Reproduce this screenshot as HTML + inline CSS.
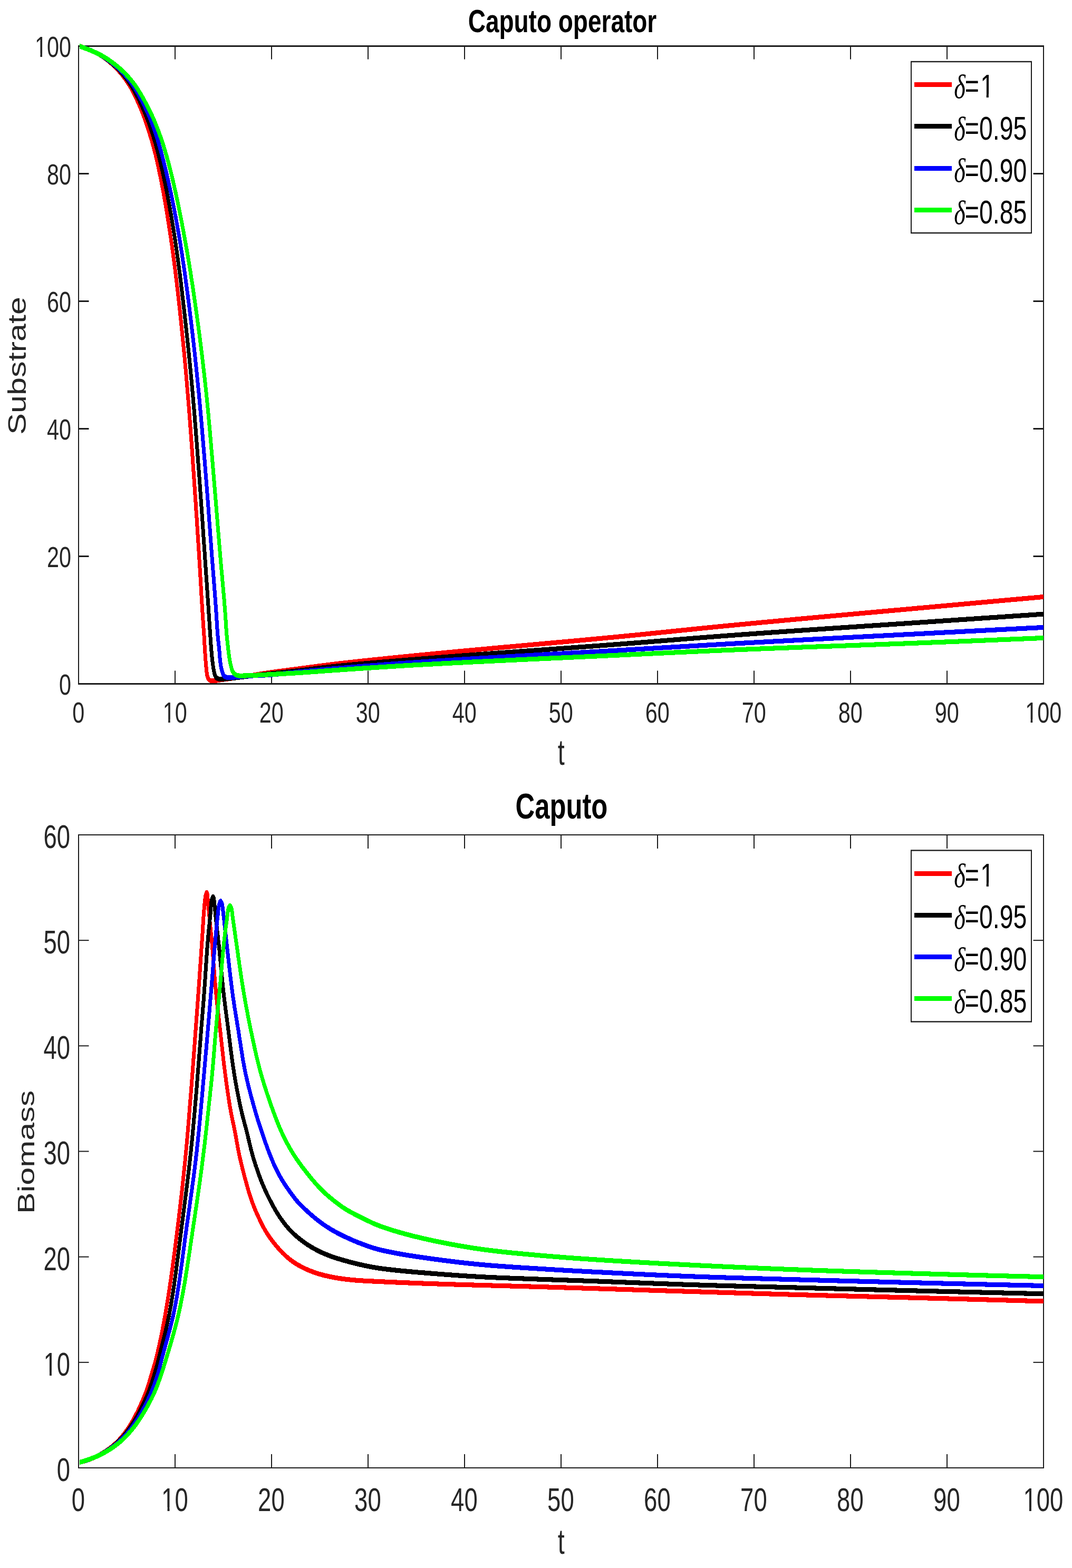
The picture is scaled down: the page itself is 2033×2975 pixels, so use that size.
<!DOCTYPE html>
<html lang="en"><head><meta charset="utf-8"><title>Caputo operator</title>
<style>html,body{margin:0;padding:0;background:#fff}body{width:2033px;height:2975px;overflow:hidden}</style></head>
<body>
<svg width="2033" height="2975" viewBox="0 0 2033 2975" style="display:block;font-kerning:none">
<rect width="2033" height="2975" fill="#ffffff"/>
<g fill="#1c1c1c">
<rect x="148.00" y="86.00" width="1832.00" height="3.00"/>
<rect x="148.00" y="1296.00" width="1832.00" height="3.00"/>
<rect x="148.00" y="87.50" width="2.00" height="1210.00"/>
<rect x="1978.00" y="87.50" width="2.00" height="1210.00"/>
<rect x="331.00" y="1272.50" width="2.00" height="25.00"/>
<rect x="331.00" y="87.50" width="2.00" height="25.00"/>
<rect x="514.00" y="1272.50" width="2.00" height="25.00"/>
<rect x="514.00" y="87.50" width="2.00" height="25.00"/>
<rect x="697.00" y="1272.50" width="2.00" height="25.00"/>
<rect x="697.00" y="87.50" width="2.00" height="25.00"/>
<rect x="880.00" y="1272.50" width="2.00" height="25.00"/>
<rect x="880.00" y="87.50" width="2.00" height="25.00"/>
<rect x="1063.00" y="1272.50" width="2.00" height="25.00"/>
<rect x="1063.00" y="87.50" width="2.00" height="25.00"/>
<rect x="1246.00" y="1272.50" width="2.00" height="25.00"/>
<rect x="1246.00" y="87.50" width="2.00" height="25.00"/>
<rect x="1429.00" y="1272.50" width="2.00" height="25.00"/>
<rect x="1429.00" y="87.50" width="2.00" height="25.00"/>
<rect x="1612.00" y="1272.50" width="2.00" height="25.00"/>
<rect x="1612.00" y="87.50" width="2.00" height="25.00"/>
<rect x="1795.00" y="1272.50" width="2.00" height="25.00"/>
<rect x="1795.00" y="87.50" width="2.00" height="25.00"/>
<rect x="149.00" y="1054.00" width="19.50" height="3.00"/>
<rect x="1959.50" y="1054.00" width="19.50" height="3.00"/>
<rect x="149.00" y="812.00" width="19.50" height="3.00"/>
<rect x="1959.50" y="812.00" width="19.50" height="3.00"/>
<rect x="149.00" y="570.00" width="19.50" height="3.00"/>
<rect x="1959.50" y="570.00" width="19.50" height="3.00"/>
<rect x="149.00" y="328.00" width="19.50" height="3.00"/>
<rect x="1959.50" y="328.00" width="19.50" height="3.00"/>
</g>
<g fill="#1c1c1c">
<rect x="148.00" y="1583.00" width="1832.00" height="2.00"/>
<rect x="148.00" y="2784.00" width="1832.00" height="2.00"/>
<rect x="148.00" y="1584.00" width="2.00" height="1201.00"/>
<rect x="1978.00" y="1584.00" width="2.00" height="1201.00"/>
<rect x="331.00" y="2759.00" width="2.00" height="26.00"/>
<rect x="331.00" y="1584.00" width="2.00" height="26.00"/>
<rect x="514.00" y="2759.00" width="2.00" height="26.00"/>
<rect x="514.00" y="1584.00" width="2.00" height="26.00"/>
<rect x="697.00" y="2759.00" width="2.00" height="26.00"/>
<rect x="697.00" y="1584.00" width="2.00" height="26.00"/>
<rect x="880.00" y="2759.00" width="2.00" height="26.00"/>
<rect x="880.00" y="1584.00" width="2.00" height="26.00"/>
<rect x="1063.00" y="2759.00" width="2.00" height="26.00"/>
<rect x="1063.00" y="1584.00" width="2.00" height="26.00"/>
<rect x="1246.00" y="2759.00" width="2.00" height="26.00"/>
<rect x="1246.00" y="1584.00" width="2.00" height="26.00"/>
<rect x="1429.00" y="2759.00" width="2.00" height="26.00"/>
<rect x="1429.00" y="1584.00" width="2.00" height="26.00"/>
<rect x="1612.00" y="2759.00" width="2.00" height="26.00"/>
<rect x="1612.00" y="1584.00" width="2.00" height="26.00"/>
<rect x="1795.00" y="2759.00" width="2.00" height="26.00"/>
<rect x="1795.00" y="1584.00" width="2.00" height="26.00"/>
<rect x="149.00" y="2583.83" width="19.50" height="2.00"/>
<rect x="1959.50" y="2583.83" width="19.50" height="2.00"/>
<rect x="149.00" y="2383.66" width="19.50" height="2.00"/>
<rect x="1959.50" y="2383.66" width="19.50" height="2.00"/>
<rect x="149.00" y="2183.49" width="19.50" height="2.00"/>
<rect x="1959.50" y="2183.49" width="19.50" height="2.00"/>
<rect x="149.00" y="1983.32" width="19.50" height="2.00"/>
<rect x="1959.50" y="1983.32" width="19.50" height="2.00"/>
<rect x="149.00" y="1783.15" width="19.50" height="2.00"/>
<rect x="1959.50" y="1783.15" width="19.50" height="2.00"/>
</g>
<text transform="translate(148.70 1371.46) scale(0.7458 1)" font-family="&quot;Liberation Sans&quot;, sans-serif" font-size="55.51" font-weight="normal" font-style="normal" text-anchor="middle" fill="#262626">0</text>
<text transform="translate(331.70 1371.46) scale(0.7458 1)" font-family="&quot;Liberation Sans&quot;, sans-serif" font-size="55.51" font-weight="normal" font-style="normal" text-anchor="middle" fill="#262626">10</text>
<rect x="310.83" y="1364.81" width="8.26" height="7.65" fill="#fff"/>
<rect x="322.74" y="1364.81" width="7.93" height="7.65" fill="#fff"/>
<text transform="translate(514.70 1371.46) scale(0.7458 1)" font-family="&quot;Liberation Sans&quot;, sans-serif" font-size="55.51" font-weight="normal" font-style="normal" text-anchor="middle" fill="#262626">20</text>
<text transform="translate(697.70 1371.46) scale(0.7458 1)" font-family="&quot;Liberation Sans&quot;, sans-serif" font-size="55.51" font-weight="normal" font-style="normal" text-anchor="middle" fill="#262626">30</text>
<text transform="translate(880.70 1371.46) scale(0.7458 1)" font-family="&quot;Liberation Sans&quot;, sans-serif" font-size="55.51" font-weight="normal" font-style="normal" text-anchor="middle" fill="#262626">40</text>
<text transform="translate(1063.70 1371.46) scale(0.7458 1)" font-family="&quot;Liberation Sans&quot;, sans-serif" font-size="55.51" font-weight="normal" font-style="normal" text-anchor="middle" fill="#262626">50</text>
<text transform="translate(1246.70 1371.46) scale(0.7458 1)" font-family="&quot;Liberation Sans&quot;, sans-serif" font-size="55.51" font-weight="normal" font-style="normal" text-anchor="middle" fill="#262626">60</text>
<text transform="translate(1429.70 1371.46) scale(0.7458 1)" font-family="&quot;Liberation Sans&quot;, sans-serif" font-size="55.51" font-weight="normal" font-style="normal" text-anchor="middle" fill="#262626">70</text>
<text transform="translate(1612.70 1371.46) scale(0.7458 1)" font-family="&quot;Liberation Sans&quot;, sans-serif" font-size="55.51" font-weight="normal" font-style="normal" text-anchor="middle" fill="#262626">80</text>
<text transform="translate(1795.70 1371.46) scale(0.7458 1)" font-family="&quot;Liberation Sans&quot;, sans-serif" font-size="55.51" font-weight="normal" font-style="normal" text-anchor="middle" fill="#262626">90</text>
<text transform="translate(1978.70 1371.46) scale(0.7458 1)" font-family="&quot;Liberation Sans&quot;, sans-serif" font-size="55.51" font-weight="normal" font-style="normal" text-anchor="middle" fill="#262626">100</text>
<rect x="1946.32" y="1364.81" width="8.26" height="7.65" fill="#fff"/>
<rect x="1958.23" y="1364.81" width="7.93" height="7.65" fill="#fff"/>
<text transform="translate(135.00 1318.30) scale(0.7458 1)" font-family="&quot;Liberation Sans&quot;, sans-serif" font-size="55.51" font-weight="normal" font-style="normal" text-anchor="end" fill="#262626">0</text>
<text transform="translate(135.00 1076.30) scale(0.7458 1)" font-family="&quot;Liberation Sans&quot;, sans-serif" font-size="55.51" font-weight="normal" font-style="normal" text-anchor="end" fill="#262626">20</text>
<text transform="translate(135.00 834.30) scale(0.7458 1)" font-family="&quot;Liberation Sans&quot;, sans-serif" font-size="55.51" font-weight="normal" font-style="normal" text-anchor="end" fill="#262626">40</text>
<text transform="translate(135.00 592.30) scale(0.7458 1)" font-family="&quot;Liberation Sans&quot;, sans-serif" font-size="55.51" font-weight="normal" font-style="normal" text-anchor="end" fill="#262626">60</text>
<text transform="translate(135.00 350.30) scale(0.7458 1)" font-family="&quot;Liberation Sans&quot;, sans-serif" font-size="55.51" font-weight="normal" font-style="normal" text-anchor="end" fill="#262626">80</text>
<text transform="translate(135.00 108.30) scale(0.7458 1)" font-family="&quot;Liberation Sans&quot;, sans-serif" font-size="55.51" font-weight="normal" font-style="normal" text-anchor="end" fill="#262626">100</text>
<rect x="68.08" y="101.65" width="8.26" height="7.65" fill="#fff"/>
<rect x="80.00" y="101.65" width="7.93" height="7.65" fill="#fff"/>
<text transform="translate(148.40 2867.18) scale(0.7191 1)" font-family="&quot;Liberation Sans&quot;, sans-serif" font-size="63.28" font-weight="normal" font-style="normal" text-anchor="middle" fill="#262626">0</text>
<text transform="translate(331.40 2867.18) scale(0.7191 1)" font-family="&quot;Liberation Sans&quot;, sans-serif" font-size="63.28" font-weight="normal" font-style="normal" text-anchor="middle" fill="#262626">10</text>
<rect x="308.56" y="2859.95" width="8.98" height="8.23" fill="#fff"/>
<rect x="321.56" y="2859.95" width="8.62" height="8.23" fill="#fff"/>
<text transform="translate(514.40 2867.18) scale(0.7191 1)" font-family="&quot;Liberation Sans&quot;, sans-serif" font-size="63.28" font-weight="normal" font-style="normal" text-anchor="middle" fill="#262626">20</text>
<text transform="translate(697.40 2867.18) scale(0.7191 1)" font-family="&quot;Liberation Sans&quot;, sans-serif" font-size="63.28" font-weight="normal" font-style="normal" text-anchor="middle" fill="#262626">30</text>
<text transform="translate(880.40 2867.18) scale(0.7191 1)" font-family="&quot;Liberation Sans&quot;, sans-serif" font-size="63.28" font-weight="normal" font-style="normal" text-anchor="middle" fill="#262626">40</text>
<text transform="translate(1063.40 2867.18) scale(0.7191 1)" font-family="&quot;Liberation Sans&quot;, sans-serif" font-size="63.28" font-weight="normal" font-style="normal" text-anchor="middle" fill="#262626">50</text>
<text transform="translate(1246.40 2867.18) scale(0.7191 1)" font-family="&quot;Liberation Sans&quot;, sans-serif" font-size="63.28" font-weight="normal" font-style="normal" text-anchor="middle" fill="#262626">60</text>
<text transform="translate(1429.40 2867.18) scale(0.7191 1)" font-family="&quot;Liberation Sans&quot;, sans-serif" font-size="63.28" font-weight="normal" font-style="normal" text-anchor="middle" fill="#262626">70</text>
<text transform="translate(1612.40 2867.18) scale(0.7191 1)" font-family="&quot;Liberation Sans&quot;, sans-serif" font-size="63.28" font-weight="normal" font-style="normal" text-anchor="middle" fill="#262626">80</text>
<text transform="translate(1795.40 2867.18) scale(0.7191 1)" font-family="&quot;Liberation Sans&quot;, sans-serif" font-size="63.28" font-weight="normal" font-style="normal" text-anchor="middle" fill="#262626">90</text>
<text transform="translate(1978.40 2867.18) scale(0.7191 1)" font-family="&quot;Liberation Sans&quot;, sans-serif" font-size="63.28" font-weight="normal" font-style="normal" text-anchor="middle" fill="#262626">100</text>
<rect x="1942.91" y="2859.95" width="8.98" height="8.23" fill="#fff"/>
<rect x="1955.91" y="2859.95" width="8.62" height="8.23" fill="#fff"/>
<text transform="translate(133.10 2810.00) scale(0.7191 1)" font-family="&quot;Liberation Sans&quot;, sans-serif" font-size="63.28" font-weight="normal" font-style="normal" text-anchor="end" fill="#262626">0</text>
<text transform="translate(133.10 2609.83) scale(0.7191 1)" font-family="&quot;Liberation Sans&quot;, sans-serif" font-size="63.28" font-weight="normal" font-style="normal" text-anchor="end" fill="#262626">10</text>
<rect x="84.96" y="2602.60" width="8.98" height="8.23" fill="#fff"/>
<rect x="97.95" y="2602.60" width="8.62" height="8.23" fill="#fff"/>
<text transform="translate(133.10 2409.66) scale(0.7191 1)" font-family="&quot;Liberation Sans&quot;, sans-serif" font-size="63.28" font-weight="normal" font-style="normal" text-anchor="end" fill="#262626">20</text>
<text transform="translate(133.10 2209.49) scale(0.7191 1)" font-family="&quot;Liberation Sans&quot;, sans-serif" font-size="63.28" font-weight="normal" font-style="normal" text-anchor="end" fill="#262626">30</text>
<text transform="translate(133.10 2009.32) scale(0.7191 1)" font-family="&quot;Liberation Sans&quot;, sans-serif" font-size="63.28" font-weight="normal" font-style="normal" text-anchor="end" fill="#262626">40</text>
<text transform="translate(133.10 1809.15) scale(0.7191 1)" font-family="&quot;Liberation Sans&quot;, sans-serif" font-size="63.28" font-weight="normal" font-style="normal" text-anchor="end" fill="#262626">50</text>
<text transform="translate(133.10 1608.98) scale(0.7191 1)" font-family="&quot;Liberation Sans&quot;, sans-serif" font-size="63.28" font-weight="normal" font-style="normal" text-anchor="end" fill="#262626">60</text>
<text transform="translate(887.71 61.04) scale(0.7476 1)" font-family="&quot;Liberation Sans&quot;, sans-serif" font-size="61.50" font-weight="bold" font-style="normal" text-anchor="start" fill="#000">Caputo operator</text>
<text transform="translate(977.52 1553.43) scale(0.7382 1)" font-family="&quot;Liberation Sans&quot;, sans-serif" font-size="68.78" font-weight="bold" font-style="normal" text-anchor="start" fill="#000">Caputo</text>
<text transform="translate(1057.69 1450.76) scale(0.6791 1)" font-family="&quot;Liberation Sans&quot;, sans-serif" font-size="68.62" font-weight="normal" font-style="normal" text-anchor="start" fill="#262626">t</text>
<text transform="translate(1057.69 2948.18) scale(0.6945 1)" font-family="&quot;Liberation Sans&quot;, sans-serif" font-size="67.09" font-weight="normal" font-style="normal" text-anchor="start" fill="#262626">t</text>
<text transform="translate(48.63 824.78) scale(0.7878 1) rotate(-90)" font-family="&quot;Liberation Sans&quot;, sans-serif" font-size="61.19" fill="#262626">Substrate</text>
<text transform="translate(64.66 2303.02) scale(0.7391 1) rotate(-90)" font-family="&quot;Liberation Sans&quot;, sans-serif" font-size="61.16" fill="#262626">Biomass</text>
<clipPath id="c1"><rect x="151" y="79.5" width="1828.0" height="1216.5"/></clipPath>
<g clip-path="url(#c1)"><g transform="scale(1 1.3)" fill="none" stroke-width="7.0" stroke-linejoin="round" stroke-linecap="butt" shape-rendering="crispEdges">
<path stroke="#ff0000" d="M149.0,66.92 L150.9,67.41 L152.8,67.91 L154.7,68.40 L156.6,68.91 L158.5,69.43 L160.3,69.95 L162.2,70.49 L164.1,71.04 L165.9,71.60 L167.8,72.17 L169.7,72.75 L171.5,73.35 L173.3,73.95 L175.2,74.57 L177.0,75.20 L178.8,75.85 L180.6,76.51 L182.4,77.19 L184.2,77.89 L186.0,78.61 L187.7,79.35 L189.4,80.11 L191.2,80.90 L192.9,81.72 L194.5,82.56 L196.2,83.42 L197.8,84.31 L199.4,85.22 L201.0,86.14 L202.6,87.09 L204.2,88.05 L205.7,89.02 L207.3,90.01 L208.8,91.01 L210.3,92.02 L211.8,93.05 L213.3,94.09 L214.7,95.13 L216.2,96.20 L217.6,97.27 L219.0,98.36 L220.4,99.46 L221.8,100.57 L223.2,101.69 L224.5,102.83 L225.8,103.97 L227.2,105.13 L228.5,106.30 L229.7,107.48 L231.0,108.67 L232.3,109.87 L233.5,111.09 L234.7,112.31 L235.9,113.54 L237.1,114.78 L238.3,116.03 L239.4,117.30 L240.5,118.57 L241.6,119.85 L242.7,121.14 L243.8,122.44 L244.8,123.75 L245.9,125.07 L246.9,126.40 L247.9,127.73 L248.9,129.07 L249.8,130.42 L250.8,131.78 L251.7,133.13 L252.6,134.50 L253.5,135.87 L254.4,137.25 L255.3,138.62 L256.2,140.01 L257.1,141.40 L257.9,142.79 L258.8,144.18 L259.6,145.58 L260.4,146.98 L261.3,148.38 L262.1,149.78 L262.9,151.19 L263.7,152.60 L264.5,154.02 L265.2,155.43 L266.0,156.85 L266.8,158.27 L267.6,159.69 L268.3,161.12 L269.0,162.55 L269.8,163.98 L270.5,165.41 L271.2,166.85 L271.9,168.29 L272.7,169.73 L273.3,171.17 L274.0,172.61 L274.7,174.06 L275.4,175.51 L276.1,176.96 L276.7,178.41 L277.4,179.87 L278.0,181.32 L278.6,182.78 L279.3,184.24 L279.9,185.70 L280.5,187.17 L281.1,188.63 L281.8,190.09 L282.4,191.56 L283.0,193.03 L283.6,194.49 L284.2,195.96 L284.7,197.43 L285.3,198.91 L285.9,200.38 L286.5,201.85 L287.1,203.33 L287.6,204.80 L288.2,206.28 L288.7,207.76 L289.3,209.24 L289.8,210.72 L290.3,212.21 L290.9,213.69 L291.4,215.18 L291.9,216.66 L292.4,218.15 L292.9,219.64 L293.4,221.13 L293.9,222.62 L294.4,224.11 L294.9,225.61 L295.3,227.10 L295.8,228.60 L296.3,230.10 L296.7,231.60 L297.2,233.10 L297.6,234.60 L298.1,236.10 L298.5,237.60 L298.9,239.10 L299.4,240.60 L299.8,242.11 L300.2,243.61 L300.6,245.11 L301.0,246.62 L301.5,248.12 L301.9,249.63 L302.3,251.14 L302.7,252.64 L303.1,254.15 L303.5,255.66 L303.9,257.16 L304.3,258.67 L304.7,260.18 L305.1,261.69 L305.5,263.20 L305.9,264.71 L306.2,266.22 L306.6,267.73 L307.0,269.24 L307.4,270.75 L307.8,272.26 L308.1,273.77 L308.5,275.28 L308.9,276.80 L309.2,278.31 L309.6,279.82 L310.0,281.34 L310.3,282.85 L310.7,284.36 L311.0,285.88 L311.4,287.39 L311.7,288.91 L312.1,290.42 L312.4,291.94 L312.8,293.45 L313.1,294.97 L313.5,296.49 L313.8,298.00 L314.1,299.52 L314.5,301.04 L314.8,302.55 L315.1,304.07 L315.5,305.59 L315.8,307.11 L316.1,308.62 L316.4,310.14 L316.8,311.66 L317.1,313.18 L317.4,314.70 L317.7,316.22 L318.0,317.74 L318.4,319.26 L318.7,320.78 L319.0,322.30 L319.3,323.82 L319.6,325.34 L319.9,326.86 L320.2,328.38 L320.5,329.90 L320.8,331.42 L321.1,332.94 L321.4,334.46 L321.7,335.98 L322.0,337.50 L322.3,339.02 L322.6,340.55 L322.9,342.07 L323.2,343.59 L323.5,345.11 L323.8,346.64 L324.1,348.16 L324.4,349.68 L324.6,351.20 L324.9,352.73 L325.2,354.25 L325.5,355.77 L325.8,357.30 L326.1,358.82 L326.3,360.34 L326.6,361.87 L326.9,363.39 L327.2,364.92 L327.4,366.44 L327.7,367.96 L328.0,369.49 L328.2,371.01 L328.5,372.54 L328.8,374.06 L329.0,375.59 L329.3,377.11 L329.6,378.64 L329.8,380.17 L330.1,381.69 L330.3,383.22 L330.6,384.74 L330.8,386.27 L331.1,387.80 L331.3,389.32 L331.6,390.85 L331.9,392.37 L332.1,393.90 L332.3,395.43 L332.6,396.96 L332.8,398.48 L333.1,400.01 L333.3,401.54 L333.6,403.06 L333.8,404.59 L334.1,406.12 L334.3,407.65 L334.5,409.17 L334.8,410.70 L335.0,412.23 L335.2,413.76 L335.5,415.29 L335.7,416.81 L335.9,418.34 L336.2,419.87 L336.4,421.40 L336.6,422.93 L336.9,424.46 L337.1,425.98 L337.3,427.51 L337.5,429.04 L337.8,430.57 L338.0,432.10 L338.2,433.63 L338.4,435.16 L338.7,436.69 L338.9,438.22 L339.1,439.74 L339.3,441.27 L339.6,442.80 L339.8,444.33 L340.0,445.86 L340.2,447.39 L340.4,448.92 L340.6,450.45 L340.9,451.98 L341.1,453.51 L341.3,455.04 L341.5,456.57 L341.7,458.10 L341.9,459.63 L342.1,461.16 L342.4,462.69 L342.6,464.22 L342.8,465.75 L343.0,467.28 L343.2,468.81 L343.4,470.34 L343.6,471.87 L343.8,473.40 L344.0,474.93 L344.2,476.46 L344.4,477.99 L344.6,479.52 L344.8,481.05 L345.0,482.58 L345.2,484.12 L345.4,485.65 L345.6,487.18 L345.8,488.71 L346.0,490.24 L346.2,491.77 L346.4,493.30 L346.6,494.83 L346.8,496.36 L347.0,497.89 L347.2,499.43 L347.4,500.96 L347.6,502.49 L347.8,504.02 L348.0,505.55 L348.2,507.08 L348.4,508.62 L348.6,510.15 L348.8,511.68 L349.0,513.21 L349.1,514.74 L349.3,516.27 L349.5,517.81 L349.7,519.34 L349.9,520.87 L350.1,522.40 L350.3,523.93 L350.4,525.47 L350.6,527.00 L350.8,528.53 L351.0,530.06 L351.2,531.59 L351.4,533.13 L351.5,534.66 L351.7,536.19 L351.9,537.72 L352.1,539.26 L352.3,540.79 L352.4,542.32 L352.6,543.85 L352.8,545.39 L353.0,546.92 L353.1,548.45 L353.3,549.99 L353.5,551.52 L353.7,553.05 L353.8,554.58 L354.0,556.12 L354.2,557.65 L354.4,559.18 L354.5,560.72 L354.7,562.25 L354.9,563.78 L355.0,565.32 L355.2,566.85 L355.4,568.38 L355.5,569.91 L355.7,571.45 L355.9,572.98 L356.0,574.51 L356.2,576.05 L356.4,577.58 L356.5,579.12 L356.7,580.65 L356.9,582.18 L357.0,583.72 L357.2,585.25 L357.3,586.78 L357.5,588.32 L357.7,589.85 L357.8,591.38 L358.0,592.92 L358.1,594.45 L358.3,595.99 L358.5,597.52 L358.6,599.05 L358.8,600.59 L358.9,602.12 L359.1,603.66 L359.2,605.19 L359.4,606.72 L359.5,608.26 L359.7,609.79 L359.8,611.33 L360.0,612.86 L360.1,614.39 L360.3,615.93 L360.4,617.46 L360.6,619.00 L360.7,620.53 L360.9,622.07 L361.0,623.60 L361.2,625.14 L361.3,626.67 L361.5,628.20 L361.6,629.74 L361.8,631.27 L361.9,632.81 L362.1,634.34 L362.2,635.88 L362.4,637.41 L362.5,638.95 L362.6,640.48 L362.8,642.02 L362.9,643.55 L363.1,645.09 L363.2,646.62 L363.4,648.15 L363.5,649.69 L363.6,651.22 L363.8,652.76 L363.9,654.29 L364.1,655.83 L364.2,657.36 L364.4,658.90 L364.5,660.43 L364.6,661.97 L364.8,663.50 L364.9,665.04 L365.1,666.57 L365.2,668.11 L365.3,669.64 L365.5,671.18 L365.6,672.71 L365.8,674.25 L365.9,675.78 L366.0,677.32 L366.2,678.85 L366.3,680.39 L366.5,681.92 L366.6,683.46 L366.7,684.99 L366.9,686.53 L367.0,688.06 L367.2,689.60 L367.3,691.13 L367.4,692.67 L367.6,694.20 L367.7,695.74 L367.8,697.27 L368.0,698.81 L368.1,700.34 L368.3,701.88 L368.4,703.41 L368.5,704.95 L368.7,706.48 L368.8,708.02 L368.9,709.55 L369.1,711.09 L369.2,712.62 L369.4,714.16 L369.5,715.69 L369.6,717.23 L369.8,718.76 L369.9,720.30 L370.0,721.83 L370.2,723.37 L370.3,724.90 L370.4,726.44 L370.6,727.97 L370.7,729.51 L370.8,731.04 L371.0,732.58 L371.1,734.11 L371.2,735.65 L371.4,737.18 L371.5,738.72 L371.6,740.25 L371.8,741.79 L371.9,743.32 L372.0,744.86 L372.2,746.40 L372.3,747.93 L372.4,749.47 L372.6,751.00 L372.7,752.54 L372.8,754.07 L373.0,755.61 L373.1,757.14 L373.2,758.68 L373.4,760.21 L373.5,761.75 L373.6,763.28 L373.7,764.82 L373.9,766.36 L374.0,767.89 L374.1,769.43 L374.3,770.96 L374.4,772.50 L374.5,774.03 L374.6,775.57 L374.8,777.10 L374.9,778.64 L375.0,780.17 L375.2,781.71 L375.3,783.25 L375.4,784.78 L375.5,786.32 L375.7,787.85 L375.8,789.39 L375.9,790.92 L376.0,792.46 L376.2,793.99 L376.3,795.53 L376.4,797.07 L376.6,798.60 L376.7,800.14 L376.8,801.67 L376.9,803.21 L377.1,804.74 L377.2,806.28 L377.3,807.81 L377.4,809.35 L377.6,810.89 L377.7,812.42 L377.8,813.96 L377.9,815.49 L378.0,817.03 L378.2,818.56 L378.3,820.10 L378.4,821.64 L378.5,823.17 L378.6,824.71 L378.8,826.24 L378.9,827.78 L379.0,829.32 L379.1,830.85 L379.2,832.39 L379.4,833.92 L379.5,835.46 L379.6,837.00 L379.7,838.53 L379.8,840.07 L379.9,841.60 L380.1,843.14 L380.2,844.68 L380.3,846.21 L380.4,847.75 L380.5,849.29 L380.6,850.82 L380.7,852.36 L380.9,853.89 L381.0,855.43 L381.1,856.97 L381.2,858.50 L381.3,860.04 L381.4,861.57 L381.6,863.11 L381.7,864.65 L381.8,866.18 L381.9,867.72 L382.0,869.25 L382.1,870.79 L382.3,872.33 L382.4,873.86 L382.5,875.40 L382.6,876.93 L382.7,878.47 L382.9,880.00 L383.0,881.54 L383.1,883.08 L383.2,884.61 L383.4,886.15 L383.5,887.68 L383.6,889.22 L383.7,890.75 L383.9,892.29 L384.0,893.83 L384.1,895.36 L384.2,896.90 L384.4,898.43 L384.5,899.97 L384.6,901.50 L384.8,903.04 L384.9,904.57 L385.1,906.11 L385.2,907.64 L385.3,909.18 L385.5,910.71 L385.6,912.25 L385.8,913.78 L385.9,915.32 L386.0,916.85 L386.2,918.39 L386.3,919.92 L386.4,921.46 L386.6,922.99 L386.7,924.53 L386.8,926.06 L387.0,927.60 L387.1,929.14 L387.2,930.67 L387.3,932.21 L387.4,933.74 L387.6,935.28 L387.7,936.81 L387.8,938.35 L387.9,939.89 L388.0,941.42 L388.1,942.96 L388.3,944.49 L388.4,946.03 L388.5,947.57 L388.6,949.10 L388.8,950.64 L388.9,952.17 L389.0,953.71 L389.2,955.24 L389.3,956.78 L389.4,958.31 L389.6,959.85 L389.7,961.38 L389.9,962.92 L390.0,964.45 L390.2,965.99 L390.3,967.52 L390.5,969.05 L390.6,970.59 L390.8,972.12 L391.0,973.65 L391.2,975.19 L391.3,976.72 L391.5,978.25 L391.8,979.78 L392.0,981.31 L392.3,982.83 L392.6,984.35 L392.9,985.87 L393.4,987.36 L394.0,988.83 L394.8,990.23 L395.9,991.53 L397.3,992.60 L399.1,993.24 L401.1,993.54 L403.1,993.60 L405.1,993.61 L407.1,993.55 L409.1,993.38 L411.0,993.14 L413.0,992.86 L415.0,992.58 L416.9,992.33 L418.9,992.12 L420.9,991.92 L422.9,991.73 L424.9,991.55 L426.9,991.36 L428.8,991.17 L430.8,990.98 L432.8,990.78 L434.8,990.57 L436.8,990.34 L438.8,990.12 L440.7,989.90 L442.7,989.68 L444.7,989.46 L446.7,989.24 L448.7,989.03 L450.6,988.82 L452.6,988.60 L454.6,988.39 L456.6,988.17 L458.6,987.96 L460.5,987.74 L462.5,987.52 L464.5,987.30 L466.5,987.08 L468.5,986.86 L470.4,986.63 L472.4,986.40 L474.4,986.17 L476.4,985.93 L478.3,985.69 L480.3,985.44 L482.3,985.18 L484.3,984.93 L486.2,984.67 L488.2,984.41 L490.2,984.16 L492.1,983.91 L494.1,983.66 L496.1,983.41 L498.1,983.17 L500.1,982.94 L502.0,982.71 L504.0,982.48 L506.0,982.26 L508.0,982.03 L509.9,981.82 L511.9,981.60 L513.9,981.38 L515.9,981.17 L517.9,980.96 L519.8,980.75 L521.8,980.54 L523.8,980.33 L525.8,980.13 L527.8,979.92 L529.8,979.72 L531.7,979.52 L533.7,979.32 L535.7,979.12 L537.7,978.92 L539.7,978.72 L541.7,978.52 L543.6,978.33 L545.6,978.13 L547.6,977.93 L549.6,977.73 L551.6,977.54 L553.6,977.34 L555.5,977.14 L557.5,976.94 L559.5,976.75 L561.5,976.55 L563.5,976.35 L565.5,976.15 L567.4,975.95 L569.4,975.75 L571.4,975.54 L573.4,975.34 L575.4,975.14 L577.4,974.93 L579.3,974.73 L581.3,974.52 L583.3,974.32 L585.3,974.11 L587.3,973.91 L589.3,973.70 L591.2,973.50 L593.2,973.29 L595.2,973.09 L597.2,972.88 L599.2,972.68 L601.2,972.48 L603.1,972.28 L605.1,972.07 L607.1,971.87 L609.1,971.67 L611.1,971.47 L613.1,971.28 L615.0,971.08 L617.0,970.89 L619.0,970.69 L621.0,970.50 L623.0,970.31 L625.0,970.12 L626.9,969.93 L628.9,969.75 L630.9,969.56 L632.9,969.38 L634.9,969.20 L636.9,969.02 L638.9,968.84 L640.8,968.66 L642.8,968.48 L644.8,968.31 L646.8,968.13 L648.8,967.95 L650.8,967.78 L652.8,967.61 L654.8,967.43 L656.7,967.26 L658.7,967.09 L660.7,966.91 L662.7,966.74 L664.7,966.57 L666.7,966.40 L668.7,966.24 L670.7,966.07 L672.6,965.90 L674.6,965.73 L676.6,965.56 L678.6,965.40 L680.6,965.23 L682.6,965.07 L684.6,964.90 L686.6,964.74 L688.6,964.57 L690.5,964.41 L692.5,964.25 L694.5,964.09 L696.5,963.92 L698.5,963.76 L700.5,963.60 L702.5,963.44 L704.5,963.28 L706.5,963.12 L708.5,962.96 L710.4,962.80 L712.4,962.64 L714.4,962.49 L716.4,962.33 L718.4,962.17 L720.4,962.01 L722.4,961.86 L724.4,961.70 L726.4,961.54 L728.3,961.39 L730.3,961.23 L732.3,961.07 L734.3,960.92 L736.3,960.76 L738.3,960.61 L740.3,960.45 L742.3,960.30 L744.3,960.14 L746.3,959.99 L748.2,959.83 L750.2,959.68 L752.2,959.53 L754.2,959.37 L756.2,959.22 L758.2,959.06 L760.2,958.91 L762.2,958.76 L764.2,958.60 L766.2,958.45 L768.2,958.30 L770.1,958.14 L772.1,957.99 L774.1,957.84 L776.1,957.68 L778.1,957.53 L780.1,957.38 L782.1,957.23 L784.1,957.07 L786.1,956.92 L788.1,956.77 L790.0,956.62 L792.0,956.46 L794.0,956.31 L796.0,956.16 L798.0,956.01 L800.0,955.86 L802.0,955.71 L804.0,955.56 L806.0,955.41 L808.0,955.26 L810.0,955.11 L811.9,954.96 L813.9,954.81 L815.9,954.66 L817.9,954.51 L819.9,954.37 L821.9,954.22 L823.9,954.07 L825.9,953.92 L827.9,953.77 L829.9,953.63 L831.9,953.48 L833.8,953.33 L835.8,953.19 L837.8,953.04 L839.8,952.89 L841.8,952.75 L843.8,952.60 L845.8,952.46 L847.8,952.31 L849.8,952.17 L851.8,952.02 L853.8,951.88 L855.7,951.73 L857.7,951.59 L859.7,951.44 L861.7,951.30 L863.7,951.16 L865.7,951.01 L867.7,950.87 L869.7,950.72 L871.7,950.58 L873.7,950.44 L875.7,950.30 L877.7,950.15 L879.6,950.01 L881.6,949.87 L883.6,949.73 L885.6,949.58 L887.6,949.44 L889.6,949.30 L891.6,949.16 L893.6,949.02 L895.6,948.87 L897.6,948.73 L899.6,948.59 L901.6,948.45 L903.5,948.31 L905.5,948.17 L907.5,948.03 L909.5,947.89 L911.5,947.75 L913.5,947.61 L915.5,947.47 L917.5,947.33 L919.5,947.19 L921.5,947.05 L923.5,946.91 L925.5,946.77 L927.5,946.63 L929.4,946.49 L931.4,946.35 L933.4,946.21 L935.4,946.07 L937.4,945.93 L939.4,945.79 L941.4,945.65 L943.4,945.51 L945.4,945.37 L947.4,945.24 L949.4,945.10 L951.4,944.96 L953.3,944.82 L955.3,944.68 L957.3,944.54 L959.3,944.40 L961.3,944.26 L963.3,944.13 L965.3,943.99 L967.3,943.85 L969.3,943.71 L971.3,943.57 L973.3,943.43 L975.3,943.30 L977.3,943.16 L979.2,943.02 L981.2,942.88 L983.2,942.74 L985.2,942.61 L987.2,942.47 L989.2,942.33 L991.2,942.19 L993.2,942.05 L995.2,941.92 L997.2,941.78 L999.2,941.64 L1001.2,941.50 L1003.2,941.36 L1005.1,941.22 L1007.1,941.09 L1009.1,940.95 L1011.1,940.81 L1013.1,940.67 L1015.1,940.53 L1017.1,940.40 L1019.1,940.26 L1021.1,940.12 L1023.1,939.98 L1025.1,939.84 L1027.1,939.70 L1029.0,939.57 L1031.0,939.43 L1033.0,939.29 L1035.0,939.15 L1037.0,939.01 L1039.0,938.87 L1041.0,938.73 L1043.0,938.60 L1045.0,938.46 L1047.0,938.32 L1049.0,938.18 L1051.0,938.04 L1053.0,937.90 L1054.9,937.76 L1056.9,937.62 L1058.9,937.48 L1060.9,937.34 L1062.9,937.20 L1064.9,937.07 L1066.9,936.93 L1068.9,936.79 L1070.9,936.65 L1072.9,936.51 L1074.9,936.37 L1076.9,936.23 L1078.9,936.09 L1080.8,935.95 L1082.8,935.80 L1084.8,935.66 L1086.8,935.52 L1088.8,935.38 L1090.8,935.24 L1092.8,935.10 L1094.8,934.96 L1096.8,934.82 L1098.8,934.68 L1100.8,934.54 L1102.8,934.39 L1104.7,934.25 L1106.7,934.11 L1108.7,933.97 L1110.7,933.83 L1112.7,933.68 L1114.7,933.54 L1116.7,933.40 L1118.7,933.26 L1120.7,933.11 L1122.7,932.97 L1124.7,932.83 L1126.7,932.68 L1128.6,932.54 L1130.6,932.40 L1132.6,932.25 L1134.6,932.11 L1136.6,931.96 L1138.6,931.82 L1140.6,931.67 L1142.6,931.53 L1144.6,931.38 L1146.6,931.24 L1148.6,931.09 L1150.5,930.95 L1152.5,930.80 L1154.5,930.66 L1156.5,930.51 L1158.5,930.36 L1160.5,930.22 L1162.5,930.07 L1164.5,929.92 L1166.5,929.77 L1168.5,929.63 L1170.5,929.48 L1172.5,929.33 L1174.4,929.18 L1176.4,929.03 L1178.4,928.89 L1180.4,928.74 L1182.4,928.59 L1184.4,928.44 L1186.4,928.29 L1188.4,928.14 L1190.4,927.99 L1192.4,927.84 L1194.4,927.68 L1196.3,927.53 L1198.3,927.38 L1200.3,927.23 L1202.3,927.08 L1204.3,926.92 L1206.3,926.77 L1208.3,926.62 L1210.3,926.47 L1212.3,926.31 L1214.3,926.16 L1216.2,926.00 L1218.2,925.85 L1220.2,925.70 L1222.2,925.54 L1224.2,925.39 L1226.2,925.23 L1228.2,925.08 L1230.2,924.92 L1232.2,924.76 L1234.2,924.61 L1236.1,924.45 L1238.1,924.30 L1240.1,924.14 L1242.1,923.98 L1244.1,923.83 L1246.1,923.67 L1248.1,923.51 L1250.1,923.36 L1252.1,923.20 L1254.1,923.04 L1256.0,922.89 L1258.0,922.73 L1260.0,922.57 L1262.0,922.41 L1264.0,922.26 L1266.0,922.10 L1268.0,921.94 L1270.0,921.78 L1272.0,921.63 L1274.0,921.47 L1275.9,921.31 L1277.9,921.15 L1279.9,921.00 L1281.9,920.84 L1283.9,920.68 L1285.9,920.52 L1287.9,920.37 L1289.9,920.21 L1291.9,920.05 L1293.8,919.89 L1295.8,919.74 L1297.8,919.58 L1299.8,919.42 L1301.8,919.27 L1303.8,919.11 L1305.8,918.95 L1307.8,918.79 L1309.8,918.64 L1311.8,918.48 L1313.7,918.32 L1315.7,918.17 L1317.7,918.01 L1319.7,917.86 L1321.7,917.70 L1323.7,917.54 L1325.7,917.39 L1327.7,917.23 L1329.7,917.08 L1331.7,916.92 L1333.6,916.77 L1335.6,916.61 L1337.6,916.46 L1339.6,916.30 L1341.6,916.15 L1343.6,916.00 L1345.6,915.84 L1347.6,915.69 L1349.6,915.54 L1351.6,915.38 L1353.5,915.23 L1355.5,915.08 L1357.5,914.93 L1359.5,914.78 L1361.5,914.62 L1363.5,914.47 L1365.5,914.32 L1367.5,914.17 L1369.5,914.02 L1371.5,913.87 L1373.5,913.72 L1375.4,913.57 L1377.4,913.42 L1379.4,913.27 L1381.4,913.13 L1383.4,912.98 L1385.4,912.83 L1387.4,912.68 L1389.4,912.53 L1391.4,912.39 L1393.4,912.24 L1395.4,912.09 L1397.3,911.94 L1399.3,911.80 L1401.3,911.65 L1403.3,911.50 L1405.3,911.36 L1407.3,911.21 L1409.3,911.06 L1411.3,910.92 L1413.3,910.77 L1415.3,910.63 L1417.3,910.48 L1419.3,910.33 L1421.2,910.19 L1423.2,910.04 L1425.2,909.90 L1427.2,909.75 L1429.2,909.61 L1431.2,909.46 L1433.2,909.32 L1435.2,909.17 L1437.2,909.03 L1439.2,908.88 L1441.2,908.74 L1443.1,908.59 L1445.1,908.45 L1447.1,908.30 L1449.1,908.16 L1451.1,908.01 L1453.1,907.87 L1455.1,907.73 L1457.1,907.58 L1459.1,907.44 L1461.1,907.30 L1463.1,907.15 L1465.1,907.01 L1467.0,906.87 L1469.0,906.72 L1471.0,906.58 L1473.0,906.44 L1475.0,906.29 L1477.0,906.15 L1479.0,906.01 L1481.0,905.86 L1483.0,905.72 L1485.0,905.58 L1487.0,905.44 L1489.0,905.29 L1490.9,905.15 L1492.9,905.01 L1494.9,904.87 L1496.9,904.73 L1498.9,904.58 L1500.9,904.44 L1502.9,904.30 L1504.9,904.16 L1506.9,904.02 L1508.9,903.87 L1510.9,903.73 L1512.9,903.59 L1514.8,903.45 L1516.8,903.31 L1518.8,903.17 L1520.8,903.03 L1522.8,902.89 L1524.8,902.74 L1526.8,902.60 L1528.8,902.46 L1530.8,902.32 L1532.8,902.18 L1534.8,902.04 L1536.8,901.90 L1538.7,901.76 L1540.7,901.62 L1542.7,901.48 L1544.7,901.34 L1546.7,901.20 L1548.7,901.06 L1550.7,900.92 L1552.7,900.78 L1554.7,900.64 L1556.7,900.50 L1558.7,900.36 L1560.7,900.22 L1562.6,900.08 L1564.6,899.94 L1566.6,899.80 L1568.6,899.66 L1570.6,899.52 L1572.6,899.38 L1574.6,899.24 L1576.6,899.10 L1578.6,898.96 L1580.6,898.82 L1582.6,898.68 L1584.6,898.54 L1586.6,898.40 L1588.5,898.26 L1590.5,898.12 L1592.5,897.98 L1594.5,897.84 L1596.5,897.70 L1598.5,897.57 L1600.5,897.43 L1602.5,897.29 L1604.5,897.15 L1606.5,897.01 L1608.5,896.87 L1610.5,896.73 L1612.5,896.59 L1614.4,896.45 L1616.4,896.31 L1618.4,896.18 L1620.4,896.04 L1622.4,895.90 L1624.4,895.76 L1626.4,895.62 L1628.4,895.48 L1630.4,895.34 L1632.4,895.20 L1634.4,895.07 L1636.4,894.93 L1638.3,894.79 L1640.3,894.65 L1642.3,894.51 L1644.3,894.37 L1646.3,894.23 L1648.3,894.10 L1650.3,893.96 L1652.3,893.82 L1654.3,893.68 L1656.3,893.54 L1658.3,893.40 L1660.3,893.27 L1662.3,893.13 L1664.2,892.99 L1666.2,892.85 L1668.2,892.71 L1670.2,892.57 L1672.2,892.43 L1674.2,892.30 L1676.2,892.16 L1678.2,892.02 L1680.2,891.88 L1682.2,891.74 L1684.2,891.60 L1686.2,891.47 L1688.2,891.33 L1690.1,891.19 L1692.1,891.05 L1694.1,890.91 L1696.1,890.77 L1698.1,890.63 L1700.1,890.50 L1702.1,890.36 L1704.1,890.22 L1706.1,890.08 L1708.1,889.94 L1710.1,889.80 L1712.1,889.66 L1714.0,889.53 L1716.0,889.39 L1718.0,889.25 L1720.0,889.11 L1722.0,888.97 L1724.0,888.83 L1726.0,888.69 L1728.0,888.56 L1730.0,888.42 L1732.0,888.28 L1734.0,888.14 L1736.0,888.00 L1738.0,887.86 L1739.9,887.72 L1741.9,887.58 L1743.9,887.44 L1745.9,887.31 L1747.9,887.17 L1749.9,887.03 L1751.9,886.89 L1753.9,886.75 L1755.9,886.61 L1757.9,886.47 L1759.9,886.33 L1761.9,886.19 L1763.9,886.05 L1765.8,885.91 L1767.8,885.77 L1769.8,885.64 L1771.8,885.50 L1773.8,885.36 L1775.8,885.22 L1777.8,885.08 L1779.8,884.94 L1781.8,884.80 L1783.8,884.66 L1785.8,884.52 L1787.8,884.38 L1789.7,884.24 L1791.7,884.10 L1793.7,883.96 L1795.7,883.82 L1797.7,883.68 L1799.7,883.54 L1801.7,883.40 L1803.7,883.26 L1805.7,883.12 L1807.7,882.99 L1809.7,882.85 L1811.7,882.71 L1813.7,882.57 L1815.6,882.43 L1817.6,882.29 L1819.6,882.15 L1821.6,882.01 L1823.6,881.87 L1825.6,881.73 L1827.6,881.59 L1829.6,881.45 L1831.6,881.32 L1833.6,881.18 L1835.6,881.04 L1837.6,880.90 L1839.5,880.76 L1841.5,880.62 L1843.5,880.48 L1845.5,880.34 L1847.5,880.20 L1849.5,880.07 L1851.5,879.93 L1853.5,879.79 L1855.5,879.65 L1857.5,879.51 L1859.5,879.37 L1861.5,879.23 L1863.5,879.09 L1865.4,878.96 L1867.4,878.82 L1869.4,878.68 L1871.4,878.54 L1873.4,878.40 L1875.4,878.26 L1877.4,878.12 L1879.4,877.98 L1881.4,877.85 L1883.4,877.71 L1885.4,877.57 L1887.4,877.43 L1889.4,877.29 L1891.3,877.15 L1893.3,877.02 L1895.3,876.88 L1897.3,876.74 L1899.3,876.60 L1901.3,876.46 L1903.3,876.32 L1905.3,876.19 L1907.3,876.05 L1909.3,875.91 L1911.3,875.77 L1913.3,875.63 L1915.2,875.49 L1917.2,875.36 L1919.2,875.22 L1921.2,875.08 L1923.2,874.94 L1925.2,874.80 L1927.2,874.66 L1929.2,874.53 L1931.2,874.39 L1933.2,874.25 L1935.2,874.11 L1937.2,873.97 L1939.2,873.84 L1941.1,873.70 L1943.1,873.56 L1945.1,873.42 L1947.1,873.28 L1949.1,873.15 L1951.1,873.01 L1953.1,872.87 L1955.1,872.73 L1957.1,872.59 L1959.1,872.46 L1961.1,872.32 L1963.1,872.18 L1965.1,872.04 L1967.0,871.90 L1969.0,871.77 L1971.0,871.63 L1973.0,871.49 L1975.0,871.35 L1977.0,871.21 L1979.0,871.08"/>
<path stroke="#000000" d="M149.0,66.92 L150.9,67.42 L152.8,67.92 L154.7,68.42 L156.6,68.93 L158.5,69.45 L160.3,69.98 L162.2,70.52 L164.1,71.07 L165.9,71.63 L167.8,72.20 L169.6,72.78 L171.5,73.38 L173.3,73.98 L175.2,74.59 L177.0,75.22 L178.8,75.86 L180.6,76.51 L182.4,77.18 L184.2,77.87 L186.0,78.57 L187.8,79.30 L189.5,80.04 L191.3,80.81 L193.0,81.60 L194.7,82.41 L196.4,83.24 L198.0,84.10 L199.7,84.97 L201.3,85.86 L202.9,86.77 L204.5,87.70 L206.1,88.64 L207.7,89.59 L209.2,90.55 L210.8,91.53 L212.3,92.52 L213.8,93.52 L215.3,94.54 L216.8,95.56 L218.3,96.60 L219.8,97.65 L221.2,98.71 L222.7,99.79 L224.1,100.88 L225.5,101.98 L226.9,103.09 L228.2,104.21 L229.6,105.35 L230.9,106.49 L232.2,107.65 L233.5,108.81 L234.8,109.99 L236.1,111.18 L237.4,112.38 L238.6,113.58 L239.8,114.80 L241.0,116.03 L242.2,117.27 L243.4,118.52 L244.5,119.78 L245.7,121.05 L246.8,122.33 L247.9,123.62 L249.0,124.92 L250.0,126.22 L251.0,127.54 L252.1,128.86 L253.1,130.19 L254.1,131.53 L255.0,132.88 L256.0,134.22 L257.0,135.58 L257.9,136.94 L258.8,138.30 L259.7,139.67 L260.6,141.04 L261.5,142.42 L262.4,143.80 L263.3,145.18 L264.2,146.56 L265.1,147.95 L265.9,149.34 L266.8,150.74 L267.6,152.13 L268.5,153.53 L269.3,154.93 L270.1,156.33 L270.9,157.74 L271.7,159.15 L272.5,160.56 L273.3,161.97 L274.1,163.39 L274.9,164.81 L275.7,166.23 L276.4,167.65 L277.2,169.08 L277.9,170.51 L278.6,171.94 L279.4,173.38 L280.1,174.82 L280.8,176.26 L281.5,177.70 L282.1,179.15 L282.8,180.60 L283.5,182.05 L284.2,183.50 L284.8,184.96 L285.5,186.41 L286.1,187.87 L286.7,189.33 L287.4,190.79 L288.0,192.25 L288.6,193.72 L289.2,195.18 L289.8,196.65 L290.4,198.12 L291.0,199.59 L291.6,201.06 L292.2,202.53 L292.8,204.00 L293.4,205.48 L293.9,206.95 L294.5,208.43 L295.1,209.91 L295.6,211.39 L296.2,212.87 L296.7,214.35 L297.2,215.83 L297.8,217.32 L298.3,218.81 L298.8,220.29 L299.3,221.78 L299.8,223.27 L300.3,224.76 L300.8,226.25 L301.3,227.75 L301.8,229.24 L302.3,230.74 L302.7,232.23 L303.2,233.73 L303.7,235.23 L304.1,236.72 L304.6,238.22 L305.0,239.72 L305.5,241.22 L305.9,242.72 L306.4,244.22 L306.8,245.72 L307.3,247.22 L307.7,248.73 L308.2,250.23 L308.6,251.73 L309.0,253.23 L309.5,254.74 L309.9,256.24 L310.3,257.75 L310.7,259.25 L311.1,260.76 L311.6,262.26 L312.0,263.77 L312.4,265.28 L312.8,266.78 L313.2,268.29 L313.6,269.80 L314.0,271.30 L314.4,272.81 L314.8,274.32 L315.2,275.83 L315.6,277.34 L316.0,278.85 L316.4,280.36 L316.8,281.87 L317.1,283.38 L317.5,284.89 L317.9,286.40 L318.3,287.92 L318.7,289.43 L319.0,290.94 L319.4,292.45 L319.8,293.97 L320.1,295.48 L320.5,296.99 L320.9,298.51 L321.2,300.02 L321.6,301.54 L321.9,303.05 L322.3,304.57 L322.6,306.08 L323.0,307.60 L323.3,309.11 L323.7,310.63 L324.0,312.15 L324.4,313.66 L324.7,315.18 L325.1,316.70 L325.4,318.21 L325.7,319.73 L326.1,321.25 L326.4,322.77 L326.7,324.29 L327.1,325.81 L327.4,327.32 L327.7,328.84 L328.0,330.36 L328.4,331.88 L328.7,333.40 L329.0,334.92 L329.3,336.44 L329.6,337.96 L329.9,339.48 L330.2,341.00 L330.6,342.52 L330.9,344.05 L331.2,345.57 L331.5,347.09 L331.8,348.61 L332.1,350.13 L332.4,351.65 L332.7,353.18 L333.0,354.70 L333.3,356.22 L333.6,357.74 L333.8,359.27 L334.1,360.79 L334.4,362.32 L334.7,363.84 L335.0,365.36 L335.3,366.89 L335.6,368.41 L335.8,369.94 L336.1,371.46 L336.4,372.99 L336.7,374.51 L336.9,376.04 L337.2,377.56 L337.5,379.09 L337.7,380.61 L338.0,382.14 L338.3,383.66 L338.5,385.19 L338.8,386.72 L339.1,388.24 L339.3,389.77 L339.6,391.29 L339.8,392.82 L340.1,394.35 L340.3,395.87 L340.6,397.40 L340.9,398.93 L341.1,400.46 L341.4,401.98 L341.6,403.51 L341.9,405.04 L342.1,406.57 L342.3,408.09 L342.6,409.62 L342.8,411.15 L343.1,412.68 L343.3,414.21 L343.6,415.73 L343.8,417.26 L344.0,418.79 L344.3,420.32 L344.5,421.85 L344.8,423.38 L345.0,424.90 L345.2,426.43 L345.5,427.96 L345.7,429.49 L345.9,431.02 L346.2,432.55 L346.4,434.08 L346.6,435.61 L346.9,437.14 L347.1,438.67 L347.3,440.19 L347.6,441.72 L347.8,443.25 L348.0,444.78 L348.2,446.31 L348.5,447.84 L348.7,449.37 L348.9,450.90 L349.2,452.43 L349.4,453.96 L349.6,455.49 L349.8,457.02 L350.1,458.55 L350.3,460.08 L350.5,461.61 L350.7,463.14 L351.0,464.67 L351.2,466.20 L351.4,467.73 L351.6,469.26 L351.8,470.79 L352.1,472.32 L352.3,473.85 L352.5,475.38 L352.7,476.91 L352.9,478.44 L353.2,479.97 L353.4,481.50 L353.6,483.03 L353.8,484.56 L354.0,486.09 L354.2,487.62 L354.5,489.15 L354.7,490.68 L354.9,492.21 L355.1,493.74 L355.3,495.27 L355.5,496.80 L355.7,498.34 L355.9,499.87 L356.2,501.40 L356.4,502.93 L356.6,504.46 L356.8,505.99 L357.0,507.52 L357.2,509.05 L357.4,510.58 L357.6,512.12 L357.8,513.65 L358.0,515.18 L358.2,516.71 L358.4,518.24 L358.6,519.77 L358.8,521.30 L359.0,522.84 L359.2,524.37 L359.4,525.90 L359.6,527.43 L359.8,528.96 L360.0,530.50 L360.2,532.03 L360.4,533.56 L360.6,535.09 L360.8,536.62 L361.0,538.16 L361.2,539.69 L361.4,541.22 L361.6,542.75 L361.8,544.29 L362.0,545.82 L362.1,547.35 L362.3,548.88 L362.5,550.42 L362.7,551.95 L362.9,553.48 L363.1,555.01 L363.3,556.55 L363.5,558.08 L363.6,559.61 L363.8,561.14 L364.0,562.68 L364.2,564.21 L364.4,565.74 L364.6,567.28 L364.7,568.81 L364.9,570.34 L365.1,571.88 L365.3,573.41 L365.5,574.94 L365.6,576.48 L365.8,578.01 L366.0,579.54 L366.2,581.08 L366.3,582.61 L366.5,584.14 L366.7,585.68 L366.9,587.21 L367.0,588.74 L367.2,590.28 L367.4,591.81 L367.6,593.35 L367.7,594.88 L367.9,596.41 L368.1,597.95 L368.2,599.48 L368.4,601.02 L368.6,602.55 L368.7,604.08 L368.9,605.62 L369.1,607.15 L369.2,608.69 L369.4,610.22 L369.5,611.76 L369.7,613.29 L369.9,614.83 L370.0,616.36 L370.2,617.89 L370.4,619.43 L370.5,620.96 L370.7,622.50 L370.8,624.03 L371.0,625.57 L371.1,627.10 L371.3,628.64 L371.5,630.17 L371.6,631.71 L371.8,633.24 L371.9,634.78 L372.1,636.31 L372.2,637.84 L372.4,639.38 L372.6,640.91 L372.7,642.45 L372.9,643.98 L373.0,645.52 L373.2,647.05 L373.3,648.59 L373.5,650.12 L373.6,651.66 L373.8,653.19 L373.9,654.73 L374.1,656.26 L374.2,657.80 L374.4,659.33 L374.5,660.87 L374.7,662.40 L374.8,663.94 L375.0,665.47 L375.1,667.01 L375.3,668.54 L375.4,670.08 L375.6,671.62 L375.7,673.15 L375.9,674.69 L376.0,676.22 L376.2,677.76 L376.3,679.29 L376.5,680.83 L376.6,682.36 L376.8,683.90 L376.9,685.43 L377.1,686.97 L377.2,688.50 L377.4,690.04 L377.5,691.57 L377.7,693.11 L377.8,694.64 L378.0,696.18 L378.1,697.71 L378.3,699.25 L378.4,700.78 L378.6,702.32 L378.7,703.85 L378.9,705.39 L379.0,706.93 L379.1,708.46 L379.3,710.00 L379.4,711.53 L379.6,713.07 L379.7,714.60 L379.9,716.14 L380.0,717.67 L380.2,719.21 L380.3,720.74 L380.4,722.28 L380.6,723.81 L380.7,725.35 L380.9,726.89 L381.0,728.42 L381.2,729.96 L381.3,731.49 L381.4,733.03 L381.6,734.56 L381.7,736.10 L381.9,737.64 L382.0,739.17 L382.2,740.71 L382.3,742.24 L382.4,743.78 L382.6,745.31 L382.7,746.85 L382.9,748.38 L383.0,749.92 L383.1,751.46 L383.3,752.99 L383.4,754.53 L383.5,756.06 L383.7,757.60 L383.8,759.13 L384.0,760.67 L384.1,762.21 L384.2,763.74 L384.4,765.28 L384.5,766.81 L384.7,768.35 L384.8,769.89 L384.9,771.42 L385.1,772.96 L385.2,774.49 L385.4,776.03 L385.5,777.56 L385.6,779.10 L385.8,780.64 L385.9,782.17 L386.0,783.71 L386.2,785.24 L386.3,786.78 L386.5,788.31 L386.6,789.85 L386.7,791.39 L386.9,792.92 L387.0,794.46 L387.1,795.99 L387.3,797.53 L387.4,799.07 L387.6,800.60 L387.7,802.14 L387.8,803.67 L388.0,805.21 L388.1,806.74 L388.3,808.28 L388.4,809.82 L388.5,811.35 L388.7,812.89 L388.8,814.42 L388.9,815.96 L389.1,817.49 L389.2,819.03 L389.4,820.57 L389.5,822.10 L389.6,823.64 L389.8,825.17 L389.9,826.71 L390.0,828.25 L390.2,829.78 L390.3,831.32 L390.5,832.85 L390.6,834.39 L390.7,835.92 L390.9,837.46 L391.0,839.00 L391.1,840.53 L391.3,842.07 L391.4,843.60 L391.6,845.14 L391.7,846.68 L391.8,848.21 L392.0,849.75 L392.1,851.28 L392.2,852.82 L392.4,854.35 L392.5,855.89 L392.6,857.43 L392.8,858.96 L392.9,860.50 L393.1,862.03 L393.2,863.57 L393.3,865.11 L393.5,866.64 L393.6,868.18 L393.7,869.71 L393.9,871.25 L394.0,872.79 L394.1,874.32 L394.3,875.86 L394.4,877.39 L394.5,878.93 L394.7,880.47 L394.8,882.00 L395.0,883.54 L395.1,885.07 L395.2,886.61 L395.4,888.15 L395.5,889.68 L395.6,891.22 L395.8,892.75 L395.9,894.29 L396.0,895.82 L396.2,897.36 L396.3,898.90 L396.4,900.43 L396.6,901.97 L396.7,903.50 L396.8,905.04 L397.0,906.58 L397.1,908.11 L397.2,909.65 L397.4,911.19 L397.5,912.72 L397.6,914.26 L397.8,915.79 L397.9,917.33 L398.0,918.87 L398.2,920.40 L398.3,921.94 L398.4,923.47 L398.6,925.01 L398.7,926.55 L398.8,928.08 L399.0,929.62 L399.1,931.15 L399.2,932.69 L399.4,934.23 L399.5,935.76 L399.6,937.30 L399.8,938.83 L399.9,940.37 L400.1,941.90 L400.2,943.44 L400.4,944.97 L400.5,946.51 L400.7,948.04 L400.9,949.58 L401.1,951.11 L401.2,952.64 L401.4,954.18 L401.6,955.71 L401.8,957.24 L402.0,958.77 L402.2,960.30 L402.4,961.83 L402.6,963.36 L402.9,964.89 L403.1,966.42 L403.4,967.95 L403.6,969.48 L403.9,971.00 L404.2,972.52 L404.5,974.04 L404.8,975.56 L405.2,977.08 L405.6,978.59 L406.0,980.10 L406.4,981.61 L406.8,983.11 L407.3,984.60 L407.9,986.06 L408.8,987.46 L409.9,988.74 L411.3,989.77 L413.1,990.49 L415.0,990.90 L417.0,991.00 L419.0,991.00 L421.0,991.00 L423.0,990.96 L425.0,990.90 L427.0,990.81 L429.0,990.69 L431.0,990.56 L433.0,990.41 L435.0,990.24 L437.0,990.07 L439.0,989.89 L441.0,989.70 L443.0,989.52 L444.9,989.34 L446.9,989.17 L448.9,989.00 L450.9,988.82 L452.9,988.63 L454.9,988.44 L456.9,988.23 L458.8,988.03 L460.8,987.83 L462.8,987.64 L464.8,987.46 L466.8,987.27 L468.8,987.09 L470.8,986.91 L472.8,986.72 L474.7,986.54 L476.7,986.36 L478.7,986.19 L480.7,986.01 L482.7,985.83 L484.7,985.65 L486.7,985.48 L488.7,985.30 L490.6,985.13 L492.6,984.95 L494.6,984.78 L496.6,984.60 L498.6,984.43 L500.6,984.26 L502.6,984.09 L504.6,983.92 L506.6,983.75 L508.5,983.58 L510.5,983.41 L512.5,983.25 L514.5,983.08 L516.5,982.91 L518.5,982.75 L520.5,982.58 L522.5,982.42 L524.5,982.26 L526.5,982.09 L528.4,981.93 L530.4,981.77 L532.4,981.60 L534.4,981.44 L536.4,981.28 L538.4,981.11 L540.4,980.95 L542.4,980.79 L544.4,980.62 L546.4,980.46 L548.3,980.29 L550.3,980.13 L552.3,979.96 L554.3,979.80 L556.3,979.63 L558.3,979.46 L560.3,979.29 L562.3,979.12 L564.3,978.95 L566.2,978.78 L568.2,978.61 L570.2,978.43 L572.2,978.25 L574.2,978.08 L576.2,977.90 L578.2,977.71 L580.2,977.53 L582.1,977.35 L584.1,977.16 L586.1,976.97 L588.1,976.78 L590.1,976.60 L592.1,976.41 L594.1,976.22 L596.0,976.03 L598.0,975.84 L600.0,975.65 L602.0,975.46 L604.0,975.27 L606.0,975.08 L608.0,974.89 L610.0,974.71 L611.9,974.52 L613.9,974.34 L615.9,974.16 L617.9,973.98 L619.9,973.81 L621.9,973.63 L623.9,973.46 L625.9,973.29 L627.8,973.13 L629.8,972.96 L631.8,972.80 L633.8,972.64 L635.8,972.48 L637.8,972.33 L639.8,972.17 L641.8,972.02 L643.8,971.86 L645.8,971.71 L647.8,971.56 L649.7,971.41 L651.7,971.26 L653.7,971.11 L655.7,970.96 L657.7,970.82 L659.7,970.67 L661.7,970.52 L663.7,970.38 L665.7,970.24 L667.7,970.09 L669.7,969.95 L671.7,969.81 L673.7,969.67 L675.6,969.53 L677.6,969.39 L679.6,969.25 L681.6,969.11 L683.6,968.97 L685.6,968.84 L687.6,968.70 L689.6,968.57 L691.6,968.43 L693.6,968.30 L695.6,968.16 L697.6,968.03 L699.6,967.89 L701.6,967.76 L703.6,967.63 L705.6,967.50 L707.5,967.37 L709.5,967.24 L711.5,967.11 L713.5,966.98 L715.5,966.85 L717.5,966.72 L719.5,966.59 L721.5,966.46 L723.5,966.33 L725.5,966.20 L727.5,966.08 L729.5,965.95 L731.5,965.82 L733.5,965.69 L735.5,965.57 L737.5,965.44 L739.5,965.31 L741.5,965.19 L743.4,965.06 L745.4,964.94 L747.4,964.81 L749.4,964.69 L751.4,964.56 L753.4,964.44 L755.4,964.31 L757.4,964.19 L759.4,964.06 L761.4,963.94 L763.4,963.81 L765.4,963.69 L767.4,963.56 L769.4,963.44 L771.4,963.31 L773.4,963.19 L775.4,963.06 L777.4,962.94 L779.3,962.81 L781.3,962.69 L783.3,962.56 L785.3,962.44 L787.3,962.31 L789.3,962.19 L791.3,962.06 L793.3,961.94 L795.3,961.82 L797.3,961.69 L799.3,961.57 L801.3,961.45 L803.3,961.32 L805.3,961.20 L807.3,961.08 L809.3,960.96 L811.3,960.84 L813.3,960.71 L815.3,960.59 L817.3,960.47 L819.2,960.35 L821.2,960.23 L823.2,960.11 L825.2,959.99 L827.2,959.87 L829.2,959.75 L831.2,959.63 L833.2,959.51 L835.2,959.39 L837.2,959.27 L839.2,959.15 L841.2,959.03 L843.2,958.92 L845.2,958.80 L847.2,958.68 L849.2,958.56 L851.2,958.44 L853.2,958.33 L855.2,958.21 L857.2,958.09 L859.2,957.98 L861.2,957.86 L863.1,957.74 L865.1,957.63 L867.1,957.51 L869.1,957.39 L871.1,957.28 L873.1,957.16 L875.1,957.04 L877.1,956.93 L879.1,956.81 L881.1,956.70 L883.1,956.58 L885.1,956.47 L887.1,956.35 L889.1,956.24 L891.1,956.12 L893.1,956.01 L895.1,955.90 L897.1,955.78 L899.1,955.67 L901.1,955.55 L903.1,955.44 L905.1,955.33 L907.1,955.21 L909.0,955.10 L911.0,954.99 L913.0,954.87 L915.0,954.76 L917.0,954.65 L919.0,954.53 L921.0,954.42 L923.0,954.31 L925.0,954.20 L927.0,954.08 L929.0,953.97 L931.0,953.86 L933.0,953.75 L935.0,953.63 L937.0,953.52 L939.0,953.41 L941.0,953.30 L943.0,953.19 L945.0,953.07 L947.0,952.96 L949.0,952.85 L951.0,952.74 L953.0,952.63 L955.0,952.52 L957.0,952.41 L958.9,952.29 L960.9,952.18 L962.9,952.07 L964.9,951.96 L966.9,951.85 L968.9,951.74 L970.9,951.63 L972.9,951.52 L974.9,951.41 L976.9,951.30 L978.9,951.18 L980.9,951.07 L982.9,950.96 L984.9,950.85 L986.9,950.74 L988.9,950.63 L990.9,950.52 L992.9,950.41 L994.9,950.30 L996.9,950.19 L998.9,950.08 L1000.9,949.97 L1002.9,949.86 L1004.9,949.75 L1006.9,949.64 L1008.8,949.53 L1010.8,949.42 L1012.8,949.31 L1014.8,949.20 L1016.8,949.09 L1018.8,948.97 L1020.8,948.86 L1022.8,948.75 L1024.8,948.64 L1026.8,948.53 L1028.8,948.42 L1030.8,948.31 L1032.8,948.20 L1034.8,948.09 L1036.8,947.98 L1038.8,947.87 L1040.8,947.76 L1042.8,947.65 L1044.8,947.54 L1046.8,947.43 L1048.8,947.32 L1050.8,947.21 L1052.8,947.10 L1054.8,946.98 L1056.8,946.87 L1058.8,946.76 L1060.7,946.65 L1062.7,946.54 L1064.7,946.43 L1066.7,946.32 L1068.7,946.21 L1070.7,946.10 L1072.7,945.98 L1074.7,945.87 L1076.7,945.76 L1078.7,945.65 L1080.7,945.54 L1082.7,945.43 L1084.7,945.31 L1086.7,945.20 L1088.7,945.09 L1090.7,944.98 L1092.7,944.87 L1094.7,944.75 L1096.7,944.64 L1098.7,944.53 L1100.7,944.42 L1102.7,944.30 L1104.7,944.19 L1106.7,944.08 L1108.7,943.97 L1110.6,943.85 L1112.6,943.74 L1114.6,943.63 L1116.6,943.51 L1118.6,943.40 L1120.6,943.29 L1122.6,943.17 L1124.6,943.06 L1126.6,942.95 L1128.6,942.83 L1130.6,942.72 L1132.6,942.60 L1134.6,942.49 L1136.6,942.37 L1138.6,942.26 L1140.6,942.14 L1142.6,942.03 L1144.6,941.91 L1146.6,941.80 L1148.6,941.68 L1150.6,941.57 L1152.6,941.45 L1154.6,941.34 L1156.6,941.22 L1158.5,941.10 L1160.5,940.99 L1162.5,940.87 L1164.5,940.76 L1166.5,940.64 L1168.5,940.52 L1170.5,940.40 L1172.5,940.29 L1174.5,940.17 L1176.5,940.05 L1178.5,939.93 L1180.5,939.82 L1182.5,939.70 L1184.5,939.58 L1186.5,939.46 L1188.5,939.34 L1190.5,939.22 L1192.5,939.10 L1194.5,938.98 L1196.5,938.86 L1198.5,938.74 L1200.5,938.62 L1202.4,938.50 L1204.4,938.38 L1206.4,938.26 L1208.4,938.14 L1210.4,938.02 L1212.4,937.89 L1214.4,937.77 L1216.4,937.65 L1218.4,937.53 L1220.4,937.41 L1222.4,937.28 L1224.4,937.16 L1226.4,937.04 L1228.4,936.92 L1230.4,936.79 L1232.4,936.67 L1234.4,936.55 L1236.4,936.42 L1238.4,936.30 L1240.3,936.18 L1242.3,936.05 L1244.3,935.93 L1246.3,935.80 L1248.3,935.68 L1250.3,935.56 L1252.3,935.43 L1254.3,935.31 L1256.3,935.19 L1258.3,935.06 L1260.3,934.94 L1262.3,934.81 L1264.3,934.69 L1266.3,934.57 L1268.3,934.44 L1270.3,934.32 L1272.3,934.19 L1274.3,934.07 L1276.3,933.94 L1278.3,933.82 L1280.2,933.70 L1282.2,933.57 L1284.2,933.45 L1286.2,933.33 L1288.2,933.20 L1290.2,933.08 L1292.2,932.95 L1294.2,932.83 L1296.2,932.71 L1298.2,932.58 L1300.2,932.46 L1302.2,932.34 L1304.2,932.22 L1306.2,932.09 L1308.2,931.97 L1310.2,931.85 L1312.2,931.72 L1314.2,931.60 L1316.2,931.48 L1318.1,931.36 L1320.1,931.24 L1322.1,931.12 L1324.1,930.99 L1326.1,930.87 L1328.1,930.75 L1330.1,930.63 L1332.1,930.51 L1334.1,930.39 L1336.1,930.27 L1338.1,930.15 L1340.1,930.03 L1342.1,929.91 L1344.1,929.79 L1346.1,929.67 L1348.1,929.55 L1350.1,929.43 L1352.1,929.32 L1354.1,929.20 L1356.1,929.08 L1358.1,928.96 L1360.0,928.85 L1362.0,928.73 L1364.0,928.61 L1366.0,928.50 L1368.0,928.38 L1370.0,928.27 L1372.0,928.15 L1374.0,928.04 L1376.0,927.92 L1378.0,927.81 L1380.0,927.69 L1382.0,927.58 L1384.0,927.47 L1386.0,927.35 L1388.0,927.24 L1390.0,927.13 L1392.0,927.01 L1394.0,926.90 L1396.0,926.79 L1398.0,926.68 L1400.0,926.57 L1402.0,926.45 L1404.0,926.34 L1406.0,926.23 L1407.9,926.12 L1409.9,926.01 L1411.9,925.90 L1413.9,925.78 L1415.9,925.67 L1417.9,925.56 L1419.9,925.45 L1421.9,925.34 L1423.9,925.23 L1425.9,925.12 L1427.9,925.01 L1429.9,924.90 L1431.9,924.79 L1433.9,924.68 L1435.9,924.57 L1437.9,924.46 L1439.9,924.35 L1441.9,924.24 L1443.9,924.14 L1445.9,924.03 L1447.9,923.92 L1449.9,923.81 L1451.9,923.70 L1453.9,923.59 L1455.9,923.48 L1457.9,923.38 L1459.9,923.27 L1461.8,923.16 L1463.8,923.05 L1465.8,922.94 L1467.8,922.84 L1469.8,922.73 L1471.8,922.62 L1473.8,922.51 L1475.8,922.41 L1477.8,922.30 L1479.8,922.19 L1481.8,922.09 L1483.8,921.98 L1485.8,921.87 L1487.8,921.76 L1489.8,921.66 L1491.8,921.55 L1493.8,921.45 L1495.8,921.34 L1497.8,921.23 L1499.8,921.13 L1501.8,921.02 L1503.8,920.92 L1505.8,920.81 L1507.8,920.70 L1509.8,920.60 L1511.8,920.49 L1513.8,920.39 L1515.8,920.28 L1517.7,920.18 L1519.7,920.07 L1521.7,919.97 L1523.7,919.86 L1525.7,919.76 L1527.7,919.65 L1529.7,919.55 L1531.7,919.44 L1533.7,919.34 L1535.7,919.23 L1537.7,919.13 L1539.7,919.02 L1541.7,918.92 L1543.7,918.82 L1545.7,918.71 L1547.7,918.61 L1549.7,918.50 L1551.7,918.40 L1553.7,918.29 L1555.7,918.19 L1557.7,918.09 L1559.7,917.98 L1561.7,917.88 L1563.7,917.78 L1565.7,917.67 L1567.7,917.57 L1569.7,917.47 L1571.7,917.36 L1573.7,917.26 L1575.7,917.15 L1577.7,917.05 L1579.6,916.95 L1581.6,916.84 L1583.6,916.74 L1585.6,916.64 L1587.6,916.54 L1589.6,916.43 L1591.6,916.33 L1593.6,916.23 L1595.6,916.12 L1597.6,916.02 L1599.6,915.92 L1601.6,915.81 L1603.6,915.71 L1605.6,915.61 L1607.6,915.51 L1609.6,915.40 L1611.6,915.30 L1613.6,915.20 L1615.6,915.10 L1617.6,914.99 L1619.6,914.89 L1621.6,914.79 L1623.6,914.68 L1625.6,914.58 L1627.6,914.48 L1629.6,914.38 L1631.6,914.27 L1633.6,914.17 L1635.6,914.07 L1637.6,913.97 L1639.6,913.86 L1641.5,913.76 L1643.5,913.66 L1645.5,913.56 L1647.5,913.46 L1649.5,913.35 L1651.5,913.25 L1653.5,913.15 L1655.5,913.05 L1657.5,912.94 L1659.5,912.84 L1661.5,912.74 L1663.5,912.64 L1665.5,912.53 L1667.5,912.43 L1669.5,912.33 L1671.5,912.23 L1673.5,912.12 L1675.5,912.02 L1677.5,911.92 L1679.5,911.82 L1681.5,911.71 L1683.5,911.61 L1685.5,911.51 L1687.5,911.41 L1689.5,911.30 L1691.5,911.20 L1693.5,911.10 L1695.5,911.00 L1697.5,910.89 L1699.5,910.79 L1701.5,910.69 L1703.5,910.58 L1705.4,910.48 L1707.4,910.38 L1709.4,910.28 L1711.4,910.17 L1713.4,910.07 L1715.4,909.97 L1717.4,909.86 L1719.4,909.76 L1721.4,909.66 L1723.4,909.56 L1725.4,909.45 L1727.4,909.35 L1729.4,909.25 L1731.4,909.14 L1733.4,909.04 L1735.4,908.94 L1737.4,908.83 L1739.4,908.73 L1741.4,908.63 L1743.4,908.52 L1745.4,908.42 L1747.4,908.32 L1749.4,908.21 L1751.4,908.11 L1753.4,908.00 L1755.4,907.90 L1757.4,907.80 L1759.4,907.69 L1761.4,907.59 L1763.4,907.48 L1765.4,907.38 L1767.3,907.28 L1769.3,907.17 L1771.3,907.07 L1773.3,906.96 L1775.3,906.86 L1777.3,906.75 L1779.3,906.65 L1781.3,906.55 L1783.3,906.44 L1785.3,906.34 L1787.3,906.23 L1789.3,906.13 L1791.3,906.02 L1793.3,905.92 L1795.3,905.81 L1797.3,905.71 L1799.3,905.60 L1801.3,905.50 L1803.3,905.40 L1805.3,905.29 L1807.3,905.19 L1809.3,905.08 L1811.3,904.98 L1813.3,904.87 L1815.3,904.77 L1817.3,904.66 L1819.3,904.56 L1821.3,904.46 L1823.3,904.35 L1825.3,904.25 L1827.2,904.14 L1829.2,904.04 L1831.2,903.93 L1833.2,903.83 L1835.2,903.72 L1837.2,903.62 L1839.2,903.52 L1841.2,903.41 L1843.2,903.31 L1845.2,903.20 L1847.2,903.10 L1849.2,902.99 L1851.2,902.89 L1853.2,902.79 L1855.2,902.68 L1857.2,902.58 L1859.2,902.47 L1861.2,902.37 L1863.2,902.26 L1865.2,902.16 L1867.2,902.06 L1869.2,901.95 L1871.2,901.85 L1873.2,901.74 L1875.2,901.64 L1877.2,901.54 L1879.2,901.43 L1881.2,901.33 L1883.2,901.22 L1885.2,901.12 L1887.2,901.01 L1889.1,900.91 L1891.1,900.81 L1893.1,900.70 L1895.1,900.60 L1897.1,900.49 L1899.1,900.39 L1901.1,900.29 L1903.1,900.18 L1905.1,900.08 L1907.1,899.97 L1909.1,899.87 L1911.1,899.77 L1913.1,899.66 L1915.1,899.56 L1917.1,899.45 L1919.1,899.35 L1921.1,899.24 L1923.1,899.14 L1925.1,899.04 L1927.1,898.93 L1929.1,898.83 L1931.1,898.72 L1933.1,898.62 L1935.1,898.52 L1937.1,898.41 L1939.1,898.31 L1941.1,898.21 L1943.1,898.10 L1945.1,898.00 L1947.1,897.89 L1949.0,897.79 L1951.0,897.69 L1953.0,897.58 L1955.0,897.48 L1957.0,897.37 L1959.0,897.27 L1961.0,897.17 L1963.0,897.06 L1965.0,896.96 L1967.0,896.85 L1969.0,896.75 L1971.0,896.65 L1973.0,896.54 L1975.0,896.44 L1977.0,896.33 L1979.0,896.23"/>
<path stroke="#0000ff" d="M149.0,66.92 L150.9,67.43 L152.8,67.93 L154.7,68.44 L156.6,68.96 L158.4,69.48 L160.3,70.01 L162.2,70.55 L164.1,71.10 L165.9,71.66 L167.8,72.23 L169.6,72.81 L171.5,73.40 L173.3,74.00 L175.2,74.61 L177.0,75.23 L178.8,75.86 L180.6,76.50 L182.4,77.16 L184.2,77.83 L186.0,78.52 L187.8,79.23 L189.6,79.95 L191.3,80.70 L193.1,81.46 L194.8,82.24 L196.5,83.04 L198.2,83.86 L199.9,84.70 L201.5,85.55 L203.2,86.42 L204.8,87.30 L206.4,88.20 L208.1,89.11 L209.7,90.04 L211.2,90.98 L212.8,91.93 L214.4,92.89 L215.9,93.86 L217.5,94.85 L219.0,95.85 L220.5,96.86 L222.0,97.88 L223.5,98.91 L224.9,99.96 L226.4,101.02 L227.8,102.09 L229.3,103.17 L230.7,104.26 L232.1,105.37 L233.4,106.48 L234.8,107.61 L236.1,108.75 L237.5,109.89 L238.8,111.05 L240.1,112.22 L241.4,113.40 L242.7,114.58 L243.9,115.78 L245.2,116.99 L246.4,118.21 L247.6,119.45 L248.7,120.69 L249.9,121.94 L251.1,123.20 L252.2,124.48 L253.3,125.76 L254.4,127.05 L255.4,128.35 L256.5,129.66 L257.5,130.98 L258.6,132.30 L259.6,133.63 L260.6,134.96 L261.6,136.30 L262.5,137.64 L263.5,138.99 L264.4,140.34 L265.4,141.70 L266.3,143.06 L267.3,144.42 L268.2,145.79 L269.1,147.16 L270.0,148.53 L270.9,149.90 L271.8,151.28 L272.7,152.66 L273.6,154.04 L274.5,155.42 L275.3,156.81 L276.2,158.20 L277.0,159.59 L277.9,160.98 L278.7,162.38 L279.6,163.78 L280.4,165.18 L281.2,166.59 L282.0,168.00 L282.8,169.41 L283.6,170.83 L284.3,172.25 L285.1,173.67 L285.8,175.10 L286.6,176.53 L287.3,177.97 L288.0,179.40 L288.7,180.84 L289.4,182.29 L290.1,183.73 L290.8,185.18 L291.5,186.63 L292.1,188.08 L292.8,189.53 L293.4,190.99 L294.1,192.45 L294.7,193.91 L295.3,195.37 L296.0,196.83 L296.6,198.29 L297.2,199.76 L297.8,201.23 L298.4,202.70 L299.0,204.17 L299.6,205.64 L300.1,207.11 L300.7,208.58 L301.3,210.06 L301.8,211.54 L302.4,213.01 L303.0,214.49 L303.5,215.97 L304.0,217.46 L304.6,218.94 L305.1,220.42 L305.6,221.91 L306.2,223.39 L306.7,224.88 L307.2,226.37 L307.7,227.86 L308.2,229.35 L308.7,230.84 L309.2,232.33 L309.7,233.82 L310.2,235.31 L310.7,236.80 L311.1,238.30 L311.6,239.79 L312.1,241.29 L312.6,242.78 L313.0,244.28 L313.5,245.77 L314.0,247.27 L314.5,248.77 L314.9,250.26 L315.4,251.76 L315.8,253.26 L316.3,254.76 L316.7,256.26 L317.2,257.76 L317.6,259.26 L318.1,260.76 L318.5,262.26 L319.0,263.76 L319.4,265.26 L319.8,266.76 L320.3,268.26 L320.7,269.77 L321.1,271.27 L321.6,272.77 L322.0,274.28 L322.4,275.78 L322.8,277.28 L323.3,278.79 L323.7,280.29 L324.1,281.80 L324.5,283.31 L324.9,284.81 L325.3,286.32 L325.7,287.83 L326.1,289.33 L326.5,290.84 L326.9,292.35 L327.3,293.86 L327.7,295.37 L328.1,296.87 L328.5,298.38 L328.9,299.89 L329.3,301.40 L329.7,302.91 L330.1,304.42 L330.4,305.93 L330.8,307.45 L331.2,308.96 L331.6,310.47 L331.9,311.98 L332.3,313.49 L332.7,315.00 L333.1,316.52 L333.4,318.03 L333.8,319.54 L334.1,321.06 L334.5,322.57 L334.9,324.09 L335.2,325.60 L335.6,327.11 L335.9,328.63 L336.3,330.14 L336.6,331.66 L337.0,333.17 L337.3,334.69 L337.7,336.21 L338.0,337.72 L338.4,339.24 L338.7,340.76 L339.0,342.27 L339.4,343.79 L339.7,345.31 L340.0,346.83 L340.4,348.34 L340.7,349.86 L341.0,351.38 L341.3,352.90 L341.7,354.42 L342.0,355.94 L342.3,357.45 L342.6,358.97 L342.9,360.49 L343.3,362.01 L343.6,363.53 L343.9,365.05 L344.2,366.57 L344.5,368.09 L344.8,369.62 L345.1,371.14 L345.4,372.66 L345.7,374.18 L346.0,375.70 L346.3,377.22 L346.6,378.74 L346.9,380.27 L347.2,381.79 L347.5,383.31 L347.8,384.83 L348.1,386.36 L348.4,387.88 L348.7,389.40 L349.0,390.92 L349.2,392.45 L349.5,393.97 L349.8,395.49 L350.1,397.02 L350.4,398.54 L350.7,400.07 L350.9,401.59 L351.2,403.11 L351.5,404.64 L351.8,406.16 L352.0,407.69 L352.3,409.21 L352.6,410.74 L352.8,412.26 L353.1,413.79 L353.4,415.31 L353.7,416.84 L353.9,418.36 L354.2,419.89 L354.4,421.41 L354.7,422.94 L355.0,424.46 L355.2,425.99 L355.5,427.52 L355.8,429.04 L356.0,430.57 L356.3,432.09 L356.5,433.62 L356.8,435.15 L357.0,436.67 L357.3,438.20 L357.5,439.73 L357.8,441.25 L358.1,442.78 L358.3,444.31 L358.6,445.83 L358.8,447.36 L359.1,448.89 L359.3,450.41 L359.6,451.94 L359.8,453.47 L360.0,455.00 L360.3,456.52 L360.5,458.05 L360.8,459.58 L361.0,461.11 L361.3,462.63 L361.5,464.16 L361.8,465.69 L362.0,467.22 L362.2,468.74 L362.5,470.27 L362.7,471.80 L363.0,473.33 L363.2,474.86 L363.4,476.38 L363.7,477.91 L363.9,479.44 L364.1,480.97 L364.4,482.50 L364.6,484.03 L364.8,485.55 L365.1,487.08 L365.3,488.61 L365.5,490.14 L365.8,491.67 L366.0,493.20 L366.2,494.73 L366.4,496.26 L366.7,497.79 L366.9,499.31 L367.1,500.84 L367.3,502.37 L367.6,503.90 L367.8,505.43 L368.0,506.96 L368.2,508.49 L368.4,510.02 L368.7,511.55 L368.9,513.08 L369.1,514.61 L369.3,516.14 L369.5,517.67 L369.8,519.20 L370.0,520.73 L370.2,522.26 L370.4,523.79 L370.6,525.32 L370.8,526.85 L371.0,528.38 L371.2,529.91 L371.5,531.44 L371.7,532.97 L371.9,534.50 L372.1,536.03 L372.3,537.56 L372.5,539.09 L372.7,540.63 L372.9,542.16 L373.1,543.69 L373.3,545.22 L373.5,546.75 L373.7,548.28 L373.9,549.81 L374.1,551.34 L374.3,552.87 L374.5,554.41 L374.7,555.94 L374.9,557.47 L375.1,559.00 L375.3,560.53 L375.5,562.06 L375.7,563.59 L375.9,565.13 L376.1,566.66 L376.3,568.19 L376.5,569.72 L376.7,571.25 L376.9,572.78 L377.1,574.32 L377.3,575.85 L377.5,577.38 L377.6,578.91 L377.8,580.44 L378.0,581.98 L378.2,583.51 L378.4,585.04 L378.6,586.57 L378.8,588.11 L378.9,589.64 L379.1,591.17 L379.3,592.70 L379.5,594.24 L379.7,595.77 L379.9,597.30 L380.0,598.83 L380.2,600.37 L380.4,601.90 L380.6,603.43 L380.8,604.97 L380.9,606.50 L381.1,608.03 L381.3,609.56 L381.5,611.10 L381.6,612.63 L381.8,614.16 L382.0,615.70 L382.2,617.23 L382.3,618.76 L382.5,620.30 L382.7,621.83 L382.8,623.36 L383.0,624.90 L383.2,626.43 L383.4,627.96 L383.5,629.50 L383.7,631.03 L383.9,632.56 L384.0,634.10 L384.2,635.63 L384.4,637.16 L384.5,638.70 L384.7,640.23 L384.9,641.77 L385.0,643.30 L385.2,644.83 L385.4,646.37 L385.5,647.90 L385.7,649.43 L385.9,650.97 L386.0,652.50 L386.2,654.04 L386.3,655.57 L386.5,657.10 L386.7,658.64 L386.8,660.17 L387.0,661.71 L387.2,663.24 L387.3,664.77 L387.5,666.31 L387.6,667.84 L387.8,669.37 L388.0,670.91 L388.1,672.44 L388.3,673.98 L388.4,675.51 L388.6,677.04 L388.8,678.58 L388.9,680.11 L389.1,681.65 L389.2,683.18 L389.4,684.72 L389.6,686.25 L389.7,687.78 L389.9,689.32 L390.0,690.85 L390.2,692.39 L390.4,693.92 L390.5,695.45 L390.7,696.99 L390.8,698.52 L391.0,700.06 L391.2,701.59 L391.3,703.13 L391.5,704.66 L391.6,706.19 L391.8,707.73 L391.9,709.26 L392.1,710.80 L392.2,712.33 L392.4,713.87 L392.5,715.40 L392.7,716.93 L392.9,718.47 L393.0,720.00 L393.2,721.54 L393.3,723.07 L393.5,724.61 L393.6,726.14 L393.8,727.68 L393.9,729.21 L394.1,730.75 L394.2,732.28 L394.4,733.82 L394.5,735.35 L394.7,736.88 L394.8,738.42 L395.0,739.95 L395.1,741.49 L395.3,743.02 L395.4,744.56 L395.6,746.09 L395.7,747.63 L395.9,749.16 L396.0,750.70 L396.1,752.23 L396.3,753.77 L396.4,755.30 L396.6,756.84 L396.7,758.37 L396.9,759.91 L397.0,761.44 L397.2,762.98 L397.3,764.51 L397.5,766.05 L397.6,767.58 L397.8,769.11 L397.9,770.65 L398.1,772.18 L398.2,773.72 L398.4,775.25 L398.5,776.79 L398.7,778.32 L398.8,779.86 L398.9,781.39 L399.1,782.93 L399.2,784.46 L399.4,786.00 L399.5,787.53 L399.7,789.07 L399.8,790.60 L400.0,792.14 L400.1,793.67 L400.3,795.21 L400.4,796.74 L400.6,798.28 L400.7,799.81 L400.9,801.34 L401.0,802.88 L401.2,804.41 L401.3,805.95 L401.5,807.48 L401.6,809.02 L401.8,810.55 L401.9,812.09 L402.1,813.62 L402.2,815.16 L402.4,816.69 L402.6,818.22 L402.7,819.76 L402.9,821.29 L403.0,822.83 L403.2,824.36 L403.3,825.90 L403.5,827.43 L403.6,828.97 L403.8,830.50 L404.0,832.03 L404.1,833.57 L404.3,835.10 L404.4,836.64 L404.6,838.17 L404.7,839.70 L404.9,841.24 L405.1,842.77 L405.2,844.31 L405.4,845.84 L405.5,847.38 L405.7,848.91 L405.9,850.44 L406.0,851.98 L406.2,853.51 L406.3,855.05 L406.5,856.58 L406.6,858.12 L406.8,859.65 L406.9,861.18 L407.1,862.72 L407.3,864.25 L407.4,865.79 L407.6,867.32 L407.7,868.86 L407.9,870.39 L408.0,871.93 L408.2,873.46 L408.3,875.00 L408.5,876.53 L408.6,878.06 L408.7,879.60 L408.9,881.13 L409.0,882.67 L409.2,884.20 L409.3,885.74 L409.5,887.27 L409.6,888.81 L409.7,890.35 L409.9,891.88 L410.0,893.42 L410.2,894.95 L410.3,896.49 L410.4,898.02 L410.5,899.56 L410.7,901.09 L410.8,902.63 L410.9,904.17 L411.0,905.70 L411.1,907.24 L411.3,908.78 L411.4,910.31 L411.5,911.85 L411.6,913.39 L411.7,914.92 L411.9,916.46 L412.0,917.99 L412.1,919.53 L412.3,921.06 L412.4,922.60 L412.6,924.13 L412.7,925.67 L412.9,927.20 L413.1,928.73 L413.3,930.26 L413.5,931.79 L413.7,933.33 L413.9,934.86 L414.1,936.39 L414.3,937.92 L414.6,939.45 L414.8,940.98 L415.0,942.51 L415.2,944.04 L415.4,945.57 L415.6,947.10 L415.8,948.63 L416.0,950.16 L416.1,951.70 L416.3,953.23 L416.4,954.77 L416.6,956.30 L416.8,957.84 L416.9,959.37 L417.1,960.90 L417.3,962.43 L417.5,963.97 L417.7,965.50 L417.9,967.03 L418.2,968.55 L418.4,970.08 L418.8,971.60 L419.1,973.11 L419.6,974.61 L420.0,976.11 L420.5,977.60 L421.0,979.09 L421.5,980.57 L422.1,982.06 L422.7,983.53 L423.5,984.94 L424.6,986.23 L426.0,987.31 L427.7,988.10 L429.6,988.55 L431.6,988.81 L433.6,988.91 L435.6,988.91 L437.6,988.87 L439.6,988.78 L441.5,988.67 L443.5,988.53 L445.5,988.39 L447.5,988.25 L449.5,988.11 L451.5,987.97 L453.5,987.82 L455.5,987.66 L457.5,987.48 L459.5,987.30 L461.5,987.13 L463.4,986.95 L465.4,986.79 L467.4,986.65 L469.4,986.53 L471.4,986.43 L473.4,986.35 L475.4,986.28 L477.4,986.21 L479.4,986.15 L481.4,986.09 L483.4,986.04 L485.4,985.98 L487.4,985.93 L489.4,985.87 L491.4,985.82 L493.4,985.75 L495.4,985.69 L497.4,985.61 L499.4,985.53 L501.4,985.45 L503.4,985.35 L505.4,985.26 L507.4,985.15 L509.4,985.04 L511.4,984.93 L513.4,984.81 L515.4,984.68 L517.4,984.55 L519.4,984.42 L521.3,984.28 L523.3,984.14 L525.3,984.00 L527.3,983.85 L529.3,983.70 L531.3,983.55 L533.3,983.39 L535.3,983.23 L537.3,983.07 L539.3,982.91 L541.3,982.75 L543.2,982.59 L545.2,982.43 L547.2,982.26 L549.2,982.10 L551.2,981.94 L553.2,981.78 L555.2,981.62 L557.2,981.46 L559.2,981.30 L561.1,981.14 L563.1,980.99 L565.1,980.84 L567.1,980.69 L569.1,980.54 L571.1,980.39 L573.1,980.24 L575.1,980.09 L577.1,979.95 L579.1,979.80 L581.1,979.65 L583.1,979.51 L585.0,979.36 L587.0,979.22 L589.0,979.07 L591.0,978.92 L593.0,978.78 L595.0,978.63 L597.0,978.49 L599.0,978.34 L601.0,978.19 L603.0,978.05 L605.0,977.91 L607.0,977.76 L608.9,977.62 L610.9,977.48 L612.9,977.33 L614.9,977.19 L616.9,977.05 L618.9,976.91 L620.9,976.77 L622.9,976.64 L624.9,976.50 L626.9,976.37 L628.9,976.23 L630.9,976.10 L632.9,975.96 L634.9,975.83 L636.8,975.70 L638.8,975.57 L640.8,975.44 L642.8,975.31 L644.8,975.18 L646.8,975.05 L648.8,974.92 L650.8,974.79 L652.8,974.66 L654.8,974.53 L656.8,974.41 L658.8,974.28 L660.8,974.15 L662.8,974.02 L664.8,973.90 L666.7,973.77 L668.7,973.64 L670.7,973.52 L672.7,973.39 L674.7,973.27 L676.7,973.14 L678.7,973.02 L680.7,972.89 L682.7,972.77 L684.7,972.64 L686.7,972.52 L688.7,972.40 L690.7,972.28 L692.7,972.15 L694.7,972.03 L696.7,971.91 L698.7,971.79 L700.7,971.67 L702.6,971.55 L704.6,971.43 L706.6,971.31 L708.6,971.19 L710.6,971.07 L712.6,970.95 L714.6,970.83 L716.6,970.71 L718.6,970.60 L720.6,970.48 L722.6,970.36 L724.6,970.24 L726.6,970.13 L728.6,970.01 L730.6,969.90 L732.6,969.78 L734.6,969.67 L736.6,969.55 L738.6,969.44 L740.5,969.32 L742.5,969.21 L744.5,969.10 L746.5,968.99 L748.5,968.87 L750.5,968.76 L752.5,968.65 L754.5,968.54 L756.5,968.43 L758.5,968.32 L760.5,968.21 L762.5,968.10 L764.5,967.99 L766.5,967.88 L768.5,967.77 L770.5,967.67 L772.5,967.56 L774.5,967.45 L776.5,967.34 L778.5,967.24 L780.5,967.13 L782.5,967.03 L784.5,966.92 L786.4,966.82 L788.4,966.71 L790.4,966.61 L792.4,966.50 L794.4,966.40 L796.4,966.29 L798.4,966.19 L800.4,966.09 L802.4,965.98 L804.4,965.88 L806.4,965.78 L808.4,965.68 L810.4,965.58 L812.4,965.47 L814.4,965.37 L816.4,965.27 L818.4,965.17 L820.4,965.07 L822.4,964.97 L824.4,964.87 L826.4,964.77 L828.4,964.67 L830.4,964.57 L832.4,964.47 L834.4,964.37 L836.4,964.27 L838.4,964.17 L840.3,964.08 L842.3,963.98 L844.3,963.88 L846.3,963.78 L848.3,963.68 L850.3,963.59 L852.3,963.49 L854.3,963.39 L856.3,963.30 L858.3,963.20 L860.3,963.10 L862.3,963.01 L864.3,962.91 L866.3,962.82 L868.3,962.72 L870.3,962.62 L872.3,962.53 L874.3,962.43 L876.3,962.34 L878.3,962.25 L880.3,962.15 L882.3,962.06 L884.3,961.96 L886.3,961.87 L888.3,961.77 L890.3,961.68 L892.3,961.59 L894.3,961.49 L896.3,961.40 L898.3,961.31 L900.3,961.22 L902.3,961.12 L904.2,961.03 L906.2,960.94 L908.2,960.85 L910.2,960.75 L912.2,960.66 L914.2,960.57 L916.2,960.48 L918.2,960.39 L920.2,960.30 L922.2,960.21 L924.2,960.11 L926.2,960.02 L928.2,959.93 L930.2,959.84 L932.2,959.75 L934.2,959.66 L936.2,959.57 L938.2,959.48 L940.2,959.39 L942.2,959.30 L944.2,959.21 L946.2,959.12 L948.2,959.03 L950.2,958.94 L952.2,958.85 L954.2,958.76 L956.2,958.67 L958.2,958.59 L960.2,958.50 L962.2,958.41 L964.2,958.32 L966.2,958.23 L968.2,958.14 L970.2,958.05 L972.2,957.96 L974.2,957.88 L976.2,957.79 L978.1,957.70 L980.1,957.61 L982.1,957.52 L984.1,957.44 L986.1,957.35 L988.1,957.26 L990.1,957.17 L992.1,957.09 L994.1,957.00 L996.1,956.91 L998.1,956.82 L1000.1,956.74 L1002.1,956.65 L1004.1,956.56 L1006.1,956.47 L1008.1,956.39 L1010.1,956.30 L1012.1,956.21 L1014.1,956.12 L1016.1,956.04 L1018.1,955.95 L1020.1,955.86 L1022.1,955.78 L1024.1,955.69 L1026.1,955.60 L1028.1,955.52 L1030.1,955.43 L1032.1,955.34 L1034.1,955.26 L1036.1,955.17 L1038.1,955.08 L1040.1,955.00 L1042.1,954.91 L1044.1,954.82 L1046.1,954.74 L1048.1,954.65 L1050.1,954.56 L1052.1,954.48 L1054.1,954.39 L1056.0,954.30 L1058.0,954.22 L1060.0,954.13 L1062.0,954.04 L1064.0,953.96 L1066.0,953.87 L1068.0,953.78 L1070.0,953.70 L1072.0,953.61 L1074.0,953.52 L1076.0,953.44 L1078.0,953.35 L1080.0,953.26 L1082.0,953.18 L1084.0,953.09 L1086.0,953.00 L1088.0,952.92 L1090.0,952.83 L1092.0,952.74 L1094.0,952.65 L1096.0,952.57 L1098.0,952.48 L1100.0,952.39 L1102.0,952.31 L1104.0,952.22 L1106.0,952.13 L1108.0,952.04 L1110.0,951.96 L1112.0,951.87 L1114.0,951.78 L1116.0,951.69 L1118.0,951.61 L1120.0,951.52 L1122.0,951.43 L1124.0,951.34 L1126.0,951.26 L1128.0,951.17 L1130.0,951.08 L1132.0,950.99 L1134.0,950.90 L1135.9,950.82 L1137.9,950.73 L1139.9,950.64 L1141.9,950.55 L1143.9,950.46 L1145.9,950.37 L1147.9,950.28 L1149.9,950.20 L1151.9,950.11 L1153.9,950.02 L1155.9,949.93 L1157.9,949.84 L1159.9,949.75 L1161.9,949.66 L1163.9,949.57 L1165.9,949.48 L1167.9,949.39 L1169.9,949.30 L1171.9,949.21 L1173.9,949.12 L1175.9,949.03 L1177.9,948.94 L1179.9,948.85 L1181.9,948.76 L1183.9,948.67 L1185.9,948.58 L1187.9,948.49 L1189.9,948.40 L1191.9,948.31 L1193.9,948.22 L1195.9,948.13 L1197.9,948.03 L1199.9,947.94 L1201.9,947.85 L1203.9,947.76 L1205.9,947.67 L1207.9,947.58 L1209.8,947.49 L1211.8,947.40 L1213.8,947.31 L1215.8,947.21 L1217.8,947.12 L1219.8,947.03 L1221.8,946.94 L1223.8,946.85 L1225.8,946.76 L1227.8,946.67 L1229.8,946.58 L1231.8,946.49 L1233.8,946.39 L1235.8,946.30 L1237.8,946.21 L1239.8,946.12 L1241.8,946.03 L1243.8,945.94 L1245.8,945.85 L1247.8,945.76 L1249.8,945.66 L1251.8,945.57 L1253.8,945.48 L1255.8,945.39 L1257.8,945.30 L1259.8,945.21 L1261.8,945.12 L1263.8,945.03 L1265.8,944.94 L1267.8,944.84 L1269.8,944.75 L1271.8,944.66 L1273.8,944.57 L1275.8,944.48 L1277.8,944.39 L1279.7,944.30 L1281.7,944.21 L1283.7,944.12 L1285.7,944.03 L1287.7,943.94 L1289.7,943.85 L1291.7,943.76 L1293.7,943.67 L1295.7,943.58 L1297.7,943.49 L1299.7,943.40 L1301.7,943.31 L1303.7,943.22 L1305.7,943.13 L1307.7,943.04 L1309.7,942.95 L1311.7,942.86 L1313.7,942.77 L1315.7,942.68 L1317.7,942.59 L1319.7,942.50 L1321.7,942.41 L1323.7,942.32 L1325.7,942.23 L1327.7,942.14 L1329.7,942.05 L1331.7,941.96 L1333.7,941.87 L1335.7,941.79 L1337.7,941.70 L1339.7,941.61 L1341.7,941.52 L1343.7,941.43 L1345.7,941.34 L1347.7,941.26 L1349.7,941.17 L1351.7,941.08 L1353.6,940.99 L1355.6,940.90 L1357.6,940.82 L1359.6,940.73 L1361.6,940.64 L1363.6,940.56 L1365.6,940.47 L1367.6,940.38 L1369.6,940.29 L1371.6,940.21 L1373.6,940.12 L1375.6,940.04 L1377.6,939.95 L1379.6,939.86 L1381.6,939.78 L1383.6,939.69 L1385.6,939.61 L1387.6,939.52 L1389.6,939.43 L1391.6,939.35 L1393.6,939.26 L1395.6,939.18 L1397.6,939.09 L1399.6,939.01 L1401.6,938.92 L1403.6,938.84 L1405.6,938.75 L1407.6,938.67 L1409.6,938.58 L1411.6,938.50 L1413.6,938.41 L1415.6,938.33 L1417.6,938.24 L1419.6,938.16 L1421.6,938.07 L1423.6,937.99 L1425.6,937.91 L1427.6,937.82 L1429.6,937.74 L1431.6,937.65 L1433.6,937.57 L1435.6,937.48 L1437.5,937.40 L1439.5,937.32 L1441.5,937.23 L1443.5,937.15 L1445.5,937.06 L1447.5,936.98 L1449.5,936.90 L1451.5,936.81 L1453.5,936.73 L1455.5,936.65 L1457.5,936.56 L1459.5,936.48 L1461.5,936.40 L1463.5,936.31 L1465.5,936.23 L1467.5,936.15 L1469.5,936.06 L1471.5,935.98 L1473.5,935.90 L1475.5,935.82 L1477.5,935.73 L1479.5,935.65 L1481.5,935.57 L1483.5,935.48 L1485.5,935.40 L1487.5,935.32 L1489.5,935.24 L1491.5,935.15 L1493.5,935.07 L1495.5,934.99 L1497.5,934.91 L1499.5,934.82 L1501.5,934.74 L1503.5,934.66 L1505.5,934.58 L1507.5,934.50 L1509.5,934.41 L1511.5,934.33 L1513.5,934.25 L1515.5,934.17 L1517.5,934.09 L1519.5,934.00 L1521.5,933.92 L1523.5,933.84 L1525.5,933.76 L1527.4,933.68 L1529.4,933.60 L1531.4,933.51 L1533.4,933.43 L1535.4,933.35 L1537.4,933.27 L1539.4,933.19 L1541.4,933.11 L1543.4,933.03 L1545.4,932.94 L1547.4,932.86 L1549.4,932.78 L1551.4,932.70 L1553.4,932.62 L1555.4,932.54 L1557.4,932.46 L1559.4,932.38 L1561.4,932.29 L1563.4,932.21 L1565.4,932.13 L1567.4,932.05 L1569.4,931.97 L1571.4,931.89 L1573.4,931.81 L1575.4,931.73 L1577.4,931.65 L1579.4,931.57 L1581.4,931.49 L1583.4,931.41 L1585.4,931.32 L1587.4,931.24 L1589.4,931.16 L1591.4,931.08 L1593.4,931.00 L1595.4,930.92 L1597.4,930.84 L1599.4,930.76 L1601.4,930.68 L1603.4,930.60 L1605.4,930.52 L1607.4,930.44 L1609.4,930.36 L1611.4,930.28 L1613.4,930.20 L1615.4,930.12 L1617.4,930.04 L1619.4,929.96 L1621.4,929.88 L1623.3,929.80 L1625.3,929.72 L1627.3,929.64 L1629.3,929.56 L1631.3,929.48 L1633.3,929.40 L1635.3,929.32 L1637.3,929.24 L1639.3,929.16 L1641.3,929.08 L1643.3,929.00 L1645.3,928.92 L1647.3,928.84 L1649.3,928.76 L1651.3,928.68 L1653.3,928.60 L1655.3,928.52 L1657.3,928.44 L1659.3,928.36 L1661.3,928.28 L1663.3,928.20 L1665.3,928.12 L1667.3,928.04 L1669.3,927.96 L1671.3,927.88 L1673.3,927.80 L1675.3,927.72 L1677.3,927.64 L1679.3,927.56 L1681.3,927.48 L1683.3,927.40 L1685.3,927.32 L1687.3,927.24 L1689.3,927.16 L1691.3,927.08 L1693.3,927.00 L1695.3,926.92 L1697.3,926.84 L1699.3,926.76 L1701.3,926.68 L1703.3,926.60 L1705.3,926.52 L1707.3,926.44 L1709.3,926.36 L1711.3,926.28 L1713.3,926.20 L1715.3,926.12 L1717.3,926.04 L1719.3,925.96 L1721.3,925.88 L1723.2,925.80 L1725.2,925.73 L1727.2,925.65 L1729.2,925.57 L1731.2,925.49 L1733.2,925.41 L1735.2,925.33 L1737.2,925.25 L1739.2,925.17 L1741.2,925.09 L1743.2,925.01 L1745.2,924.93 L1747.2,924.85 L1749.2,924.77 L1751.2,924.69 L1753.2,924.61 L1755.2,924.53 L1757.2,924.45 L1759.2,924.37 L1761.2,924.29 L1763.2,924.21 L1765.2,924.13 L1767.2,924.05 L1769.2,923.97 L1771.2,923.89 L1773.2,923.81 L1775.2,923.73 L1777.2,923.65 L1779.2,923.57 L1781.2,923.49 L1783.2,923.41 L1785.2,923.33 L1787.2,923.25 L1789.2,923.17 L1791.2,923.09 L1793.2,923.01 L1795.2,922.93 L1797.2,922.85 L1799.2,922.77 L1801.2,922.69 L1803.2,922.61 L1805.2,922.53 L1807.2,922.45 L1809.2,922.37 L1811.2,922.30 L1813.2,922.22 L1815.2,922.14 L1817.2,922.06 L1819.2,921.98 L1821.2,921.90 L1823.1,921.82 L1825.1,921.74 L1827.1,921.66 L1829.1,921.58 L1831.1,921.50 L1833.1,921.42 L1835.1,921.34 L1837.1,921.26 L1839.1,921.18 L1841.1,921.11 L1843.1,921.03 L1845.1,920.95 L1847.1,920.87 L1849.1,920.79 L1851.1,920.71 L1853.1,920.63 L1855.1,920.55 L1857.1,920.47 L1859.1,920.39 L1861.1,920.32 L1863.1,920.24 L1865.1,920.16 L1867.1,920.08 L1869.1,920.00 L1871.1,919.92 L1873.1,919.84 L1875.1,919.76 L1877.1,919.68 L1879.1,919.61 L1881.1,919.53 L1883.1,919.45 L1885.1,919.37 L1887.1,919.29 L1889.1,919.21 L1891.1,919.13 L1893.1,919.06 L1895.1,918.98 L1897.1,918.90 L1899.1,918.82 L1901.1,918.74 L1903.1,918.66 L1905.1,918.58 L1907.1,918.51 L1909.1,918.43 L1911.1,918.35 L1913.1,918.27 L1915.1,918.19 L1917.1,918.11 L1919.1,918.04 L1921.1,917.96 L1923.1,917.88 L1925.1,917.80 L1927.0,917.72 L1929.0,917.64 L1931.0,917.57 L1933.0,917.49 L1935.0,917.41 L1937.0,917.33 L1939.0,917.25 L1941.0,917.17 L1943.0,917.10 L1945.0,917.02 L1947.0,916.94 L1949.0,916.86 L1951.0,916.78 L1953.0,916.71 L1955.0,916.63 L1957.0,916.55 L1959.0,916.47 L1961.0,916.39 L1963.0,916.32 L1965.0,916.24 L1967.0,916.16 L1969.0,916.08 L1971.0,916.00 L1973.0,915.93 L1975.0,915.85 L1977.0,915.77 L1979.0,915.69"/>
<path stroke="#00ff00" d="M149.0,66.92 L150.9,67.43 L152.8,67.94 L154.7,68.46 L156.5,68.98 L158.4,69.51 L160.3,70.05 L162.2,70.59 L164.0,71.14 L165.9,71.70 L167.8,72.27 L169.6,72.85 L171.5,73.43 L173.3,74.03 L175.1,74.63 L177.0,75.24 L178.8,75.87 L180.6,76.50 L182.5,77.14 L184.3,77.80 L186.1,78.47 L187.8,79.16 L189.6,79.86 L191.4,80.58 L193.2,81.32 L194.9,82.07 L196.6,82.83 L198.4,83.62 L200.1,84.42 L201.8,85.23 L203.5,86.06 L205.1,86.90 L206.8,87.76 L208.4,88.63 L210.1,89.51 L211.7,90.41 L213.3,91.31 L214.9,92.23 L216.5,93.16 L218.1,94.11 L219.7,95.06 L221.2,96.03 L222.8,97.01 L224.3,98.00 L225.8,99.00 L227.3,100.02 L228.8,101.05 L230.3,102.08 L231.7,103.13 L233.2,104.19 L234.6,105.26 L236.1,106.35 L237.5,107.44 L238.9,108.54 L240.2,109.65 L241.6,110.78 L243.0,111.91 L244.3,113.05 L245.6,114.21 L246.9,115.37 L248.2,116.55 L249.5,117.74 L250.7,118.94 L252.0,120.15 L253.2,121.37 L254.4,122.60 L255.6,123.84 L256.7,125.10 L257.9,126.36 L259.0,127.63 L260.1,128.92 L261.2,130.20 L262.3,131.50 L263.3,132.80 L264.4,134.11 L265.4,135.43 L266.5,136.75 L267.5,138.08 L268.5,139.41 L269.5,140.74 L270.5,142.08 L271.4,143.42 L272.4,144.77 L273.4,146.11 L274.3,147.46 L275.3,148.82 L276.2,150.17 L277.2,151.53 L278.1,152.89 L279.0,154.25 L280.0,155.62 L280.9,156.99 L281.8,158.36 L282.7,159.73 L283.6,161.11 L284.5,162.49 L285.4,163.87 L286.2,165.26 L287.1,166.65 L287.9,168.04 L288.8,169.44 L289.6,170.84 L290.4,172.24 L291.2,173.65 L292.0,175.06 L292.8,176.47 L293.6,177.89 L294.4,179.31 L295.1,180.73 L295.9,182.16 L296.6,183.59 L297.3,185.02 L298.1,186.46 L298.8,187.89 L299.5,189.33 L300.2,190.77 L300.9,192.21 L301.6,193.65 L302.3,195.10 L303.0,196.55 L303.6,198.00 L304.3,199.45 L305.0,200.90 L305.6,202.35 L306.3,203.81 L306.9,205.26 L307.6,206.72 L308.2,208.18 L308.8,209.65 L309.4,211.11 L310.0,212.57 L310.7,214.04 L311.2,215.51 L311.8,216.98 L312.4,218.45 L313.0,219.92 L313.6,221.40 L314.1,222.87 L314.7,224.35 L315.3,225.83 L315.8,227.31 L316.4,228.79 L316.9,230.27 L317.4,231.76 L317.9,233.24 L318.5,234.73 L319.0,236.21 L319.5,237.70 L320.0,239.19 L320.5,240.68 L321.0,242.17 L321.5,243.66 L322.0,245.15 L322.5,246.64 L323.0,248.13 L323.5,249.62 L324.0,251.11 L324.5,252.61 L324.9,254.10 L325.4,255.60 L325.9,257.09 L326.4,258.59 L326.8,260.08 L327.3,261.58 L327.8,263.08 L328.2,264.58 L328.7,266.07 L329.1,267.57 L329.6,269.07 L330.0,270.57 L330.5,272.07 L330.9,273.57 L331.3,275.07 L331.8,276.58 L332.2,278.08 L332.7,279.58 L333.1,281.08 L333.5,282.59 L333.9,284.09 L334.4,285.59 L334.8,287.10 L335.2,288.60 L335.6,290.11 L336.0,291.61 L336.5,293.12 L336.9,294.62 L337.3,296.13 L337.7,297.64 L338.1,299.14 L338.5,300.65 L338.9,302.16 L339.3,303.67 L339.7,305.18 L340.1,306.68 L340.5,308.19 L340.9,309.70 L341.3,311.21 L341.6,312.72 L342.0,314.23 L342.4,315.74 L342.8,317.25 L343.2,318.76 L343.6,320.27 L343.9,321.78 L344.3,323.29 L344.7,324.80 L345.1,326.32 L345.5,327.83 L345.8,329.34 L346.2,330.85 L346.6,332.36 L346.9,333.88 L347.3,335.39 L347.7,336.90 L348.0,338.41 L348.4,339.93 L348.8,341.44 L349.1,342.95 L349.5,344.47 L349.9,345.98 L350.2,347.49 L350.6,349.01 L350.9,350.52 L351.3,352.04 L351.6,353.55 L352.0,355.07 L352.3,356.58 L352.7,358.10 L353.0,359.61 L353.4,361.13 L353.7,362.64 L354.1,364.16 L354.4,365.68 L354.7,367.19 L355.1,368.71 L355.4,370.23 L355.8,371.74 L356.1,373.26 L356.4,374.78 L356.8,376.29 L357.1,377.81 L357.4,379.33 L357.8,380.85 L358.1,382.37 L358.4,383.88 L358.7,385.40 L359.1,386.92 L359.4,388.44 L359.7,389.96 L360.0,391.48 L360.3,393.00 L360.6,394.52 L361.0,396.04 L361.3,397.56 L361.6,399.08 L361.9,400.60 L362.2,402.12 L362.5,403.64 L362.8,405.16 L363.1,406.68 L363.4,408.20 L363.7,409.72 L364.0,411.24 L364.4,412.76 L364.7,414.28 L365.0,415.81 L365.3,417.33 L365.5,418.85 L365.8,420.37 L366.1,421.89 L366.4,423.41 L366.7,424.94 L367.0,426.46 L367.3,427.98 L367.6,429.50 L367.9,431.03 L368.2,432.55 L368.5,434.07 L368.8,435.59 L369.0,437.12 L369.3,438.64 L369.6,440.16 L369.9,441.69 L370.2,443.21 L370.5,444.73 L370.7,446.26 L371.0,447.78 L371.3,449.31 L371.6,450.83 L371.8,452.35 L372.1,453.88 L372.4,455.40 L372.7,456.93 L372.9,458.45 L373.2,459.98 L373.5,461.50 L373.8,463.03 L374.0,464.55 L374.3,466.08 L374.6,467.60 L374.8,469.13 L375.1,470.65 L375.4,472.18 L375.6,473.70 L375.9,475.23 L376.2,476.75 L376.4,478.28 L376.7,479.80 L376.9,481.33 L377.2,482.85 L377.5,484.38 L377.7,485.91 L378.0,487.43 L378.2,488.96 L378.5,490.48 L378.8,492.01 L379.0,493.54 L379.3,495.06 L379.5,496.59 L379.8,498.12 L380.0,499.64 L380.3,501.17 L380.5,502.70 L380.8,504.22 L381.0,505.75 L381.3,507.28 L381.5,508.80 L381.8,510.33 L382.0,511.86 L382.3,513.39 L382.5,514.91 L382.7,516.44 L383.0,517.97 L383.2,519.50 L383.5,521.02 L383.7,522.55 L383.9,524.08 L384.2,525.61 L384.4,527.13 L384.6,528.66 L384.9,530.19 L385.1,531.72 L385.4,533.25 L385.6,534.78 L385.8,536.30 L386.0,537.83 L386.3,539.36 L386.5,540.89 L386.7,542.42 L387.0,543.95 L387.2,545.48 L387.4,547.01 L387.6,548.54 L387.8,550.07 L388.1,551.59 L388.3,553.12 L388.5,554.65 L388.7,556.18 L388.9,557.71 L389.2,559.24 L389.4,560.77 L389.6,562.30 L389.8,563.83 L390.0,565.36 L390.2,566.89 L390.4,568.42 L390.7,569.95 L390.9,571.48 L391.1,573.02 L391.3,574.55 L391.5,576.08 L391.7,577.61 L391.9,579.14 L392.1,580.67 L392.3,582.20 L392.5,583.73 L392.7,585.26 L392.9,586.79 L393.1,588.33 L393.3,589.86 L393.5,591.39 L393.7,592.92 L393.9,594.45 L394.1,595.98 L394.2,597.52 L394.4,599.05 L394.6,600.58 L394.8,602.11 L395.0,603.64 L395.2,605.18 L395.4,606.71 L395.6,608.24 L395.7,609.77 L395.9,611.30 L396.1,612.84 L396.3,614.37 L396.5,615.90 L396.6,617.43 L396.8,618.97 L397.0,620.50 L397.2,622.03 L397.4,623.57 L397.5,625.10 L397.7,626.63 L397.9,628.16 L398.1,629.70 L398.2,631.23 L398.4,632.76 L398.6,634.30 L398.8,635.83 L398.9,637.36 L399.1,638.90 L399.3,640.43 L399.4,641.96 L399.6,643.49 L399.8,645.03 L400.0,646.56 L400.1,648.09 L400.3,649.63 L400.5,651.16 L400.6,652.69 L400.8,654.23 L401.0,655.76 L401.1,657.29 L401.3,658.83 L401.5,660.36 L401.7,661.89 L401.8,663.43 L402.0,664.96 L402.2,666.49 L402.3,668.03 L402.5,669.56 L402.7,671.09 L402.8,672.63 L403.0,674.16 L403.2,675.70 L403.3,677.23 L403.5,678.76 L403.7,680.30 L403.8,681.83 L404.0,683.36 L404.2,684.90 L404.3,686.43 L404.5,687.96 L404.7,689.50 L404.9,691.03 L405.0,692.56 L405.2,694.10 L405.4,695.63 L405.5,697.16 L405.7,698.70 L405.9,700.23 L406.0,701.76 L406.2,703.30 L406.4,704.83 L406.5,706.36 L406.7,707.90 L406.9,709.43 L407.0,710.96 L407.2,712.50 L407.4,714.03 L407.5,715.56 L407.7,717.10 L407.9,718.63 L408.0,720.16 L408.2,721.70 L408.4,723.23 L408.5,724.77 L408.7,726.30 L408.8,727.83 L409.0,729.37 L409.2,730.90 L409.3,732.43 L409.5,733.97 L409.7,735.50 L409.8,737.04 L410.0,738.57 L410.1,740.10 L410.3,741.64 L410.5,743.17 L410.6,744.71 L410.8,746.24 L410.9,747.77 L411.1,749.31 L411.3,750.84 L411.4,752.37 L411.6,753.91 L411.7,755.44 L411.9,756.98 L412.1,758.51 L412.2,760.04 L412.4,761.58 L412.6,763.11 L412.7,764.65 L412.9,766.18 L413.0,767.71 L413.2,769.25 L413.4,770.78 L413.5,772.31 L413.7,773.85 L413.8,775.38 L414.0,776.92 L414.2,778.45 L414.3,779.98 L414.5,781.52 L414.7,783.05 L414.8,784.58 L415.0,786.12 L415.1,787.65 L415.3,789.19 L415.5,790.72 L415.6,792.25 L415.8,793.79 L416.0,795.32 L416.1,796.85 L416.3,798.39 L416.5,799.92 L416.6,801.46 L416.8,802.99 L417.0,804.52 L417.1,806.06 L417.3,807.59 L417.5,809.12 L417.6,810.66 L417.8,812.19 L418.0,813.72 L418.1,815.26 L418.3,816.79 L418.5,818.32 L418.7,819.85 L418.8,821.39 L419.0,822.92 L419.2,824.45 L419.4,825.99 L419.6,827.52 L419.7,829.05 L419.9,830.58 L420.1,832.12 L420.3,833.65 L420.4,835.18 L420.6,836.71 L420.8,838.25 L421.0,839.78 L421.2,841.31 L421.4,842.84 L421.5,844.38 L421.7,845.91 L421.9,847.44 L422.1,848.97 L422.3,850.51 L422.4,852.04 L422.6,853.57 L422.8,855.11 L423.0,856.64 L423.1,858.17 L423.3,859.70 L423.5,861.24 L423.7,862.77 L423.9,864.30 L424.0,865.84 L424.2,867.37 L424.4,868.90 L424.5,870.43 L424.7,871.97 L424.9,873.50 L425.1,875.03 L425.2,876.57 L425.4,878.10 L425.6,879.64 L425.7,881.17 L425.9,882.70 L426.0,884.24 L426.2,885.77 L426.4,887.30 L426.5,888.84 L426.7,890.37 L426.8,891.91 L427.0,893.44 L427.1,894.98 L427.3,896.51 L427.4,898.05 L427.5,899.58 L427.7,901.12 L427.8,902.65 L427.9,904.19 L428.1,905.72 L428.2,907.26 L428.3,908.80 L428.4,910.33 L428.6,911.87 L428.7,913.40 L428.8,914.94 L428.9,916.47 L429.1,918.01 L429.2,919.55 L429.3,921.08 L429.5,922.61 L429.7,924.15 L429.8,925.68 L430.0,927.22 L430.2,928.75 L430.4,930.28 L430.6,931.81 L430.8,933.34 L431.0,934.87 L431.2,936.40 L431.4,937.93 L431.6,939.46 L431.8,940.99 L432.1,942.52 L432.3,944.05 L432.5,945.58 L432.8,947.11 L433.0,948.63 L433.2,950.16 L433.5,951.69 L433.7,953.22 L434.0,954.74 L434.2,956.27 L434.5,957.79 L434.8,959.32 L435.1,960.84 L435.4,962.36 L435.8,963.87 L436.1,965.39 L436.5,966.90 L436.9,968.40 L437.3,969.91 L437.8,971.41 L438.3,972.90 L438.8,974.39 L439.3,975.87 L439.9,977.34 L440.6,978.79 L441.4,980.19 L442.5,981.49 L443.7,982.69 L445.2,983.77 L446.7,984.71 L448.5,985.39 L450.4,985.88 L452.4,986.15 L454.4,986.22 L456.4,986.23 L458.4,986.22 L460.4,986.21 L462.4,986.19 L464.4,986.16 L466.4,986.14 L468.4,986.10 L470.4,986.07 L472.4,986.01 L474.4,985.93 L476.4,985.85 L478.4,985.76 L480.4,985.68 L482.4,985.60 L484.4,985.53 L486.4,985.45 L488.4,985.38 L490.4,985.30 L492.4,985.22 L494.4,985.14 L496.4,985.06 L498.4,984.99 L500.4,984.90 L502.4,984.82 L504.4,984.74 L506.4,984.66 L508.3,984.58 L510.3,984.49 L512.3,984.41 L514.3,984.32 L516.3,984.24 L518.3,984.15 L520.3,984.07 L522.3,983.98 L524.3,983.89 L526.3,983.81 L528.3,983.72 L530.3,983.63 L532.3,983.54 L534.3,983.45 L536.3,983.36 L538.3,983.27 L540.3,983.18 L542.3,983.09 L544.3,983.00 L546.3,982.91 L548.3,982.81 L550.3,982.72 L552.3,982.62 L554.3,982.53 L556.3,982.44 L558.3,982.34 L560.3,982.24 L562.3,982.15 L564.3,982.05 L566.3,981.95 L568.3,981.85 L570.3,981.75 L572.3,981.65 L574.2,981.55 L576.2,981.44 L578.2,981.34 L580.2,981.23 L582.2,981.12 L584.2,981.02 L586.2,980.91 L588.2,980.80 L590.2,980.68 L592.2,980.57 L594.2,980.46 L596.2,980.35 L598.2,980.23 L600.2,980.12 L602.2,980.01 L604.2,979.89 L606.2,979.78 L608.2,979.66 L610.2,979.55 L612.2,979.44 L614.2,979.32 L616.1,979.21 L618.1,979.10 L620.1,978.99 L622.1,978.88 L624.1,978.77 L626.1,978.66 L628.1,978.55 L630.1,978.44 L632.1,978.33 L634.1,978.23 L636.1,978.12 L638.1,978.01 L640.1,977.91 L642.1,977.80 L644.1,977.70 L646.1,977.59 L648.1,977.48 L650.1,977.38 L652.1,977.27 L654.1,977.17 L656.1,977.06 L658.1,976.96 L660.1,976.85 L662.0,976.75 L664.0,976.64 L666.0,976.54 L668.0,976.43 L670.0,976.33 L672.0,976.22 L674.0,976.12 L676.0,976.01 L678.0,975.91 L680.0,975.80 L682.0,975.70 L684.0,975.60 L686.0,975.49 L688.0,975.39 L690.0,975.28 L692.0,975.18 L694.0,975.08 L696.0,974.98 L698.0,974.87 L700.0,974.77 L702.0,974.67 L704.0,974.57 L706.0,974.46 L708.0,974.36 L710.0,974.26 L711.9,974.16 L713.9,974.06 L715.9,973.96 L717.9,973.86 L719.9,973.76 L721.9,973.66 L723.9,973.56 L725.9,973.46 L727.9,973.36 L729.9,973.26 L731.9,973.17 L733.9,973.07 L735.9,972.97 L737.9,972.88 L739.9,972.78 L741.9,972.68 L743.9,972.59 L745.9,972.49 L747.9,972.40 L749.9,972.30 L751.9,972.21 L753.9,972.11 L755.9,972.02 L757.9,971.93 L759.9,971.83 L761.9,971.74 L763.9,971.65 L765.9,971.56 L767.9,971.47 L769.8,971.38 L771.8,971.29 L773.8,971.20 L775.8,971.11 L777.8,971.02 L779.8,970.93 L781.8,970.84 L783.8,970.76 L785.8,970.67 L787.8,970.58 L789.8,970.50 L791.8,970.41 L793.8,970.32 L795.8,970.24 L797.8,970.15 L799.8,970.07 L801.8,969.98 L803.8,969.90 L805.8,969.81 L807.8,969.73 L809.8,969.64 L811.8,969.56 L813.8,969.47 L815.8,969.39 L817.8,969.31 L819.8,969.22 L821.8,969.14 L823.8,969.06 L825.8,968.97 L827.8,968.89 L829.8,968.81 L831.8,968.73 L833.8,968.64 L835.8,968.56 L837.8,968.48 L839.8,968.40 L841.8,968.32 L843.8,968.24 L845.8,968.16 L847.8,968.07 L849.7,967.99 L851.7,967.91 L853.7,967.83 L855.7,967.75 L857.7,967.67 L859.7,967.59 L861.7,967.51 L863.7,967.43 L865.7,967.36 L867.7,967.28 L869.7,967.20 L871.7,967.12 L873.7,967.04 L875.7,966.96 L877.7,966.88 L879.7,966.80 L881.7,966.73 L883.7,966.65 L885.7,966.57 L887.7,966.49 L889.7,966.42 L891.7,966.34 L893.7,966.26 L895.7,966.18 L897.7,966.11 L899.7,966.03 L901.7,965.95 L903.7,965.88 L905.7,965.80 L907.7,965.73 L909.7,965.65 L911.7,965.57 L913.7,965.50 L915.7,965.42 L917.7,965.35 L919.7,965.27 L921.7,965.20 L923.7,965.12 L925.7,965.05 L927.7,964.97 L929.7,964.90 L931.7,964.82 L933.7,964.75 L935.7,964.67 L937.7,964.60 L939.7,964.52 L941.7,964.45 L943.7,964.38 L945.7,964.30 L947.6,964.23 L949.6,964.15 L951.6,964.08 L953.6,964.01 L955.6,963.93 L957.6,963.86 L959.6,963.79 L961.6,963.71 L963.6,963.64 L965.6,963.57 L967.6,963.49 L969.6,963.42 L971.6,963.35 L973.6,963.28 L975.6,963.20 L977.6,963.13 L979.6,963.06 L981.6,962.99 L983.6,962.91 L985.6,962.84 L987.6,962.77 L989.6,962.70 L991.6,962.63 L993.6,962.55 L995.6,962.48 L997.6,962.41 L999.6,962.34 L1001.6,962.27 L1003.6,962.20 L1005.6,962.12 L1007.6,962.05 L1009.6,961.98 L1011.6,961.91 L1013.6,961.84 L1015.6,961.77 L1017.6,961.70 L1019.6,961.62 L1021.6,961.55 L1023.6,961.48 L1025.6,961.41 L1027.6,961.34 L1029.6,961.27 L1031.6,961.20 L1033.6,961.13 L1035.6,961.06 L1037.6,960.99 L1039.6,960.91 L1041.6,960.84 L1043.6,960.77 L1045.6,960.70 L1047.6,960.63 L1049.6,960.56 L1051.6,960.49 L1053.6,960.42 L1055.6,960.35 L1057.6,960.28 L1059.6,960.21 L1061.6,960.14 L1063.6,960.07 L1065.6,960.00 L1067.5,959.93 L1069.5,959.85 L1071.5,959.78 L1073.5,959.71 L1075.5,959.64 L1077.5,959.57 L1079.5,959.50 L1081.5,959.43 L1083.5,959.36 L1085.5,959.29 L1087.5,959.22 L1089.5,959.15 L1091.5,959.08 L1093.5,959.01 L1095.5,958.94 L1097.5,958.87 L1099.5,958.80 L1101.5,958.73 L1103.5,958.66 L1105.5,958.58 L1107.5,958.51 L1109.5,958.44 L1111.5,958.37 L1113.5,958.30 L1115.5,958.23 L1117.5,958.16 L1119.5,958.09 L1121.5,958.02 L1123.5,957.95 L1125.5,957.88 L1127.5,957.81 L1129.5,957.73 L1131.5,957.66 L1133.5,957.59 L1135.5,957.52 L1137.5,957.45 L1139.5,957.38 L1141.5,957.31 L1143.5,957.24 L1145.5,957.16 L1147.5,957.09 L1149.5,957.02 L1151.5,956.95 L1153.5,956.88 L1155.5,956.81 L1157.5,956.74 L1159.5,956.66 L1161.5,956.59 L1163.5,956.52 L1165.5,956.45 L1167.5,956.38 L1169.5,956.30 L1171.5,956.23 L1173.5,956.16 L1175.5,956.09 L1177.5,956.01 L1179.5,955.94 L1181.5,955.87 L1183.5,955.80 L1185.5,955.72 L1187.5,955.65 L1189.4,955.58 L1191.4,955.51 L1193.4,955.43 L1195.4,955.36 L1197.4,955.29 L1199.4,955.22 L1201.4,955.14 L1203.4,955.07 L1205.4,955.00 L1207.4,954.92 L1209.4,954.85 L1211.4,954.78 L1213.4,954.70 L1215.4,954.63 L1217.4,954.56 L1219.4,954.48 L1221.4,954.41 L1223.4,954.34 L1225.4,954.27 L1227.4,954.19 L1229.4,954.12 L1231.4,954.05 L1233.4,953.97 L1235.4,953.90 L1237.4,953.83 L1239.4,953.75 L1241.4,953.68 L1243.4,953.61 L1245.4,953.54 L1247.4,953.46 L1249.4,953.39 L1251.4,953.32 L1253.4,953.24 L1255.4,953.17 L1257.4,953.10 L1259.4,953.03 L1261.4,952.95 L1263.4,952.88 L1265.4,952.81 L1267.4,952.74 L1269.4,952.66 L1271.4,952.59 L1273.4,952.52 L1275.4,952.45 L1277.4,952.38 L1279.4,952.30 L1281.4,952.23 L1283.4,952.16 L1285.4,952.09 L1287.4,952.02 L1289.4,951.95 L1291.4,951.87 L1293.4,951.80 L1295.4,951.73 L1297.4,951.66 L1299.4,951.59 L1301.4,951.52 L1303.4,951.45 L1305.3,951.38 L1307.3,951.31 L1309.3,951.24 L1311.3,951.17 L1313.3,951.10 L1315.3,951.03 L1317.3,950.96 L1319.3,950.89 L1321.3,950.82 L1323.3,950.75 L1325.3,950.68 L1327.3,950.61 L1329.3,950.54 L1331.3,950.47 L1333.3,950.40 L1335.3,950.33 L1337.3,950.27 L1339.3,950.20 L1341.3,950.13 L1343.3,950.06 L1345.3,949.99 L1347.3,949.93 L1349.3,949.86 L1351.3,949.79 L1353.3,949.72 L1355.3,949.66 L1357.3,949.59 L1359.3,949.52 L1361.3,949.46 L1363.3,949.39 L1365.3,949.33 L1367.3,949.26 L1369.3,949.19 L1371.3,949.13 L1373.3,949.06 L1375.3,949.00 L1377.3,948.93 L1379.3,948.87 L1381.3,948.81 L1383.3,948.74 L1385.3,948.68 L1387.3,948.61 L1389.3,948.55 L1391.3,948.49 L1393.3,948.42 L1395.3,948.36 L1397.3,948.30 L1399.3,948.23 L1401.3,948.17 L1403.3,948.11 L1405.3,948.05 L1407.3,947.98 L1409.3,947.92 L1411.3,947.86 L1413.3,947.80 L1415.3,947.74 L1417.3,947.67 L1419.3,947.61 L1421.3,947.55 L1423.3,947.49 L1425.3,947.43 L1427.3,947.37 L1429.3,947.31 L1431.3,947.25 L1433.3,947.19 L1435.3,947.13 L1437.3,947.07 L1439.3,947.01 L1441.3,946.95 L1443.3,946.89 L1445.3,946.83 L1447.3,946.77 L1449.3,946.71 L1451.3,946.65 L1453.3,946.59 L1455.3,946.53 L1457.3,946.47 L1459.3,946.41 L1461.3,946.35 L1463.3,946.29 L1465.2,946.23 L1467.2,946.17 L1469.2,946.11 L1471.2,946.06 L1473.2,946.00 L1475.2,945.94 L1477.2,945.88 L1479.2,945.82 L1481.2,945.77 L1483.2,945.71 L1485.2,945.65 L1487.2,945.59 L1489.2,945.53 L1491.2,945.48 L1493.2,945.42 L1495.2,945.36 L1497.2,945.30 L1499.2,945.25 L1501.2,945.19 L1503.2,945.13 L1505.2,945.07 L1507.2,945.02 L1509.2,944.96 L1511.2,944.90 L1513.2,944.85 L1515.2,944.79 L1517.2,944.73 L1519.2,944.68 L1521.2,944.62 L1523.2,944.56 L1525.2,944.51 L1527.2,944.45 L1529.2,944.39 L1531.2,944.34 L1533.2,944.28 L1535.2,944.23 L1537.2,944.17 L1539.2,944.11 L1541.2,944.06 L1543.2,944.00 L1545.2,943.95 L1547.2,943.89 L1549.2,943.83 L1551.2,943.78 L1553.2,943.72 L1555.2,943.67 L1557.2,943.61 L1559.2,943.56 L1561.2,943.50 L1563.2,943.44 L1565.2,943.39 L1567.2,943.33 L1569.2,943.28 L1571.2,943.22 L1573.2,943.17 L1575.2,943.11 L1577.2,943.06 L1579.2,943.00 L1581.2,942.94 L1583.2,942.89 L1585.2,942.83 L1587.2,942.78 L1589.2,942.72 L1591.2,942.67 L1593.2,942.61 L1595.2,942.56 L1597.2,942.50 L1599.2,942.45 L1601.2,942.39 L1603.2,942.34 L1605.2,942.28 L1607.2,942.23 L1609.2,942.17 L1611.2,942.12 L1613.2,942.06 L1615.2,942.01 L1617.2,941.95 L1619.2,941.89 L1621.2,941.84 L1623.2,941.78 L1625.2,941.73 L1627.2,941.67 L1629.2,941.62 L1631.2,941.56 L1633.2,941.51 L1635.2,941.45 L1637.2,941.40 L1639.2,941.34 L1641.2,941.29 L1643.2,941.23 L1645.2,941.18 L1647.2,941.12 L1649.2,941.06 L1651.2,941.01 L1653.2,940.95 L1655.2,940.90 L1657.2,940.84 L1659.2,940.79 L1661.2,940.73 L1663.2,940.68 L1665.2,940.62 L1667.2,940.56 L1669.2,940.51 L1671.2,940.45 L1673.2,940.40 L1675.2,940.34 L1677.2,940.28 L1679.2,940.23 L1681.2,940.17 L1683.2,940.12 L1685.2,940.06 L1687.2,940.00 L1689.2,939.95 L1691.2,939.89 L1693.2,939.83 L1695.2,939.78 L1697.2,939.72 L1699.2,939.66 L1701.2,939.61 L1703.2,939.55 L1705.2,939.49 L1707.1,939.44 L1709.1,939.38 L1711.1,939.32 L1713.1,939.27 L1715.1,939.21 L1717.1,939.15 L1719.1,939.09 L1721.1,939.04 L1723.1,938.98 L1725.1,938.92 L1727.1,938.86 L1729.1,938.81 L1731.1,938.75 L1733.1,938.69 L1735.1,938.63 L1737.1,938.58 L1739.1,938.52 L1741.1,938.46 L1743.1,938.40 L1745.1,938.34 L1747.1,938.28 L1749.1,938.23 L1751.1,938.17 L1753.1,938.11 L1755.1,938.05 L1757.1,937.99 L1759.1,937.93 L1761.1,937.87 L1763.1,937.81 L1765.1,937.75 L1767.1,937.69 L1769.1,937.63 L1771.1,937.57 L1773.1,937.51 L1775.1,937.45 L1777.1,937.39 L1779.1,937.33 L1781.1,937.27 L1783.1,937.21 L1785.1,937.15 L1787.1,937.09 L1789.1,937.03 L1791.1,936.97 L1793.1,936.91 L1795.1,936.85 L1797.1,936.79 L1799.1,936.73 L1801.1,936.67 L1803.1,936.61 L1805.1,936.55 L1807.1,936.48 L1809.1,936.42 L1811.1,936.36 L1813.1,936.30 L1815.1,936.24 L1817.1,936.18 L1819.1,936.12 L1821.1,936.06 L1823.1,935.99 L1825.1,935.93 L1827.1,935.87 L1829.1,935.81 L1831.1,935.75 L1833.1,935.69 L1835.1,935.62 L1837.1,935.56 L1839.1,935.50 L1841.1,935.44 L1843.1,935.38 L1845.1,935.32 L1847.1,935.25 L1849.1,935.19 L1851.1,935.13 L1853.1,935.07 L1855.1,935.00 L1857.1,934.94 L1859.1,934.88 L1861.1,934.82 L1863.1,934.76 L1865.1,934.69 L1867.1,934.63 L1869.1,934.57 L1871.1,934.51 L1873.1,934.44 L1875.1,934.38 L1877.1,934.32 L1879.1,934.25 L1881.1,934.19 L1883.1,934.13 L1885.1,934.07 L1887.1,934.00 L1889.1,933.94 L1891.1,933.88 L1893.1,933.81 L1895.1,933.75 L1897.0,933.69 L1899.0,933.63 L1901.0,933.56 L1903.0,933.50 L1905.0,933.44 L1907.0,933.37 L1909.0,933.31 L1911.0,933.25 L1913.0,933.18 L1915.0,933.12 L1917.0,933.06 L1919.0,932.99 L1921.0,932.93 L1923.0,932.87 L1925.0,932.80 L1927.0,932.74 L1929.0,932.68 L1931.0,932.61 L1933.0,932.55 L1935.0,932.48 L1937.0,932.42 L1939.0,932.36 L1941.0,932.29 L1943.0,932.23 L1945.0,932.17 L1947.0,932.10 L1949.0,932.04 L1951.0,931.97 L1953.0,931.91 L1955.0,931.85 L1957.0,931.78 L1959.0,931.72 L1961.0,931.65 L1963.0,931.59 L1965.0,931.53 L1967.0,931.46 L1969.0,931.40 L1971.0,931.33 L1973.0,931.27 L1975.0,931.21 L1977.0,931.14 L1979.0,931.08"/>
</g></g>
<clipPath id="c2"><rect x="151" y="1576.0" width="1828.0" height="1208.0"/></clipPath>
<g clip-path="url(#c2)"><g transform="scale(1 1.3)" fill="none" stroke-width="7.0" stroke-linejoin="round" stroke-linecap="butt" shape-rendering="crispEdges">
<path stroke="#ff0000" d="M149.0,2134.62 L150.9,2134.23 L152.9,2133.85 L154.8,2133.45 L156.7,2133.04 L158.7,2132.62 L160.6,2132.18 L162.5,2131.73 L164.4,2131.26 L166.3,2130.77 L168.2,2130.27 L170.1,2129.75 L172.0,2129.21 L173.8,2128.66 L175.7,2128.09 L177.5,2127.50 L179.4,2126.89 L181.2,2126.27 L183.0,2125.62 L184.8,2124.95 L186.6,2124.26 L188.4,2123.54 L190.1,2122.81 L191.9,2122.05 L193.6,2121.28 L195.3,2120.49 L197.0,2119.68 L198.7,2118.85 L200.4,2118.01 L202.0,2117.14 L203.7,2116.26 L205.3,2115.37 L206.9,2114.46 L208.5,2113.53 L210.1,2112.58 L211.7,2111.62 L213.2,2110.65 L214.8,2109.66 L216.3,2108.65 L217.8,2107.62 L219.2,2106.58 L220.7,2105.52 L222.1,2104.45 L223.5,2103.36 L224.9,2102.25 L226.3,2101.13 L227.6,2099.99 L229.0,2098.83 L230.3,2097.66 L231.5,2096.48 L232.8,2095.29 L234.1,2094.08 L235.3,2092.86 L236.5,2091.64 L237.7,2090.40 L238.8,2089.15 L240.0,2087.90 L241.1,2086.63 L242.3,2085.36 L243.4,2084.08 L244.5,2082.79 L245.6,2081.50 L246.6,2080.20 L247.7,2078.89 L248.7,2077.57 L249.7,2076.24 L250.8,2074.91 L251.7,2073.58 L252.7,2072.23 L253.7,2070.88 L254.6,2069.53 L255.6,2068.17 L256.5,2066.80 L257.4,2065.44 L258.3,2064.06 L259.2,2062.69 L260.1,2061.31 L261.0,2059.92 L261.9,2058.54 L262.7,2057.15 L263.6,2055.76 L264.4,2054.36 L265.3,2052.97 L266.1,2051.57 L266.9,2050.16 L267.7,2048.76 L268.6,2047.35 L269.4,2045.94 L270.2,2044.53 L270.9,2043.11 L271.7,2041.69 L272.5,2040.27 L273.2,2038.84 L274.0,2037.41 L274.7,2035.98 L275.4,2034.54 L276.1,2033.10 L276.8,2031.66 L277.5,2030.21 L278.2,2028.76 L278.8,2027.31 L279.5,2025.85 L280.1,2024.39 L280.7,2022.93 L281.4,2021.46 L282.0,2019.99 L282.5,2018.52 L283.1,2017.04 L283.7,2015.57 L284.3,2014.09 L284.8,2012.62 L285.4,2011.14 L285.9,2009.66 L286.5,2008.18 L287.1,2006.70 L287.6,2005.23 L288.2,2003.75 L288.8,2002.28 L289.3,2000.80 L289.9,1999.33 L290.5,1997.85 L291.1,1996.38 L291.7,1994.91 L292.2,1993.43 L292.8,1991.96 L293.4,1990.48 L293.9,1989.00 L294.4,1987.51 L295.0,1986.02 L295.5,1984.53 L296.0,1983.04 L296.5,1981.55 L296.9,1980.06 L297.4,1978.56 L297.9,1977.06 L298.4,1975.57 L298.8,1974.07 L299.3,1972.57 L299.7,1971.07 L300.2,1969.57 L300.6,1968.07 L301.1,1966.57 L301.5,1965.06 L301.9,1963.56 L302.4,1962.06 L302.8,1960.55 L303.2,1959.05 L303.6,1957.54 L304.0,1956.04 L304.5,1954.53 L304.9,1953.02 L305.3,1951.52 L305.7,1950.01 L306.1,1948.50 L306.5,1946.99 L306.9,1945.48 L307.2,1943.97 L307.6,1942.46 L308.0,1940.95 L308.4,1939.44 L308.8,1937.92 L309.1,1936.41 L309.5,1934.90 L309.9,1933.38 L310.2,1931.87 L310.6,1930.36 L311.0,1928.84 L311.3,1927.33 L311.7,1925.81 L312.0,1924.30 L312.4,1922.78 L312.7,1921.27 L313.1,1919.75 L313.4,1918.23 L313.8,1916.72 L314.1,1915.20 L314.5,1913.68 L314.8,1912.17 L315.1,1910.65 L315.5,1909.13 L315.8,1907.61 L316.1,1906.09 L316.5,1904.57 L316.8,1903.06 L317.1,1901.54 L317.4,1900.02 L317.8,1898.50 L318.1,1896.98 L318.4,1895.46 L318.7,1893.94 L319.0,1892.42 L319.3,1890.89 L319.6,1889.37 L319.9,1887.85 L320.3,1886.33 L320.6,1884.81 L320.9,1883.29 L321.2,1881.76 L321.5,1880.24 L321.8,1878.72 L322.1,1877.20 L322.3,1875.67 L322.6,1874.15 L322.9,1872.63 L323.2,1871.10 L323.5,1869.58 L323.8,1868.06 L324.1,1866.53 L324.4,1865.01 L324.6,1863.48 L324.9,1861.96 L325.2,1860.44 L325.5,1858.91 L325.8,1857.39 L326.0,1855.86 L326.3,1854.34 L326.6,1852.81 L326.9,1851.29 L327.1,1849.76 L327.4,1848.24 L327.7,1846.71 L327.9,1845.18 L328.2,1843.66 L328.5,1842.13 L328.7,1840.61 L329.0,1839.08 L329.3,1837.55 L329.5,1836.03 L329.8,1834.50 L330.0,1832.97 L330.3,1831.45 L330.6,1829.92 L330.8,1828.39 L331.1,1826.87 L331.3,1825.34 L331.6,1823.81 L331.8,1822.28 L332.1,1820.76 L332.3,1819.23 L332.6,1817.70 L332.8,1816.18 L333.1,1814.65 L333.3,1813.12 L333.6,1811.59 L333.8,1810.07 L334.1,1808.54 L334.3,1807.01 L334.6,1805.48 L334.8,1803.95 L335.1,1802.43 L335.3,1800.90 L335.6,1799.37 L335.8,1797.84 L336.1,1796.31 L336.3,1794.79 L336.5,1793.26 L336.8,1791.73 L337.0,1790.20 L337.3,1788.67 L337.5,1787.15 L337.8,1785.62 L338.0,1784.09 L338.2,1782.56 L338.5,1781.03 L338.7,1779.50 L339.0,1777.97 L339.2,1776.45 L339.4,1774.92 L339.7,1773.39 L339.9,1771.86 L340.2,1770.33 L340.4,1768.80 L340.6,1767.27 L340.9,1765.74 L341.1,1764.22 L341.3,1762.69 L341.6,1761.16 L341.8,1759.63 L342.0,1758.10 L342.3,1756.57 L342.5,1755.04 L342.7,1753.51 L342.9,1751.98 L343.2,1750.45 L343.4,1748.92 L343.6,1747.39 L343.9,1745.86 L344.1,1744.33 L344.3,1742.80 L344.5,1741.27 L344.7,1739.74 L345.0,1738.21 L345.2,1736.68 L345.4,1735.15 L345.6,1733.62 L345.9,1732.09 L346.1,1730.56 L346.3,1729.03 L346.5,1727.50 L346.7,1725.97 L346.9,1724.44 L347.2,1722.91 L347.4,1721.38 L347.6,1719.85 L347.8,1718.32 L348.0,1716.78 L348.2,1715.25 L348.4,1713.72 L348.6,1712.19 L348.8,1710.66 L349.0,1709.13 L349.3,1707.60 L349.5,1706.07 L349.7,1704.53 L349.9,1703.00 L350.1,1701.47 L350.3,1699.94 L350.5,1698.41 L350.7,1696.88 L350.9,1695.34 L351.1,1693.81 L351.3,1692.28 L351.5,1690.75 L351.7,1689.22 L351.9,1687.68 L352.0,1686.15 L352.2,1684.62 L352.4,1683.09 L352.6,1681.55 L352.8,1680.02 L353.0,1678.49 L353.2,1676.95 L353.4,1675.42 L353.6,1673.89 L353.7,1672.36 L353.9,1670.82 L354.1,1669.29 L354.3,1667.76 L354.5,1666.22 L354.6,1664.69 L354.8,1663.15 L355.0,1661.62 L355.2,1660.09 L355.3,1658.55 L355.5,1657.02 L355.7,1655.48 L355.8,1653.95 L356.0,1652.42 L356.2,1650.88 L356.3,1649.35 L356.5,1647.81 L356.7,1646.28 L356.8,1644.74 L357.0,1643.21 L357.1,1641.67 L357.3,1640.14 L357.5,1638.61 L357.6,1637.07 L357.8,1635.54 L358.0,1634.00 L358.1,1632.47 L358.3,1630.93 L358.4,1629.40 L358.6,1627.86 L358.8,1626.33 L358.9,1624.79 L359.1,1623.26 L359.2,1621.72 L359.4,1620.19 L359.6,1618.66 L359.7,1617.12 L359.9,1615.59 L360.0,1614.05 L360.2,1612.52 L360.4,1610.98 L360.5,1609.45 L360.7,1607.91 L360.8,1606.38 L361.0,1604.84 L361.2,1603.31 L361.3,1601.77 L361.5,1600.24 L361.6,1598.70 L361.8,1597.17 L362.0,1595.63 L362.1,1594.10 L362.3,1592.57 L362.4,1591.03 L362.6,1589.50 L362.7,1587.96 L362.9,1586.43 L363.1,1584.89 L363.2,1583.36 L363.4,1581.82 L363.5,1580.29 L363.7,1578.75 L363.8,1577.22 L364.0,1575.68 L364.1,1574.15 L364.3,1572.61 L364.4,1571.08 L364.6,1569.54 L364.8,1568.01 L364.9,1566.47 L365.1,1564.94 L365.2,1563.40 L365.4,1561.87 L365.5,1560.33 L365.7,1558.80 L365.8,1557.26 L366.0,1555.72 L366.1,1554.19 L366.3,1552.65 L366.4,1551.12 L366.6,1549.58 L366.7,1548.05 L366.9,1546.51 L367.0,1544.98 L367.2,1543.44 L367.3,1541.91 L367.5,1540.37 L367.6,1538.84 L367.8,1537.30 L367.9,1535.77 L368.1,1534.23 L368.2,1532.70 L368.4,1531.16 L368.5,1529.62 L368.7,1528.09 L368.8,1526.55 L369.0,1525.02 L369.1,1523.48 L369.3,1521.95 L369.4,1520.41 L369.6,1518.88 L369.7,1517.34 L369.9,1515.81 L370.0,1514.27 L370.1,1512.74 L370.3,1511.20 L370.4,1509.66 L370.6,1508.13 L370.7,1506.59 L370.9,1505.06 L371.0,1503.52 L371.2,1501.99 L371.3,1500.45 L371.5,1498.92 L371.6,1497.38 L371.8,1495.85 L371.9,1494.31 L372.1,1492.77 L372.2,1491.24 L372.4,1489.70 L372.5,1488.17 L372.6,1486.63 L372.8,1485.10 L372.9,1483.56 L373.1,1482.03 L373.2,1480.49 L373.4,1478.96 L373.5,1477.42 L373.7,1475.88 L373.8,1474.35 L374.0,1472.81 L374.1,1471.28 L374.3,1469.74 L374.4,1468.21 L374.5,1466.67 L374.7,1465.14 L374.8,1463.60 L375.0,1462.06 L375.1,1460.53 L375.3,1458.99 L375.4,1457.46 L375.5,1455.92 L375.7,1454.39 L375.8,1452.85 L376.0,1451.31 L376.1,1449.78 L376.3,1448.24 L376.4,1446.71 L376.5,1445.17 L376.7,1443.64 L376.8,1442.10 L377.0,1440.56 L377.1,1439.03 L377.3,1437.49 L377.4,1435.96 L377.5,1434.42 L377.7,1432.89 L377.8,1431.35 L378.0,1429.81 L378.1,1428.28 L378.2,1426.74 L378.4,1425.21 L378.5,1423.67 L378.7,1422.14 L378.8,1420.60 L378.9,1419.06 L379.1,1417.53 L379.2,1415.99 L379.4,1414.46 L379.5,1412.92 L379.6,1411.38 L379.8,1409.85 L379.9,1408.31 L380.1,1406.78 L380.2,1405.24 L380.3,1403.71 L380.5,1402.17 L380.6,1400.63 L380.8,1399.10 L380.9,1397.56 L381.0,1396.03 L381.2,1394.49 L381.3,1392.95 L381.4,1391.42 L381.6,1389.88 L381.7,1388.35 L381.9,1386.81 L382.0,1385.27 L382.1,1383.74 L382.3,1382.20 L382.4,1380.67 L382.5,1379.13 L382.7,1377.59 L382.8,1376.06 L382.9,1374.52 L383.1,1372.98 L383.2,1371.45 L383.3,1369.91 L383.5,1368.38 L383.6,1366.84 L383.7,1365.30 L383.9,1363.77 L384.0,1362.23 L384.1,1360.69 L384.2,1359.16 L384.4,1357.62 L384.5,1356.08 L384.6,1354.55 L384.7,1353.01 L384.8,1351.47 L385.0,1349.94 L385.1,1348.40 L385.2,1346.86 L385.4,1345.33 L385.5,1343.79 L385.6,1342.25 L385.8,1340.72 L385.9,1339.18 L386.0,1337.65 L386.2,1336.11 L386.3,1334.58 L386.5,1333.04 L386.6,1331.50 L386.8,1329.97 L386.9,1328.43 L387.1,1326.90 L387.2,1325.36 L387.4,1323.83 L387.5,1322.29 L387.7,1320.76 L387.9,1319.23 L388.1,1317.70 L388.3,1316.16 L388.5,1314.63 L388.8,1313.10 L389.0,1311.58 L389.3,1310.05 L389.6,1308.53 L390.0,1307.02 L390.5,1305.52 L391.1,1304.08 L392.0,1302.69 L392.9,1304.08 L393.4,1305.55 L393.6,1307.08 L393.8,1308.61 L393.9,1310.15 L394.0,1311.69 L394.1,1313.22 L394.3,1314.76 L394.4,1316.29 L394.6,1317.82 L394.8,1319.36 L394.9,1320.89 L395.1,1322.42 L395.3,1323.95 L395.5,1325.49 L395.7,1327.02 L395.9,1328.55 L396.1,1330.08 L396.3,1331.61 L396.5,1333.15 L396.6,1334.68 L396.8,1336.21 L397.0,1337.74 L397.2,1339.27 L397.4,1340.81 L397.6,1342.34 L397.8,1343.87 L398.0,1345.40 L398.2,1346.93 L398.4,1348.46 L398.6,1349.99 L398.8,1351.52 L399.0,1353.05 L399.2,1354.58 L399.4,1356.12 L399.6,1357.65 L399.8,1359.18 L400.0,1360.71 L400.2,1362.24 L400.4,1363.77 L400.6,1365.30 L400.8,1366.84 L401.0,1368.37 L401.2,1369.90 L401.4,1371.43 L401.5,1372.97 L401.7,1374.50 L401.9,1376.03 L402.1,1377.56 L402.2,1379.10 L402.4,1380.63 L402.6,1382.17 L402.7,1383.70 L402.9,1385.23 L403.1,1386.77 L403.2,1388.30 L403.4,1389.83 L403.5,1391.37 L403.7,1392.90 L403.9,1394.44 L404.0,1395.97 L404.2,1397.50 L404.3,1399.04 L404.5,1400.57 L404.6,1402.11 L404.8,1403.64 L404.9,1405.18 L405.1,1406.71 L405.3,1408.24 L405.4,1409.78 L405.6,1411.31 L405.7,1412.85 L405.9,1414.38 L406.0,1415.92 L406.2,1417.45 L406.3,1418.98 L406.5,1420.52 L406.7,1422.05 L406.8,1423.59 L407.0,1425.12 L407.1,1426.65 L407.3,1428.19 L407.5,1429.72 L407.6,1431.25 L407.8,1432.79 L408.0,1434.32 L408.1,1435.85 L408.3,1437.39 L408.5,1438.92 L408.7,1440.45 L408.8,1441.99 L409.0,1443.52 L409.2,1445.05 L409.4,1446.58 L409.6,1448.12 L409.8,1449.65 L410.0,1451.18 L410.2,1452.71 L410.4,1454.24 L410.6,1455.77 L410.8,1457.30 L411.0,1458.83 L411.2,1460.37 L411.4,1461.90 L411.6,1463.43 L411.8,1464.96 L412.0,1466.49 L412.3,1468.02 L412.5,1469.54 L412.7,1471.07 L412.9,1472.60 L413.1,1474.13 L413.4,1475.66 L413.6,1477.19 L413.8,1478.72 L414.1,1480.25 L414.3,1481.78 L414.5,1483.31 L414.8,1484.83 L415.0,1486.36 L415.2,1487.89 L415.4,1489.42 L415.7,1490.95 L415.9,1492.48 L416.1,1494.01 L416.4,1495.53 L416.6,1497.06 L416.8,1498.59 L417.0,1500.12 L417.3,1501.65 L417.5,1503.18 L417.7,1504.71 L417.9,1506.24 L418.2,1507.77 L418.4,1509.30 L418.6,1510.83 L418.8,1512.36 L419.0,1513.89 L419.3,1515.42 L419.5,1516.95 L419.7,1518.47 L419.9,1520.00 L420.1,1521.53 L420.3,1523.06 L420.6,1524.59 L420.8,1526.12 L421.0,1527.65 L421.2,1529.18 L421.4,1530.71 L421.6,1532.24 L421.9,1533.77 L422.1,1535.30 L422.3,1536.83 L422.5,1538.36 L422.8,1539.89 L423.0,1541.42 L423.2,1542.95 L423.4,1544.48 L423.7,1546.01 L423.9,1547.53 L424.1,1549.06 L424.4,1550.59 L424.6,1552.12 L424.8,1553.65 L425.1,1555.17 L425.3,1556.70 L425.6,1558.23 L425.8,1559.76 L426.1,1561.28 L426.3,1562.81 L426.6,1564.34 L426.8,1565.86 L427.1,1567.39 L427.3,1568.91 L427.6,1570.44 L427.9,1571.97 L428.1,1573.49 L428.4,1575.02 L428.7,1576.54 L428.9,1578.07 L429.2,1579.59 L429.5,1581.12 L429.7,1582.64 L430.0,1584.17 L430.3,1585.69 L430.6,1587.21 L430.8,1588.74 L431.1,1590.26 L431.4,1591.78 L431.7,1593.31 L432.0,1594.83 L432.3,1596.35 L432.6,1597.87 L432.9,1599.40 L433.2,1600.92 L433.5,1602.44 L433.8,1603.96 L434.1,1605.48 L434.4,1607.00 L434.7,1608.52 L435.0,1610.04 L435.4,1611.56 L435.7,1613.08 L436.0,1614.60 L436.3,1616.11 L436.7,1617.63 L437.0,1619.15 L437.4,1620.66 L437.7,1622.17 L438.1,1623.69 L438.5,1625.20 L438.8,1626.71 L439.2,1628.22 L439.6,1629.73 L440.0,1631.24 L440.4,1632.75 L440.8,1634.25 L441.2,1635.76 L441.6,1637.27 L442.1,1638.77 L442.5,1640.28 L442.9,1641.78 L443.3,1643.29 L443.7,1644.80 L444.1,1646.30 L444.5,1647.81 L444.9,1649.32 L445.3,1650.83 L445.7,1652.34 L446.1,1653.85 L446.4,1655.36 L446.8,1656.87 L447.2,1658.39 L447.5,1659.90 L447.9,1661.41 L448.2,1662.93 L448.6,1664.44 L448.9,1665.96 L449.3,1667.48 L449.6,1668.99 L450.0,1670.51 L450.3,1672.02 L450.7,1673.53 L451.1,1675.05 L451.4,1676.56 L451.8,1678.07 L452.2,1679.58 L452.6,1681.09 L453.0,1682.60 L453.4,1684.11 L453.8,1685.61 L454.2,1687.12 L454.6,1688.62 L455.1,1690.12 L455.5,1691.62 L456.0,1693.12 L456.4,1694.62 L456.9,1696.12 L457.3,1697.62 L457.8,1699.11 L458.3,1700.61 L458.8,1702.10 L459.2,1703.59 L459.7,1705.09 L460.2,1706.58 L460.7,1708.07 L461.2,1709.56 L461.7,1711.05 L462.2,1712.54 L462.7,1714.03 L463.2,1715.52 L463.7,1717.01 L464.2,1718.50 L464.7,1719.99 L465.2,1721.47 L465.8,1722.96 L466.3,1724.45 L466.8,1725.93 L467.4,1727.41 L467.9,1728.89 L468.4,1730.38 L469.0,1731.86 L469.5,1733.33 L470.1,1734.81 L470.7,1736.29 L471.2,1737.76 L471.8,1739.24 L472.4,1740.71 L473.0,1742.18 L473.6,1743.65 L474.2,1745.11 L474.8,1746.58 L475.4,1748.04 L476.1,1749.50 L476.7,1750.95 L477.4,1752.41 L478.0,1753.86 L478.7,1755.31 L479.4,1756.75 L480.1,1758.19 L480.8,1759.63 L481.6,1761.06 L482.3,1762.49 L483.1,1763.92 L483.8,1765.34 L484.6,1766.75 L485.4,1768.17 L486.2,1769.58 L487.0,1770.99 L487.8,1772.39 L488.6,1773.79 L489.5,1775.19 L490.3,1776.59 L491.2,1777.98 L492.0,1779.37 L492.9,1780.76 L493.7,1782.15 L494.6,1783.53 L495.5,1784.91 L496.4,1786.29 L497.3,1787.66 L498.2,1789.03 L499.1,1790.39 L500.1,1791.75 L501.0,1793.10 L502.0,1794.45 L503.0,1795.78 L504.0,1797.11 L505.1,1798.43 L506.1,1799.74 L507.2,1801.03 L508.3,1802.32 L509.4,1803.60 L510.5,1804.86 L511.7,1806.12 L512.9,1807.37 L514.0,1808.62 L515.2,1809.85 L516.4,1811.08 L517.7,1812.30 L518.9,1813.52 L520.1,1814.73 L521.4,1815.93 L522.6,1817.13 L523.9,1818.32 L525.2,1819.50 L526.5,1820.67 L527.8,1821.83 L529.1,1822.98 L530.4,1824.13 L531.8,1825.26 L533.2,1826.38 L534.5,1827.49 L535.9,1828.59 L537.4,1829.68 L538.8,1830.76 L540.2,1831.82 L541.7,1832.86 L543.2,1833.89 L544.7,1834.91 L546.2,1835.91 L547.8,1836.89 L549.3,1837.85 L550.9,1838.80 L552.5,1839.72 L554.1,1840.63 L555.8,1841.51 L557.4,1842.38 L559.1,1843.23 L560.8,1844.06 L562.5,1844.87 L564.2,1845.67 L565.9,1846.45 L567.6,1847.21 L569.4,1847.96 L571.1,1848.69 L572.9,1849.41 L574.7,1850.10 L576.5,1850.79 L578.3,1851.45 L580.1,1852.10 L581.9,1852.73 L583.8,1853.34 L585.6,1853.94 L587.5,1854.53 L589.3,1855.10 L591.2,1855.65 L593.1,1856.19 L594.9,1856.71 L596.8,1857.22 L598.7,1857.72 L600.6,1858.20 L602.5,1858.66 L604.4,1859.12 L606.4,1859.55 L608.3,1859.98 L610.2,1860.39 L612.1,1860.79 L614.1,1861.18 L616.0,1861.56 L618.0,1861.92 L619.9,1862.27 L621.9,1862.62 L623.8,1862.95 L625.8,1863.27 L627.7,1863.58 L629.7,1863.89 L631.7,1864.18 L633.6,1864.46 L635.6,1864.74 L637.6,1865.00 L639.5,1865.26 L641.5,1865.51 L643.5,1865.75 L645.5,1865.98 L647.4,1866.21 L649.4,1866.42 L651.4,1866.63 L653.4,1866.83 L655.4,1867.02 L657.4,1867.20 L659.3,1867.38 L661.3,1867.54 L663.3,1867.71 L665.3,1867.86 L667.3,1868.01 L669.3,1868.15 L671.3,1868.29 L673.3,1868.42 L675.3,1868.54 L677.3,1868.66 L679.3,1868.77 L681.3,1868.88 L683.3,1868.99 L685.3,1869.09 L687.2,1869.18 L689.2,1869.28 L691.2,1869.37 L693.2,1869.45 L695.2,1869.54 L697.2,1869.62 L699.2,1869.70 L701.2,1869.78 L703.2,1869.85 L705.2,1869.93 L707.2,1870.00 L709.2,1870.07 L711.2,1870.15 L713.2,1870.22 L715.2,1870.29 L717.2,1870.36 L719.2,1870.43 L721.2,1870.50 L723.2,1870.58 L725.2,1870.65 L727.2,1870.72 L729.2,1870.79 L731.2,1870.86 L733.2,1870.93 L735.2,1871.00 L737.2,1871.06 L739.2,1871.13 L741.2,1871.20 L743.2,1871.27 L745.2,1871.34 L747.2,1871.40 L749.2,1871.47 L751.2,1871.54 L753.2,1871.60 L755.2,1871.67 L757.2,1871.73 L759.2,1871.80 L761.2,1871.86 L763.2,1871.93 L765.2,1871.99 L767.2,1872.05 L769.2,1872.12 L771.2,1872.18 L773.2,1872.24 L775.2,1872.30 L777.2,1872.37 L779.2,1872.43 L781.2,1872.49 L783.2,1872.55 L785.2,1872.61 L787.2,1872.67 L789.2,1872.73 L791.2,1872.79 L793.2,1872.84 L795.2,1872.90 L797.2,1872.96 L799.2,1873.02 L801.2,1873.07 L803.2,1873.13 L805.2,1873.19 L807.2,1873.24 L809.2,1873.30 L811.2,1873.35 L813.2,1873.41 L815.2,1873.46 L817.2,1873.52 L819.2,1873.57 L821.2,1873.62 L823.2,1873.67 L825.2,1873.73 L827.2,1873.78 L829.2,1873.83 L831.2,1873.88 L833.2,1873.93 L835.2,1873.98 L837.2,1874.03 L839.2,1874.08 L841.2,1874.13 L843.2,1874.18 L845.2,1874.22 L847.2,1874.27 L849.2,1874.32 L851.2,1874.37 L853.2,1874.41 L855.2,1874.46 L857.2,1874.51 L859.2,1874.55 L861.2,1874.60 L863.2,1874.64 L865.2,1874.69 L867.1,1874.73 L869.1,1874.78 L871.1,1874.82 L873.1,1874.87 L875.1,1874.91 L877.1,1874.96 L879.1,1875.00 L881.1,1875.04 L883.1,1875.09 L885.1,1875.13 L887.1,1875.17 L889.1,1875.22 L891.1,1875.26 L893.1,1875.31 L895.1,1875.35 L897.1,1875.39 L899.1,1875.44 L901.1,1875.48 L903.1,1875.52 L905.1,1875.57 L907.1,1875.61 L909.1,1875.65 L911.1,1875.70 L913.1,1875.74 L915.1,1875.78 L917.1,1875.83 L919.1,1875.87 L921.1,1875.92 L923.1,1875.96 L925.1,1876.00 L927.1,1876.05 L929.1,1876.09 L931.1,1876.13 L933.1,1876.18 L935.1,1876.22 L937.1,1876.26 L939.1,1876.31 L941.1,1876.35 L943.1,1876.39 L945.1,1876.43 L947.1,1876.48 L949.1,1876.52 L951.1,1876.56 L953.1,1876.60 L955.1,1876.64 L957.1,1876.69 L959.1,1876.73 L961.1,1876.77 L963.1,1876.81 L965.1,1876.85 L967.1,1876.90 L969.1,1876.94 L971.1,1876.98 L973.1,1877.02 L975.1,1877.06 L977.1,1877.11 L979.1,1877.15 L981.1,1877.19 L983.1,1877.23 L985.1,1877.27 L987.1,1877.32 L989.1,1877.36 L991.1,1877.40 L993.1,1877.44 L995.1,1877.49 L997.1,1877.53 L999.1,1877.57 L1001.1,1877.61 L1003.1,1877.66 L1005.1,1877.70 L1007.1,1877.74 L1009.1,1877.79 L1011.1,1877.83 L1013.1,1877.87 L1015.1,1877.92 L1017.1,1877.96 L1019.1,1878.01 L1021.1,1878.05 L1023.1,1878.10 L1025.1,1878.14 L1027.1,1878.19 L1029.1,1878.23 L1031.1,1878.28 L1033.1,1878.32 L1035.1,1878.37 L1037.1,1878.42 L1039.1,1878.46 L1041.1,1878.51 L1043.1,1878.55 L1045.1,1878.60 L1047.1,1878.65 L1049.1,1878.69 L1051.1,1878.74 L1053.1,1878.79 L1055.1,1878.83 L1057.1,1878.88 L1059.1,1878.93 L1061.1,1878.98 L1063.1,1879.02 L1065.1,1879.07 L1067.1,1879.12 L1069.1,1879.17 L1071.1,1879.21 L1073.1,1879.26 L1075.1,1879.31 L1077.1,1879.36 L1079.1,1879.40 L1081.1,1879.45 L1083.1,1879.50 L1085.1,1879.55 L1087.1,1879.60 L1089.1,1879.64 L1091.1,1879.69 L1093.1,1879.74 L1095.1,1879.79 L1097.1,1879.84 L1099.1,1879.88 L1101.1,1879.93 L1103.1,1879.98 L1105.1,1880.03 L1107.1,1880.08 L1109.1,1880.12 L1111.1,1880.17 L1113.1,1880.22 L1115.1,1880.27 L1117.1,1880.32 L1119.1,1880.36 L1121.1,1880.41 L1123.1,1880.46 L1125.1,1880.51 L1127.1,1880.55 L1129.1,1880.60 L1131.1,1880.65 L1133.1,1880.70 L1135.1,1880.75 L1137.1,1880.79 L1139.1,1880.84 L1141.1,1880.89 L1143.1,1880.94 L1145.1,1880.99 L1147.1,1881.03 L1149.1,1881.08 L1151.1,1881.13 L1153.1,1881.18 L1155.1,1881.23 L1157.1,1881.27 L1159.1,1881.32 L1161.1,1881.37 L1163.1,1881.42 L1165.1,1881.47 L1167.1,1881.52 L1169.1,1881.56 L1171.1,1881.61 L1173.1,1881.66 L1175.1,1881.71 L1177.1,1881.76 L1179.1,1881.81 L1181.1,1881.85 L1183.1,1881.90 L1185.1,1881.95 L1187.1,1882.00 L1189.1,1882.05 L1191.1,1882.10 L1193.1,1882.15 L1195.1,1882.19 L1197.1,1882.24 L1199.1,1882.29 L1201.1,1882.34 L1203.1,1882.39 L1205.1,1882.44 L1207.1,1882.49 L1209.1,1882.53 L1211.1,1882.58 L1213.1,1882.63 L1215.1,1882.68 L1217.1,1882.73 L1219.1,1882.78 L1221.1,1882.83 L1223.1,1882.87 L1225.1,1882.92 L1227.1,1882.97 L1229.1,1883.02 L1231.1,1883.07 L1233.1,1883.12 L1235.1,1883.16 L1237.1,1883.21 L1239.1,1883.26 L1241.1,1883.31 L1243.1,1883.36 L1245.1,1883.41 L1247.1,1883.45 L1249.1,1883.50 L1251.1,1883.55 L1253.1,1883.60 L1255.1,1883.65 L1257.1,1883.70 L1259.1,1883.74 L1261.1,1883.79 L1263.1,1883.84 L1265.1,1883.89 L1267.1,1883.94 L1269.1,1883.98 L1271.1,1884.03 L1273.1,1884.08 L1275.1,1884.13 L1277.1,1884.18 L1279.1,1884.22 L1281.1,1884.27 L1283.1,1884.32 L1285.1,1884.37 L1287.1,1884.42 L1289.1,1884.46 L1291.1,1884.51 L1293.1,1884.56 L1295.1,1884.61 L1297.1,1884.65 L1299.1,1884.70 L1301.1,1884.75 L1303.1,1884.80 L1305.1,1884.84 L1307.1,1884.89 L1309.1,1884.94 L1311.1,1884.99 L1313.1,1885.03 L1315.1,1885.08 L1317.1,1885.13 L1319.1,1885.17 L1321.1,1885.22 L1323.1,1885.27 L1325.1,1885.31 L1327.1,1885.36 L1329.1,1885.41 L1331.1,1885.46 L1333.1,1885.50 L1335.1,1885.55 L1337.1,1885.60 L1339.1,1885.64 L1341.1,1885.69 L1343.1,1885.74 L1345.1,1885.78 L1347.1,1885.83 L1349.1,1885.88 L1351.1,1885.92 L1353.1,1885.97 L1355.1,1886.02 L1357.1,1886.07 L1359.1,1886.11 L1361.1,1886.16 L1363.1,1886.21 L1365.1,1886.25 L1367.1,1886.30 L1369.1,1886.35 L1371.1,1886.39 L1373.1,1886.44 L1375.1,1886.49 L1377.1,1886.53 L1379.1,1886.58 L1381.1,1886.63 L1383.1,1886.67 L1385.1,1886.72 L1387.1,1886.77 L1389.1,1886.81 L1391.1,1886.86 L1393.1,1886.91 L1395.1,1886.95 L1397.1,1887.00 L1399.1,1887.05 L1401.1,1887.09 L1403.1,1887.14 L1405.1,1887.19 L1407.1,1887.23 L1409.1,1887.28 L1411.1,1887.33 L1413.1,1887.37 L1415.1,1887.42 L1417.1,1887.46 L1419.1,1887.51 L1421.1,1887.56 L1423.1,1887.60 L1425.1,1887.65 L1427.0,1887.70 L1429.0,1887.74 L1431.0,1887.79 L1433.0,1887.83 L1435.0,1887.88 L1437.0,1887.92 L1439.0,1887.97 L1441.0,1888.02 L1443.0,1888.06 L1445.0,1888.11 L1447.0,1888.15 L1449.0,1888.20 L1451.0,1888.24 L1453.0,1888.29 L1455.0,1888.33 L1457.0,1888.38 L1459.0,1888.43 L1461.0,1888.47 L1463.0,1888.52 L1465.0,1888.56 L1467.0,1888.61 L1469.0,1888.65 L1471.0,1888.70 L1473.0,1888.74 L1475.0,1888.78 L1477.0,1888.83 L1479.0,1888.87 L1481.0,1888.92 L1483.0,1888.96 L1485.0,1889.01 L1487.0,1889.05 L1489.0,1889.10 L1491.0,1889.14 L1493.0,1889.18 L1495.0,1889.23 L1497.0,1889.27 L1499.0,1889.31 L1501.0,1889.36 L1503.0,1889.40 L1505.0,1889.45 L1507.0,1889.49 L1509.0,1889.53 L1511.0,1889.58 L1513.0,1889.62 L1515.0,1889.66 L1517.0,1889.71 L1519.0,1889.75 L1521.0,1889.79 L1523.0,1889.83 L1525.0,1889.88 L1527.0,1889.92 L1529.0,1889.96 L1531.0,1890.00 L1533.0,1890.05 L1535.0,1890.09 L1537.0,1890.13 L1539.0,1890.17 L1541.0,1890.21 L1543.0,1890.26 L1545.0,1890.30 L1547.0,1890.34 L1549.0,1890.38 L1551.0,1890.42 L1553.0,1890.46 L1555.0,1890.50 L1557.0,1890.55 L1559.0,1890.59 L1561.0,1890.63 L1563.0,1890.67 L1565.0,1890.71 L1567.0,1890.75 L1569.0,1890.79 L1571.0,1890.83 L1573.0,1890.87 L1575.0,1890.91 L1577.0,1890.95 L1579.0,1890.99 L1581.0,1891.03 L1583.0,1891.07 L1585.0,1891.11 L1587.0,1891.15 L1589.0,1891.19 L1591.0,1891.23 L1593.0,1891.27 L1595.0,1891.31 L1597.0,1891.35 L1599.0,1891.39 L1601.0,1891.43 L1603.0,1891.47 L1605.0,1891.51 L1607.0,1891.55 L1609.0,1891.59 L1611.0,1891.63 L1613.0,1891.67 L1615.0,1891.71 L1617.0,1891.75 L1619.0,1891.79 L1621.0,1891.83 L1623.0,1891.87 L1625.0,1891.91 L1627.0,1891.95 L1629.0,1891.99 L1631.0,1892.03 L1633.0,1892.07 L1635.0,1892.11 L1637.0,1892.15 L1639.0,1892.18 L1641.0,1892.22 L1643.0,1892.26 L1645.0,1892.30 L1647.0,1892.34 L1649.0,1892.38 L1651.0,1892.42 L1653.0,1892.46 L1655.0,1892.50 L1657.0,1892.54 L1659.0,1892.58 L1661.0,1892.62 L1663.0,1892.66 L1665.0,1892.69 L1667.0,1892.73 L1669.0,1892.77 L1671.0,1892.81 L1673.0,1892.85 L1675.0,1892.89 L1677.0,1892.93 L1679.0,1892.97 L1681.0,1893.01 L1683.0,1893.05 L1685.0,1893.09 L1687.0,1893.13 L1689.0,1893.17 L1691.0,1893.21 L1693.0,1893.25 L1695.0,1893.29 L1697.0,1893.32 L1699.0,1893.36 L1701.0,1893.40 L1703.0,1893.44 L1705.0,1893.48 L1707.0,1893.52 L1709.0,1893.56 L1711.0,1893.60 L1713.0,1893.64 L1715.0,1893.68 L1717.0,1893.72 L1719.0,1893.76 L1721.0,1893.80 L1723.0,1893.84 L1725.0,1893.88 L1727.0,1893.92 L1729.0,1893.96 L1731.0,1894.00 L1733.0,1894.04 L1735.0,1894.08 L1737.0,1894.13 L1739.0,1894.17 L1741.0,1894.21 L1743.0,1894.25 L1745.0,1894.29 L1747.0,1894.33 L1749.0,1894.37 L1751.0,1894.41 L1753.0,1894.45 L1755.0,1894.49 L1757.0,1894.53 L1759.0,1894.57 L1761.0,1894.62 L1763.0,1894.66 L1765.0,1894.70 L1767.0,1894.74 L1769.0,1894.78 L1771.0,1894.82 L1773.0,1894.86 L1775.0,1894.90 L1777.0,1894.94 L1779.0,1894.98 L1781.0,1895.03 L1783.0,1895.07 L1785.0,1895.11 L1787.0,1895.15 L1789.0,1895.19 L1791.0,1895.23 L1793.0,1895.27 L1795.0,1895.31 L1797.0,1895.35 L1799.0,1895.40 L1801.0,1895.44 L1803.0,1895.48 L1805.0,1895.52 L1807.0,1895.56 L1809.0,1895.60 L1811.0,1895.64 L1813.0,1895.68 L1815.0,1895.73 L1817.0,1895.77 L1819.0,1895.81 L1821.0,1895.85 L1823.0,1895.89 L1825.0,1895.93 L1827.0,1895.97 L1829.0,1896.01 L1831.0,1896.06 L1833.0,1896.10 L1835.0,1896.14 L1837.0,1896.18 L1839.0,1896.22 L1841.0,1896.26 L1843.0,1896.30 L1845.0,1896.35 L1847.0,1896.39 L1849.0,1896.43 L1851.0,1896.47 L1853.0,1896.51 L1855.0,1896.55 L1857.0,1896.60 L1859.0,1896.64 L1861.0,1896.68 L1863.0,1896.72 L1865.0,1896.76 L1867.0,1896.80 L1869.0,1896.85 L1871.0,1896.89 L1873.0,1896.93 L1875.0,1896.97 L1877.0,1897.01 L1879.0,1897.05 L1881.0,1897.10 L1883.0,1897.14 L1885.0,1897.18 L1887.0,1897.22 L1889.0,1897.26 L1891.0,1897.30 L1893.0,1897.35 L1895.0,1897.39 L1897.0,1897.43 L1899.0,1897.47 L1901.0,1897.51 L1903.0,1897.55 L1905.0,1897.60 L1907.0,1897.64 L1909.0,1897.68 L1911.0,1897.72 L1913.0,1897.76 L1915.0,1897.81 L1917.0,1897.85 L1919.0,1897.89 L1921.0,1897.93 L1923.0,1897.97 L1925.0,1898.02 L1927.0,1898.06 L1929.0,1898.10 L1931.0,1898.14 L1933.0,1898.18 L1935.0,1898.23 L1937.0,1898.27 L1939.0,1898.31 L1941.0,1898.35 L1943.0,1898.39 L1945.0,1898.44 L1947.0,1898.48 L1949.0,1898.52 L1951.0,1898.56 L1953.0,1898.60 L1955.0,1898.65 L1957.0,1898.69 L1959.0,1898.73 L1961.0,1898.77 L1963.0,1898.82 L1965.0,1898.86 L1967.0,1898.90 L1969.0,1898.94 L1971.0,1898.98 L1973.0,1899.03 L1975.0,1899.07 L1977.0,1899.11 L1979.0,1899.15"/>
<path stroke="#000000" d="M149.0,2134.62 L150.9,2134.22 L152.9,2133.83 L154.8,2133.43 L156.7,2133.01 L158.7,2132.59 L160.6,2132.15 L162.5,2131.69 L164.4,2131.22 L166.3,2130.73 L168.2,2130.23 L170.1,2129.71 L171.9,2129.18 L173.8,2128.63 L175.7,2128.06 L177.5,2127.48 L179.4,2126.88 L181.2,2126.27 L183.0,2125.63 L184.8,2124.97 L186.6,2124.30 L188.4,2123.60 L190.2,2122.89 L192.0,2122.15 L193.7,2121.40 L195.4,2120.63 L197.2,2119.85 L198.9,2119.05 L200.6,2118.23 L202.3,2117.39 L203.9,2116.54 L205.6,2115.68 L207.2,2114.79 L208.8,2113.90 L210.5,2112.99 L212.1,2112.06 L213.6,2111.12 L215.2,2110.16 L216.8,2109.19 L218.3,2108.20 L219.8,2107.19 L221.3,2106.17 L222.8,2105.14 L224.3,2104.08 L225.7,2103.01 L227.1,2101.93 L228.5,2100.82 L229.9,2099.71 L231.2,2098.57 L232.6,2097.43 L233.9,2096.27 L235.2,2095.10 L236.5,2093.91 L237.7,2092.72 L239.0,2091.51 L240.2,2090.29 L241.4,2089.07 L242.6,2087.84 L243.8,2086.60 L245.0,2085.35 L246.1,2084.09 L247.3,2082.82 L248.4,2081.55 L249.5,2080.27 L250.6,2078.98 L251.7,2077.69 L252.8,2076.39 L253.8,2075.08 L254.9,2073.76 L255.9,2072.44 L256.9,2071.11 L257.9,2069.78 L258.9,2068.44 L259.9,2067.09 L260.8,2065.74 L261.8,2064.39 L262.7,2063.03 L263.7,2061.67 L264.6,2060.31 L265.5,2058.94 L266.4,2057.57 L267.3,2056.19 L268.2,2054.81 L269.1,2053.43 L270.0,2052.05 L270.9,2050.66 L271.7,2049.27 L272.6,2047.88 L273.4,2046.49 L274.3,2045.09 L275.1,2043.69 L275.9,2042.28 L276.7,2040.87 L277.5,2039.46 L278.3,2038.04 L279.1,2036.62 L279.8,2035.20 L280.6,2033.77 L281.3,2032.34 L282.1,2030.91 L282.8,2029.47 L283.5,2028.03 L284.2,2026.58 L284.9,2025.14 L285.5,2023.68 L286.2,2022.23 L286.8,2020.77 L287.5,2019.31 L288.1,2017.85 L288.7,2016.39 L289.3,2014.92 L289.9,2013.45 L290.5,2011.98 L291.1,2010.51 L291.7,2009.03 L292.3,2007.56 L292.8,2006.08 L293.4,2004.60 L293.9,2003.13 L294.5,2001.65 L295.0,2000.16 L295.6,1998.68 L296.1,1997.20 L296.6,1995.71 L297.2,1994.22 L297.7,1992.73 L298.2,1991.24 L298.7,1989.75 L299.2,1988.26 L299.7,1986.77 L300.2,1985.28 L300.7,1983.78 L301.1,1982.29 L301.6,1980.80 L302.1,1979.31 L302.6,1977.81 L303.1,1976.32 L303.6,1974.83 L304.1,1973.33 L304.6,1971.84 L305.1,1970.35 L305.6,1968.86 L306.1,1967.36 L306.6,1965.87 L307.0,1964.38 L307.5,1962.88 L308.0,1961.39 L308.5,1959.90 L309.0,1958.40 L309.5,1956.91 L310.0,1955.41 L310.4,1953.92 L310.9,1952.42 L311.4,1950.93 L311.9,1949.43 L312.3,1947.93 L312.8,1946.44 L313.3,1944.94 L313.7,1943.44 L314.2,1941.94 L314.6,1940.44 L315.1,1938.94 L315.5,1937.44 L316.0,1935.94 L316.4,1934.44 L316.9,1932.93 L317.3,1931.43 L317.7,1929.93 L318.2,1928.42 L318.6,1926.92 L319.0,1925.41 L319.4,1923.90 L319.8,1922.39 L320.2,1920.89 L320.6,1919.38 L321.0,1917.87 L321.4,1916.35 L321.8,1914.84 L322.1,1913.33 L322.5,1911.82 L322.9,1910.30 L323.2,1908.79 L323.6,1907.27 L323.9,1905.75 L324.3,1904.24 L324.6,1902.72 L324.9,1901.20 L325.3,1899.68 L325.6,1898.16 L325.9,1896.64 L326.2,1895.12 L326.6,1893.60 L326.9,1892.08 L327.2,1890.56 L327.5,1889.04 L327.8,1887.52 L328.1,1886.00 L328.4,1884.47 L328.7,1882.95 L329.0,1881.43 L329.3,1879.91 L329.6,1878.38 L329.9,1876.86 L330.2,1875.34 L330.5,1873.81 L330.8,1872.29 L331.0,1870.76 L331.3,1869.24 L331.6,1867.71 L331.9,1866.19 L332.1,1864.66 L332.4,1863.14 L332.7,1861.61 L333.0,1860.08 L333.2,1858.56 L333.5,1857.03 L333.8,1855.51 L334.0,1853.98 L334.3,1852.45 L334.5,1850.93 L334.8,1849.40 L335.1,1847.87 L335.3,1846.35 L335.6,1844.82 L335.8,1843.29 L336.1,1841.76 L336.3,1840.24 L336.6,1838.71 L336.9,1837.18 L337.1,1835.65 L337.4,1834.12 L337.6,1832.60 L337.9,1831.07 L338.1,1829.54 L338.4,1828.01 L338.6,1826.49 L338.8,1824.96 L339.1,1823.43 L339.3,1821.90 L339.6,1820.37 L339.8,1818.84 L340.1,1817.32 L340.3,1815.79 L340.6,1814.26 L340.8,1812.73 L341.1,1811.20 L341.3,1809.68 L341.6,1808.15 L341.8,1806.62 L342.1,1805.09 L342.3,1803.57 L342.6,1802.04 L342.8,1800.51 L343.1,1798.98 L343.3,1797.45 L343.6,1795.93 L343.9,1794.40 L344.1,1792.87 L344.4,1791.35 L344.6,1789.82 L344.9,1788.29 L345.1,1786.76 L345.4,1785.24 L345.6,1783.71 L345.9,1782.18 L346.2,1780.65 L346.4,1779.13 L346.7,1777.60 L346.9,1776.07 L347.2,1774.55 L347.5,1773.02 L347.7,1771.49 L348.0,1769.96 L348.2,1768.44 L348.5,1766.91 L348.7,1765.38 L349.0,1763.86 L349.2,1762.33 L349.5,1760.80 L349.8,1759.27 L350.0,1757.75 L350.3,1756.22 L350.5,1754.69 L350.8,1753.16 L351.0,1751.64 L351.3,1750.11 L351.5,1748.58 L351.8,1747.05 L352.0,1745.53 L352.3,1744.00 L352.5,1742.47 L352.8,1740.94 L353.0,1739.41 L353.3,1737.89 L353.5,1736.36 L353.8,1734.83 L354.0,1733.30 L354.3,1731.77 L354.5,1730.25 L354.8,1728.72 L355.0,1727.19 L355.3,1725.66 L355.5,1724.13 L355.7,1722.60 L356.0,1721.07 L356.2,1719.55 L356.5,1718.02 L356.7,1716.49 L356.9,1714.96 L357.2,1713.43 L357.4,1711.90 L357.6,1710.37 L357.9,1708.84 L358.1,1707.31 L358.3,1705.78 L358.6,1704.25 L358.8,1702.72 L359.0,1701.19 L359.3,1699.66 L359.5,1698.13 L359.7,1696.60 L359.9,1695.07 L360.2,1693.54 L360.4,1692.01 L360.6,1690.48 L360.8,1688.95 L361.0,1687.42 L361.3,1685.89 L361.5,1684.36 L361.7,1682.83 L361.9,1681.29 L362.1,1679.76 L362.3,1678.23 L362.5,1676.70 L362.7,1675.17 L362.9,1673.64 L363.1,1672.10 L363.3,1670.57 L363.5,1669.04 L363.7,1667.51 L363.9,1665.98 L364.1,1664.44 L364.3,1662.91 L364.5,1661.38 L364.7,1659.84 L364.9,1658.31 L365.1,1656.78 L365.3,1655.25 L365.5,1653.71 L365.7,1652.18 L365.8,1650.65 L366.0,1649.11 L366.2,1647.58 L366.4,1646.05 L366.6,1644.51 L366.8,1642.98 L366.9,1641.45 L367.1,1639.91 L367.3,1638.38 L367.5,1636.84 L367.7,1635.31 L367.8,1633.78 L368.0,1632.24 L368.2,1630.71 L368.4,1629.17 L368.5,1627.64 L368.7,1626.11 L368.9,1624.57 L369.1,1623.04 L369.2,1621.50 L369.4,1619.97 L369.6,1618.44 L369.8,1616.90 L369.9,1615.37 L370.1,1613.83 L370.3,1612.30 L370.4,1610.77 L370.6,1609.23 L370.8,1607.70 L371.0,1606.16 L371.1,1604.63 L371.3,1603.09 L371.5,1601.56 L371.6,1600.02 L371.8,1598.49 L372.0,1596.95 L372.1,1595.42 L372.3,1593.89 L372.5,1592.35 L372.6,1590.82 L372.8,1589.28 L373.0,1587.75 L373.1,1586.21 L373.3,1584.68 L373.4,1583.14 L373.6,1581.61 L373.8,1580.07 L373.9,1578.54 L374.1,1577.00 L374.2,1575.47 L374.4,1573.93 L374.6,1572.40 L374.7,1570.86 L374.9,1569.33 L375.0,1567.79 L375.2,1566.26 L375.4,1564.72 L375.5,1563.19 L375.7,1561.65 L375.8,1560.12 L376.0,1558.58 L376.2,1557.05 L376.3,1555.51 L376.5,1553.98 L376.6,1552.44 L376.8,1550.91 L376.9,1549.37 L377.1,1547.84 L377.3,1546.30 L377.4,1544.76 L377.6,1543.23 L377.7,1541.69 L377.9,1540.16 L378.0,1538.62 L378.2,1537.09 L378.3,1535.55 L378.5,1534.02 L378.6,1532.48 L378.8,1530.95 L378.9,1529.41 L379.1,1527.87 L379.2,1526.34 L379.4,1524.80 L379.5,1523.27 L379.7,1521.73 L379.9,1520.20 L380.0,1518.66 L380.2,1517.13 L380.3,1515.59 L380.5,1514.06 L380.6,1512.52 L380.8,1510.99 L380.9,1509.45 L381.1,1507.91 L381.2,1506.38 L381.4,1504.84 L381.6,1503.31 L381.7,1501.77 L381.9,1500.24 L382.0,1498.70 L382.2,1497.17 L382.4,1495.63 L382.5,1494.10 L382.7,1492.56 L382.8,1491.03 L383.0,1489.49 L383.2,1487.96 L383.3,1486.42 L383.5,1484.89 L383.6,1483.35 L383.8,1481.82 L384.0,1480.28 L384.1,1478.75 L384.3,1477.21 L384.5,1475.68 L384.6,1474.14 L384.8,1472.61 L384.9,1471.08 L385.1,1469.54 L385.3,1468.01 L385.4,1466.47 L385.6,1464.94 L385.7,1463.40 L385.9,1461.86 L386.1,1460.33 L386.2,1458.79 L386.4,1457.26 L386.5,1455.72 L386.7,1454.19 L386.8,1452.65 L387.0,1451.12 L387.1,1449.58 L387.3,1448.05 L387.4,1446.51 L387.6,1444.97 L387.7,1443.44 L387.9,1441.90 L388.0,1440.37 L388.1,1438.83 L388.3,1437.29 L388.4,1435.76 L388.6,1434.22 L388.7,1432.68 L388.8,1431.15 L389.0,1429.61 L389.1,1428.08 L389.2,1426.54 L389.4,1425.00 L389.5,1423.47 L389.6,1421.93 L389.8,1420.39 L389.9,1418.86 L390.0,1417.32 L390.2,1415.78 L390.3,1414.25 L390.4,1412.71 L390.5,1411.17 L390.7,1409.64 L390.8,1408.10 L390.9,1406.56 L391.1,1405.03 L391.2,1403.49 L391.3,1401.95 L391.5,1400.42 L391.6,1398.88 L391.8,1397.34 L391.9,1395.81 L392.0,1394.27 L392.2,1392.74 L392.3,1391.20 L392.5,1389.66 L392.6,1388.13 L392.7,1386.59 L392.9,1385.06 L393.0,1383.52 L393.2,1381.98 L393.3,1380.45 L393.5,1378.91 L393.6,1377.38 L393.8,1375.84 L394.0,1374.31 L394.1,1372.77 L394.3,1371.24 L394.4,1369.70 L394.6,1368.17 L394.8,1366.64 L395.0,1365.10 L395.2,1363.57 L395.4,1362.04 L395.5,1360.50 L395.7,1358.97 L395.9,1357.44 L396.1,1355.91 L396.4,1354.37 L396.6,1352.84 L396.8,1351.31 L397.0,1349.78 L397.2,1348.25 L397.4,1346.72 L397.6,1345.18 L397.8,1343.65 L398.0,1342.12 L398.2,1340.59 L398.4,1339.06 L398.6,1337.52 L398.8,1335.99 L399.0,1334.46 L399.1,1332.92 L399.3,1331.39 L399.4,1329.85 L399.6,1328.31 L399.7,1326.78 L399.8,1325.24 L400.0,1323.71 L400.2,1322.17 L400.3,1320.64 L400.5,1319.10 L400.8,1317.57 L401.0,1316.05 L401.3,1314.52 L401.7,1313.01 L402.3,1311.54 L403.0,1310.11 L404.0,1308.77 L405.0,1310.11 L405.5,1311.60 L405.8,1313.11 L406.1,1314.64 L406.4,1316.17 L406.6,1317.69 L406.8,1319.23 L407.0,1320.76 L407.2,1322.29 L407.4,1323.83 L407.5,1325.36 L407.7,1326.89 L407.8,1328.43 L408.0,1329.96 L408.2,1331.50 L408.3,1333.03 L408.5,1334.56 L408.7,1336.10 L408.9,1337.63 L409.1,1339.16 L409.4,1340.69 L409.6,1342.22 L409.8,1343.75 L410.0,1345.28 L410.3,1346.81 L410.5,1348.34 L410.7,1349.87 L411.0,1351.40 L411.2,1352.93 L411.4,1354.45 L411.7,1355.98 L411.9,1357.51 L412.1,1359.04 L412.4,1360.57 L412.6,1362.10 L412.8,1363.63 L413.1,1365.16 L413.3,1366.69 L413.5,1368.22 L413.7,1369.75 L413.9,1371.28 L414.1,1372.81 L414.4,1374.34 L414.6,1375.88 L414.8,1377.41 L415.0,1378.94 L415.2,1380.47 L415.4,1382.00 L415.6,1383.53 L415.8,1385.07 L416.0,1386.60 L416.2,1388.13 L416.4,1389.66 L416.6,1391.20 L416.8,1392.73 L416.9,1394.26 L417.1,1395.79 L417.3,1397.33 L417.5,1398.86 L417.7,1400.39 L417.9,1401.92 L418.1,1403.46 L418.3,1404.99 L418.5,1406.52 L418.7,1408.05 L418.9,1409.59 L419.0,1411.12 L419.2,1412.65 L419.4,1414.18 L419.6,1415.72 L419.8,1417.25 L420.0,1418.78 L420.2,1420.31 L420.4,1421.85 L420.6,1423.38 L420.8,1424.91 L421.0,1426.44 L421.2,1427.98 L421.4,1429.51 L421.6,1431.04 L421.8,1432.57 L422.0,1434.10 L422.2,1435.63 L422.4,1437.17 L422.6,1438.70 L422.8,1440.23 L423.0,1441.76 L423.2,1443.29 L423.5,1444.82 L423.7,1446.35 L423.9,1447.88 L424.1,1449.41 L424.4,1450.94 L424.6,1452.47 L424.8,1454.00 L425.0,1455.53 L425.3,1457.06 L425.5,1458.59 L425.8,1460.12 L426.0,1461.64 L426.2,1463.17 L426.5,1464.70 L426.7,1466.23 L427.0,1467.76 L427.2,1469.28 L427.5,1470.81 L427.7,1472.34 L428.0,1473.86 L428.3,1475.39 L428.5,1476.92 L428.8,1478.45 L429.0,1479.97 L429.3,1481.50 L429.5,1483.03 L429.8,1484.55 L430.1,1486.08 L430.3,1487.61 L430.6,1489.13 L430.9,1490.66 L431.1,1492.18 L431.4,1493.71 L431.6,1495.24 L431.9,1496.76 L432.2,1498.29 L432.4,1499.82 L432.7,1501.34 L432.9,1502.87 L433.2,1504.40 L433.4,1505.93 L433.7,1507.45 L433.9,1508.98 L434.2,1510.51 L434.4,1512.03 L434.7,1513.56 L434.9,1515.09 L435.2,1516.62 L435.4,1518.15 L435.7,1519.67 L435.9,1521.20 L436.2,1522.73 L436.4,1524.26 L436.7,1525.78 L436.9,1527.31 L437.2,1528.84 L437.4,1530.37 L437.7,1531.90 L437.9,1533.42 L438.2,1534.95 L438.4,1536.48 L438.7,1538.00 L439.0,1539.53 L439.2,1541.06 L439.5,1542.58 L439.8,1544.11 L440.0,1545.63 L440.3,1547.16 L440.6,1548.69 L440.9,1550.21 L441.1,1551.73 L441.4,1553.26 L441.7,1554.78 L442.0,1556.31 L442.3,1557.83 L442.6,1559.35 L442.9,1560.87 L443.2,1562.39 L443.5,1563.92 L443.8,1565.44 L444.1,1566.96 L444.5,1568.48 L444.8,1570.00 L445.1,1571.51 L445.4,1573.03 L445.8,1574.55 L446.1,1576.07 L446.5,1577.59 L446.8,1579.10 L447.1,1580.62 L447.5,1582.13 L447.8,1583.65 L448.2,1585.17 L448.6,1586.68 L448.9,1588.19 L449.3,1589.71 L449.7,1591.22 L450.0,1592.73 L450.4,1594.25 L450.8,1595.76 L451.2,1597.27 L451.6,1598.78 L452.0,1600.29 L452.3,1601.80 L452.7,1603.31 L453.1,1604.82 L453.5,1606.32 L453.9,1607.83 L454.4,1609.34 L454.8,1610.85 L455.2,1612.35 L455.6,1613.86 L456.0,1615.36 L456.5,1616.87 L456.9,1618.37 L457.3,1619.87 L457.8,1621.37 L458.2,1622.87 L458.7,1624.37 L459.2,1625.86 L459.7,1627.36 L460.1,1628.85 L460.6,1630.34 L461.1,1631.83 L461.6,1633.32 L462.2,1634.81 L462.7,1636.30 L463.2,1637.79 L463.7,1639.28 L464.2,1640.76 L464.7,1642.25 L465.3,1643.74 L465.8,1645.23 L466.3,1646.72 L466.8,1648.21 L467.3,1649.70 L467.8,1651.19 L468.3,1652.68 L468.8,1654.17 L469.2,1655.67 L469.7,1657.16 L470.2,1658.66 L470.6,1660.16 L471.1,1661.66 L471.6,1663.16 L472.0,1664.66 L472.5,1666.16 L472.9,1667.65 L473.4,1669.15 L473.8,1670.65 L474.3,1672.15 L474.8,1673.65 L475.3,1675.14 L475.7,1676.64 L476.2,1678.13 L476.7,1679.62 L477.2,1681.11 L477.8,1682.60 L478.3,1684.08 L478.8,1685.56 L479.4,1687.05 L479.9,1688.53 L480.5,1690.00 L481.1,1691.48 L481.6,1692.95 L482.2,1694.42 L482.8,1695.89 L483.4,1697.36 L484.0,1698.83 L484.6,1700.29 L485.3,1701.76 L485.9,1703.22 L486.5,1704.68 L487.2,1706.13 L487.8,1707.59 L488.5,1709.04 L489.2,1710.50 L489.8,1711.95 L490.5,1713.40 L491.2,1714.84 L491.9,1716.29 L492.6,1717.73 L493.3,1719.17 L494.0,1720.61 L494.7,1722.05 L495.4,1723.48 L496.2,1724.91 L496.9,1726.34 L497.7,1727.76 L498.5,1729.19 L499.2,1730.61 L500.0,1732.03 L500.8,1733.44 L501.6,1734.85 L502.4,1736.26 L503.2,1737.67 L504.1,1739.07 L504.9,1740.46 L505.8,1741.86 L506.6,1743.24 L507.5,1744.63 L508.4,1746.01 L509.3,1747.38 L510.2,1748.76 L511.1,1750.13 L512.0,1751.50 L512.9,1752.86 L513.9,1754.23 L514.8,1755.59 L515.7,1756.95 L516.7,1758.31 L517.6,1759.67 L518.6,1761.02 L519.5,1762.36 L520.5,1763.71 L521.5,1765.04 L522.5,1766.38 L523.5,1767.70 L524.6,1769.02 L525.6,1770.34 L526.7,1771.65 L527.7,1772.95 L528.8,1774.24 L529.9,1775.53 L531.0,1776.81 L532.2,1778.08 L533.3,1779.35 L534.5,1780.60 L535.6,1781.85 L536.8,1783.09 L538.0,1784.32 L539.2,1785.54 L540.5,1786.75 L541.7,1787.96 L543.0,1789.15 L544.3,1790.33 L545.6,1791.50 L546.9,1792.66 L548.2,1793.81 L549.6,1794.94 L550.9,1796.06 L552.3,1797.17 L553.8,1798.26 L555.2,1799.34 L556.6,1800.40 L558.1,1801.45 L559.6,1802.48 L561.1,1803.51 L562.6,1804.52 L564.1,1805.52 L565.6,1806.51 L567.2,1807.49 L568.7,1808.46 L570.3,1809.42 L571.9,1810.36 L573.5,1811.30 L575.1,1812.22 L576.7,1813.13 L578.3,1814.02 L580.0,1814.90 L581.6,1815.76 L583.3,1816.61 L585.0,1817.45 L586.7,1818.27 L588.4,1819.09 L590.1,1819.89 L591.8,1820.67 L593.5,1821.45 L595.3,1822.21 L597.0,1822.96 L598.8,1823.70 L600.5,1824.42 L602.3,1825.13 L604.1,1825.82 L605.9,1826.50 L607.7,1827.17 L609.5,1827.82 L611.3,1828.45 L613.2,1829.08 L615.0,1829.69 L616.8,1830.29 L618.7,1830.87 L620.6,1831.45 L622.4,1832.01 L624.3,1832.56 L626.2,1833.10 L628.0,1833.63 L629.9,1834.15 L631.8,1834.65 L633.7,1835.15 L635.6,1835.63 L637.5,1836.11 L639.4,1836.57 L641.3,1837.03 L643.2,1837.48 L645.2,1837.92 L647.1,1838.35 L649.0,1838.78 L650.9,1839.21 L652.9,1839.63 L654.8,1840.04 L656.7,1840.46 L658.6,1840.86 L660.6,1841.27 L662.5,1841.67 L664.4,1842.07 L666.4,1842.46 L668.3,1842.85 L670.3,1843.23 L672.2,1843.60 L674.1,1843.97 L676.1,1844.33 L678.0,1844.69 L680.0,1845.04 L681.9,1845.39 L683.9,1845.73 L685.8,1846.06 L687.8,1846.40 L689.7,1846.72 L691.7,1847.05 L693.7,1847.37 L695.6,1847.69 L697.6,1848.00 L699.5,1848.30 L701.5,1848.60 L703.5,1848.90 L705.4,1849.18 L707.4,1849.46 L709.4,1849.73 L711.3,1849.99 L713.3,1850.24 L715.3,1850.49 L717.3,1850.72 L719.3,1850.95 L721.2,1851.17 L723.2,1851.38 L725.2,1851.59 L727.2,1851.79 L729.2,1851.99 L731.2,1852.18 L733.1,1852.37 L735.1,1852.56 L737.1,1852.74 L739.1,1852.92 L741.1,1853.10 L743.1,1853.27 L745.1,1853.44 L747.1,1853.61 L749.1,1853.78 L751.0,1853.94 L753.0,1854.11 L755.0,1854.27 L757.0,1854.42 L759.0,1854.58 L761.0,1854.73 L763.0,1854.88 L765.0,1855.03 L767.0,1855.18 L769.0,1855.32 L771.0,1855.47 L773.0,1855.61 L774.9,1855.75 L776.9,1855.89 L778.9,1856.02 L780.9,1856.16 L782.9,1856.29 L784.9,1856.43 L786.9,1856.56 L788.9,1856.69 L790.9,1856.82 L792.9,1856.95 L794.9,1857.08 L796.9,1857.20 L798.9,1857.33 L800.9,1857.46 L802.9,1857.58 L804.9,1857.71 L806.9,1857.83 L808.9,1857.95 L810.8,1858.08 L812.8,1858.20 L814.8,1858.32 L816.8,1858.45 L818.8,1858.57 L820.8,1858.69 L822.8,1858.81 L824.8,1858.94 L826.8,1859.06 L828.8,1859.18 L830.8,1859.30 L832.8,1859.42 L834.8,1859.54 L836.8,1859.66 L838.8,1859.77 L840.8,1859.89 L842.8,1860.01 L844.8,1860.13 L846.8,1860.24 L848.8,1860.36 L850.8,1860.47 L852.8,1860.58 L854.7,1860.70 L856.7,1860.81 L858.7,1860.92 L860.7,1861.03 L862.7,1861.14 L864.7,1861.25 L866.7,1861.36 L868.7,1861.46 L870.7,1861.57 L872.7,1861.68 L874.7,1861.78 L876.7,1861.88 L878.7,1861.99 L880.7,1862.09 L882.7,1862.19 L884.7,1862.29 L886.7,1862.39 L888.7,1862.48 L890.7,1862.58 L892.7,1862.67 L894.7,1862.77 L896.7,1862.86 L898.7,1862.95 L900.7,1863.04 L902.7,1863.13 L904.7,1863.22 L906.7,1863.31 L908.7,1863.39 L910.7,1863.48 L912.7,1863.56 L914.7,1863.64 L916.7,1863.73 L918.7,1863.81 L920.7,1863.88 L922.7,1863.96 L924.7,1864.04 L926.7,1864.11 L928.7,1864.19 L930.7,1864.26 L932.7,1864.33 L934.7,1864.40 L936.7,1864.47 L938.7,1864.54 L940.7,1864.61 L942.7,1864.68 L944.7,1864.74 L946.7,1864.81 L948.7,1864.87 L950.7,1864.94 L952.7,1865.00 L954.7,1865.06 L956.7,1865.13 L958.7,1865.19 L960.7,1865.25 L962.7,1865.31 L964.7,1865.37 L966.7,1865.43 L968.7,1865.49 L970.7,1865.55 L972.7,1865.61 L974.7,1865.66 L976.7,1865.72 L978.7,1865.78 L980.7,1865.84 L982.7,1865.89 L984.7,1865.95 L986.7,1866.01 L988.7,1866.06 L990.7,1866.12 L992.7,1866.17 L994.7,1866.23 L996.7,1866.28 L998.7,1866.34 L1000.7,1866.40 L1002.7,1866.45 L1004.7,1866.51 L1006.7,1866.56 L1008.7,1866.62 L1010.7,1866.67 L1012.7,1866.73 L1014.7,1866.79 L1016.7,1866.84 L1018.7,1866.90 L1020.7,1866.95 L1022.7,1867.01 L1024.7,1867.07 L1026.7,1867.12 L1028.7,1867.18 L1030.7,1867.23 L1032.7,1867.29 L1034.7,1867.35 L1036.7,1867.40 L1038.7,1867.46 L1040.7,1867.51 L1042.7,1867.56 L1044.7,1867.62 L1046.7,1867.67 L1048.7,1867.73 L1050.7,1867.78 L1052.7,1867.83 L1054.7,1867.89 L1056.7,1867.94 L1058.7,1867.99 L1060.7,1868.05 L1062.7,1868.10 L1064.7,1868.15 L1066.7,1868.20 L1068.7,1868.26 L1070.7,1868.31 L1072.7,1868.36 L1074.7,1868.41 L1076.7,1868.47 L1078.7,1868.52 L1080.7,1868.57 L1082.7,1868.62 L1084.7,1868.68 L1086.7,1868.73 L1088.7,1868.78 L1090.7,1868.83 L1092.7,1868.89 L1094.7,1868.94 L1096.7,1868.99 L1098.7,1869.04 L1100.7,1869.10 L1102.7,1869.15 L1104.7,1869.20 L1106.7,1869.26 L1108.7,1869.31 L1110.7,1869.36 L1112.7,1869.42 L1114.7,1869.47 L1116.7,1869.53 L1118.7,1869.58 L1120.7,1869.64 L1122.7,1869.69 L1124.7,1869.75 L1126.7,1869.80 L1128.7,1869.86 L1130.7,1869.91 L1132.7,1869.97 L1134.7,1870.02 L1136.7,1870.08 L1138.7,1870.14 L1140.7,1870.19 L1142.7,1870.25 L1144.7,1870.31 L1146.7,1870.37 L1148.7,1870.42 L1150.7,1870.48 L1152.7,1870.54 L1154.7,1870.60 L1156.7,1870.65 L1158.7,1870.71 L1160.7,1870.77 L1162.7,1870.83 L1164.7,1870.89 L1166.7,1870.95 L1168.7,1871.01 L1170.7,1871.06 L1172.7,1871.12 L1174.7,1871.18 L1176.7,1871.24 L1178.7,1871.30 L1180.7,1871.36 L1182.7,1871.42 L1184.7,1871.48 L1186.7,1871.54 L1188.7,1871.60 L1190.7,1871.66 L1192.7,1871.71 L1194.7,1871.77 L1196.7,1871.83 L1198.7,1871.89 L1200.7,1871.95 L1202.7,1872.01 L1204.7,1872.07 L1206.7,1872.13 L1208.7,1872.19 L1210.7,1872.25 L1212.7,1872.31 L1214.7,1872.37 L1216.7,1872.43 L1218.7,1872.49 L1220.7,1872.54 L1222.7,1872.60 L1224.7,1872.66 L1226.7,1872.72 L1228.7,1872.78 L1230.7,1872.84 L1232.7,1872.90 L1234.7,1872.96 L1236.7,1873.01 L1238.7,1873.07 L1240.7,1873.13 L1242.7,1873.19 L1244.7,1873.25 L1246.7,1873.30 L1248.7,1873.36 L1250.7,1873.42 L1252.7,1873.48 L1254.7,1873.53 L1256.7,1873.59 L1258.7,1873.65 L1260.7,1873.70 L1262.7,1873.76 L1264.7,1873.82 L1266.7,1873.87 L1268.7,1873.93 L1270.7,1873.98 L1272.7,1874.04 L1274.7,1874.09 L1276.7,1874.15 L1278.7,1874.20 L1280.7,1874.26 L1282.7,1874.31 L1284.7,1874.37 L1286.7,1874.42 L1288.7,1874.47 L1290.7,1874.53 L1292.7,1874.58 L1294.7,1874.63 L1296.7,1874.68 L1298.7,1874.74 L1300.7,1874.79 L1302.7,1874.84 L1304.7,1874.89 L1306.7,1874.94 L1308.7,1874.99 L1310.7,1875.04 L1312.7,1875.09 L1314.7,1875.14 L1316.7,1875.19 L1318.7,1875.24 L1320.7,1875.29 L1322.7,1875.33 L1324.7,1875.38 L1326.7,1875.43 L1328.7,1875.48 L1330.7,1875.53 L1332.7,1875.57 L1334.7,1875.62 L1336.7,1875.67 L1338.7,1875.71 L1340.7,1875.76 L1342.7,1875.80 L1344.7,1875.85 L1346.7,1875.90 L1348.7,1875.94 L1350.7,1875.99 L1352.7,1876.03 L1354.7,1876.08 L1356.7,1876.12 L1358.7,1876.16 L1360.7,1876.21 L1362.7,1876.25 L1364.7,1876.30 L1366.7,1876.34 L1368.7,1876.38 L1370.7,1876.43 L1372.7,1876.47 L1374.7,1876.51 L1376.7,1876.56 L1378.7,1876.60 L1380.7,1876.64 L1382.7,1876.68 L1384.7,1876.73 L1386.7,1876.77 L1388.7,1876.81 L1390.7,1876.85 L1392.7,1876.90 L1394.7,1876.94 L1396.7,1876.98 L1398.7,1877.02 L1400.7,1877.06 L1402.7,1877.10 L1404.7,1877.14 L1406.7,1877.19 L1408.7,1877.23 L1410.7,1877.27 L1412.7,1877.31 L1414.7,1877.35 L1416.7,1877.39 L1418.7,1877.43 L1420.7,1877.47 L1422.7,1877.51 L1424.7,1877.55 L1426.7,1877.59 L1428.7,1877.63 L1430.7,1877.67 L1432.7,1877.71 L1434.7,1877.75 L1436.7,1877.79 L1438.8,1877.83 L1440.8,1877.87 L1442.8,1877.91 L1444.8,1877.95 L1446.8,1877.99 L1448.8,1878.03 L1450.8,1878.07 L1452.8,1878.11 L1454.8,1878.15 L1456.8,1878.19 L1458.8,1878.23 L1460.8,1878.27 L1462.8,1878.31 L1464.8,1878.35 L1466.8,1878.39 L1468.8,1878.43 L1470.8,1878.47 L1472.8,1878.51 L1474.8,1878.55 L1476.8,1878.59 L1478.8,1878.63 L1480.8,1878.67 L1482.8,1878.71 L1484.8,1878.75 L1486.8,1878.79 L1488.8,1878.83 L1490.8,1878.87 L1492.8,1878.91 L1494.8,1878.95 L1496.8,1878.99 L1498.8,1879.03 L1500.8,1879.07 L1502.8,1879.11 L1504.8,1879.15 L1506.8,1879.19 L1508.8,1879.23 L1510.8,1879.27 L1512.8,1879.31 L1514.8,1879.36 L1516.8,1879.40 L1518.8,1879.44 L1520.8,1879.48 L1522.8,1879.52 L1524.8,1879.56 L1526.8,1879.60 L1528.8,1879.64 L1530.8,1879.68 L1532.8,1879.72 L1534.8,1879.76 L1536.8,1879.81 L1538.8,1879.85 L1540.8,1879.89 L1542.8,1879.93 L1544.8,1879.97 L1546.8,1880.01 L1548.8,1880.05 L1550.8,1880.09 L1552.8,1880.13 L1554.8,1880.17 L1556.8,1880.22 L1558.8,1880.26 L1560.8,1880.30 L1562.8,1880.34 L1564.8,1880.38 L1566.8,1880.42 L1568.8,1880.46 L1570.8,1880.50 L1572.8,1880.54 L1574.8,1880.58 L1576.8,1880.62 L1578.8,1880.67 L1580.8,1880.71 L1582.8,1880.75 L1584.8,1880.79 L1586.8,1880.83 L1588.8,1880.87 L1590.8,1880.91 L1592.8,1880.95 L1594.8,1880.99 L1596.8,1881.03 L1598.8,1881.07 L1600.8,1881.11 L1602.8,1881.15 L1604.8,1881.20 L1606.8,1881.24 L1608.8,1881.28 L1610.8,1881.32 L1612.8,1881.36 L1614.8,1881.40 L1616.8,1881.44 L1618.8,1881.48 L1620.8,1881.52 L1622.8,1881.56 L1624.8,1881.60 L1626.8,1881.64 L1628.8,1881.68 L1630.8,1881.72 L1632.8,1881.76 L1634.8,1881.80 L1636.8,1881.84 L1638.8,1881.88 L1640.8,1881.92 L1642.8,1881.96 L1644.8,1882.00 L1646.8,1882.04 L1648.8,1882.08 L1650.8,1882.13 L1652.8,1882.17 L1654.8,1882.21 L1656.8,1882.25 L1658.8,1882.29 L1660.8,1882.33 L1662.8,1882.37 L1664.8,1882.41 L1666.8,1882.45 L1668.9,1882.49 L1670.9,1882.53 L1672.9,1882.57 L1674.9,1882.61 L1676.9,1882.64 L1678.9,1882.68 L1680.9,1882.72 L1682.9,1882.76 L1684.9,1882.80 L1686.9,1882.84 L1688.9,1882.88 L1690.9,1882.92 L1692.9,1882.96 L1694.9,1883.00 L1696.9,1883.04 L1698.9,1883.08 L1700.9,1883.12 L1702.9,1883.16 L1704.9,1883.20 L1706.9,1883.24 L1708.9,1883.28 L1710.9,1883.32 L1712.9,1883.36 L1714.9,1883.40 L1716.9,1883.43 L1718.9,1883.47 L1720.9,1883.51 L1722.9,1883.55 L1724.9,1883.59 L1726.9,1883.63 L1728.9,1883.67 L1730.9,1883.71 L1732.9,1883.75 L1734.9,1883.78 L1736.9,1883.82 L1738.9,1883.86 L1740.9,1883.90 L1742.9,1883.94 L1744.9,1883.98 L1746.9,1884.02 L1748.9,1884.06 L1750.9,1884.09 L1752.9,1884.13 L1754.9,1884.17 L1756.9,1884.21 L1758.9,1884.25 L1760.9,1884.29 L1762.9,1884.32 L1764.9,1884.36 L1766.9,1884.40 L1768.9,1884.44 L1770.9,1884.48 L1772.9,1884.52 L1774.9,1884.55 L1776.9,1884.59 L1778.9,1884.63 L1780.9,1884.67 L1782.9,1884.71 L1784.9,1884.74 L1786.9,1884.78 L1788.9,1884.82 L1790.9,1884.86 L1792.9,1884.90 L1794.9,1884.93 L1796.9,1884.97 L1798.9,1885.01 L1800.9,1885.05 L1802.9,1885.09 L1804.9,1885.12 L1806.9,1885.16 L1808.9,1885.20 L1810.9,1885.24 L1812.9,1885.27 L1814.9,1885.31 L1816.9,1885.35 L1818.9,1885.39 L1820.9,1885.42 L1822.9,1885.46 L1824.9,1885.50 L1826.9,1885.54 L1828.9,1885.57 L1830.9,1885.61 L1832.9,1885.65 L1834.9,1885.69 L1836.9,1885.72 L1838.9,1885.76 L1840.9,1885.80 L1842.9,1885.84 L1844.9,1885.87 L1846.9,1885.91 L1848.9,1885.95 L1850.9,1885.99 L1852.9,1886.02 L1854.9,1886.06 L1856.9,1886.10 L1858.9,1886.13 L1860.9,1886.17 L1862.9,1886.21 L1864.9,1886.24 L1866.9,1886.28 L1868.9,1886.32 L1870.9,1886.36 L1872.9,1886.39 L1874.9,1886.43 L1876.9,1886.47 L1878.9,1886.50 L1881.0,1886.54 L1883.0,1886.58 L1885.0,1886.61 L1887.0,1886.65 L1889.0,1886.69 L1891.0,1886.72 L1893.0,1886.76 L1895.0,1886.80 L1897.0,1886.83 L1899.0,1886.87 L1901.0,1886.91 L1903.0,1886.94 L1905.0,1886.98 L1907.0,1887.02 L1909.0,1887.05 L1911.0,1887.09 L1913.0,1887.12 L1915.0,1887.16 L1917.0,1887.20 L1919.0,1887.23 L1921.0,1887.27 L1923.0,1887.31 L1925.0,1887.34 L1927.0,1887.38 L1929.0,1887.41 L1931.0,1887.45 L1933.0,1887.49 L1935.0,1887.52 L1937.0,1887.56 L1939.0,1887.59 L1941.0,1887.63 L1943.0,1887.67 L1945.0,1887.70 L1947.0,1887.74 L1949.0,1887.77 L1951.0,1887.81 L1953.0,1887.85 L1955.0,1887.88 L1957.0,1887.92 L1959.0,1887.95 L1961.0,1887.99 L1963.0,1888.02 L1965.0,1888.06 L1967.0,1888.09 L1969.0,1888.13 L1971.0,1888.17 L1973.0,1888.20 L1975.0,1888.24 L1977.0,1888.27 L1979.0,1888.31"/>
<path stroke="#0000ff" d="M149.0,2134.62 L150.9,2134.22 L152.9,2133.81 L154.8,2133.40 L156.7,2132.98 L158.6,2132.55 L160.6,2132.10 L162.5,2131.64 L164.4,2131.17 L166.3,2130.68 L168.2,2130.18 L170.1,2129.66 L171.9,2129.13 L173.8,2128.59 L175.7,2128.03 L177.5,2127.46 L179.4,2126.87 L181.2,2126.26 L183.1,2125.64 L184.9,2125.00 L186.7,2124.34 L188.5,2123.66 L190.3,2122.96 L192.1,2122.25 L193.8,2121.52 L195.6,2120.78 L197.3,2120.02 L199.1,2119.24 L200.8,2118.45 L202.5,2117.65 L204.2,2116.83 L205.9,2115.99 L207.5,2115.14 L209.2,2114.28 L210.8,2113.40 L212.5,2112.51 L214.1,2111.60 L215.7,2110.68 L217.3,2109.75 L218.9,2108.80 L220.4,2107.83 L222.0,2106.85 L223.5,2105.85 L225.0,2104.84 L226.5,2103.81 L228.0,2102.77 L229.4,2101.70 L230.9,2100.63 L232.3,2099.53 L233.7,2098.43 L235.0,2097.31 L236.4,2096.17 L237.7,2095.02 L239.1,2093.87 L240.4,2092.70 L241.7,2091.52 L242.9,2090.33 L244.2,2089.13 L245.4,2087.92 L246.7,2086.70 L247.9,2085.48 L249.1,2084.25 L250.3,2083.01 L251.4,2081.76 L252.6,2080.51 L253.8,2079.25 L254.9,2077.98 L256.0,2076.70 L257.1,2075.42 L258.2,2074.13 L259.3,2072.83 L260.4,2071.52 L261.4,2070.21 L262.5,2068.90 L263.5,2067.58 L264.5,2066.25 L265.5,2064.92 L266.5,2063.58 L267.5,2062.24 L268.5,2060.90 L269.5,2059.55 L270.4,2058.20 L271.4,2056.84 L272.3,2055.48 L273.3,2054.12 L274.2,2052.76 L275.1,2051.39 L276.0,2050.02 L276.9,2048.65 L277.8,2047.27 L278.7,2045.89 L279.6,2044.50 L280.5,2043.11 L281.3,2041.72 L282.2,2040.33 L283.0,2038.93 L283.8,2037.52 L284.7,2036.11 L285.5,2034.70 L286.2,2033.29 L287.0,2031.87 L287.8,2030.44 L288.5,2029.01 L289.3,2027.58 L290.0,2026.15 L290.7,2024.71 L291.4,2023.27 L292.1,2021.82 L292.8,2020.37 L293.5,2018.92 L294.2,2017.47 L294.8,2016.01 L295.5,2014.56 L296.1,2013.09 L296.7,2011.63 L297.3,2010.16 L297.9,2008.69 L298.5,2007.22 L299.1,2005.75 L299.7,2004.27 L300.3,2002.79 L300.8,2001.31 L301.3,1999.83 L301.9,1998.34 L302.4,1996.85 L302.9,1995.36 L303.4,1993.87 L303.9,1992.37 L304.4,1990.88 L304.9,1989.38 L305.3,1987.89 L305.8,1986.40 L306.3,1984.90 L306.8,1983.41 L307.3,1981.92 L307.8,1980.43 L308.3,1978.94 L308.9,1977.45 L309.4,1975.96 L309.9,1974.47 L310.4,1972.98 L310.9,1971.49 L311.5,1970.01 L312.0,1968.52 L312.5,1967.03 L313.0,1965.55 L313.6,1964.06 L314.1,1962.58 L314.6,1961.09 L315.2,1959.60 L315.7,1958.12 L316.2,1956.63 L316.8,1955.15 L317.3,1953.66 L317.8,1952.17 L318.3,1950.69 L318.9,1949.20 L319.4,1947.71 L319.9,1946.23 L320.4,1944.74 L321.0,1943.25 L321.5,1941.76 L322.0,1940.27 L322.5,1938.78 L323.0,1937.29 L323.5,1935.79 L324.0,1934.30 L324.5,1932.81 L325.0,1931.31 L325.4,1929.82 L325.9,1928.32 L326.4,1926.82 L326.8,1925.32 L327.3,1923.82 L327.8,1922.32 L328.2,1920.82 L328.6,1919.31 L329.1,1917.81 L329.5,1916.30 L329.9,1914.79 L330.3,1913.29 L330.7,1911.78 L331.1,1910.27 L331.5,1908.75 L331.9,1907.24 L332.2,1905.73 L332.6,1904.21 L333.0,1902.70 L333.3,1901.18 L333.7,1899.66 L334.0,1898.15 L334.4,1896.63 L334.7,1895.11 L335.1,1893.59 L335.4,1892.07 L335.7,1890.55 L336.1,1889.03 L336.4,1887.51 L336.7,1885.99 L337.0,1884.47 L337.4,1882.95 L337.7,1881.43 L338.0,1879.91 L338.3,1878.38 L338.6,1876.86 L338.9,1875.34 L339.2,1873.81 L339.5,1872.29 L339.8,1870.77 L340.1,1869.24 L340.4,1867.72 L340.7,1866.19 L341.0,1864.67 L341.3,1863.14 L341.5,1861.62 L341.8,1860.09 L342.1,1858.57 L342.4,1857.04 L342.7,1855.52 L342.9,1853.99 L343.2,1852.46 L343.5,1850.94 L343.8,1849.41 L344.0,1847.88 L344.3,1846.36 L344.6,1844.83 L344.9,1843.30 L345.1,1841.78 L345.4,1840.25 L345.6,1838.72 L345.9,1837.19 L346.2,1835.67 L346.4,1834.14 L346.7,1832.61 L347.0,1831.08 L347.2,1829.55 L347.5,1828.03 L347.8,1826.50 L348.0,1824.97 L348.3,1823.44 L348.5,1821.92 L348.8,1820.39 L349.1,1818.86 L349.3,1817.33 L349.6,1815.81 L349.8,1814.28 L350.1,1812.75 L350.4,1811.22 L350.6,1809.69 L350.9,1808.17 L351.2,1806.64 L351.4,1805.11 L351.7,1803.59 L352.0,1802.06 L352.2,1800.53 L352.5,1799.00 L352.8,1797.48 L353.1,1795.95 L353.3,1794.42 L353.6,1792.90 L353.9,1791.37 L354.1,1789.85 L354.4,1788.32 L354.7,1786.79 L355.0,1785.27 L355.3,1783.74 L355.5,1782.21 L355.8,1780.69 L356.1,1779.16 L356.4,1777.64 L356.6,1776.11 L356.9,1774.58 L357.2,1773.06 L357.5,1771.53 L357.8,1770.01 L358.0,1768.48 L358.3,1766.95 L358.6,1765.43 L358.9,1763.90 L359.2,1762.38 L359.4,1760.85 L359.7,1759.33 L360.0,1757.80 L360.3,1756.27 L360.6,1754.75 L360.8,1753.22 L361.1,1751.70 L361.4,1750.17 L361.7,1748.64 L361.9,1747.12 L362.2,1745.59 L362.5,1744.06 L362.8,1742.54 L363.0,1741.01 L363.3,1739.48 L363.6,1737.96 L363.9,1736.43 L364.1,1734.90 L364.4,1733.38 L364.7,1731.85 L364.9,1730.32 L365.2,1728.80 L365.5,1727.27 L365.7,1725.74 L366.0,1724.21 L366.3,1722.69 L366.5,1721.16 L366.8,1719.63 L367.1,1718.10 L367.3,1716.58 L367.6,1715.05 L367.8,1713.52 L368.1,1711.99 L368.4,1710.46 L368.6,1708.94 L368.9,1707.41 L369.1,1705.88 L369.4,1704.35 L369.6,1702.82 L369.9,1701.29 L370.1,1699.76 L370.4,1698.23 L370.6,1696.70 L370.8,1695.17 L371.1,1693.64 L371.3,1692.11 L371.6,1690.58 L371.8,1689.05 L372.0,1687.52 L372.3,1685.99 L372.5,1684.46 L372.7,1682.93 L372.9,1681.40 L373.2,1679.87 L373.4,1678.34 L373.6,1676.80 L373.8,1675.27 L374.0,1673.74 L374.3,1672.21 L374.5,1670.68 L374.7,1669.14 L374.9,1667.61 L375.1,1666.08 L375.3,1664.55 L375.5,1663.01 L375.7,1661.48 L375.9,1659.95 L376.1,1658.41 L376.3,1656.88 L376.5,1655.35 L376.7,1653.81 L376.9,1652.28 L377.1,1650.74 L377.3,1649.21 L377.5,1647.68 L377.6,1646.14 L377.8,1644.61 L378.0,1643.07 L378.2,1641.54 L378.4,1640.01 L378.6,1638.47 L378.8,1636.94 L379.0,1635.40 L379.1,1633.87 L379.3,1632.33 L379.5,1630.80 L379.7,1629.27 L379.9,1627.73 L380.1,1626.20 L380.2,1624.66 L380.4,1623.13 L380.6,1621.59 L380.8,1620.06 L381.0,1618.52 L381.2,1616.99 L381.4,1615.46 L381.5,1613.92 L381.7,1612.39 L381.9,1610.85 L382.1,1609.32 L382.3,1607.78 L382.4,1606.25 L382.6,1604.71 L382.8,1603.18 L383.0,1601.64 L383.2,1600.11 L383.3,1598.57 L383.5,1597.04 L383.7,1595.50 L383.9,1593.97 L384.1,1592.44 L384.2,1590.90 L384.4,1589.37 L384.6,1587.83 L384.8,1586.30 L384.9,1584.76 L385.1,1583.23 L385.3,1581.69 L385.5,1580.16 L385.6,1578.62 L385.8,1577.09 L386.0,1575.55 L386.2,1574.02 L386.4,1572.48 L386.5,1570.95 L386.7,1569.41 L386.9,1567.88 L387.1,1566.34 L387.2,1564.80 L387.4,1563.27 L387.6,1561.73 L387.8,1560.20 L387.9,1558.66 L388.1,1557.13 L388.3,1555.59 L388.5,1554.06 L388.6,1552.52 L388.8,1550.99 L389.0,1549.45 L389.2,1547.92 L389.3,1546.38 L389.5,1544.85 L389.7,1543.31 L389.8,1541.78 L390.0,1540.24 L390.2,1538.71 L390.4,1537.17 L390.5,1535.64 L390.7,1534.10 L390.9,1532.57 L391.1,1531.03 L391.2,1529.50 L391.4,1527.96 L391.6,1526.43 L391.7,1524.89 L391.9,1523.36 L392.1,1521.82 L392.3,1520.29 L392.4,1518.75 L392.6,1517.21 L392.8,1515.68 L393.0,1514.14 L393.1,1512.61 L393.3,1511.07 L393.5,1509.54 L393.6,1508.00 L393.8,1506.47 L394.0,1504.93 L394.1,1503.40 L394.3,1501.86 L394.5,1500.33 L394.7,1498.79 L394.8,1497.26 L395.0,1495.72 L395.2,1494.18 L395.3,1492.65 L395.5,1491.11 L395.7,1489.58 L395.8,1488.04 L396.0,1486.51 L396.2,1484.97 L396.4,1483.44 L396.5,1481.90 L396.7,1480.37 L396.9,1478.83 L397.0,1477.29 L397.2,1475.76 L397.4,1474.22 L397.5,1472.69 L397.7,1471.15 L397.9,1469.62 L398.0,1468.08 L398.2,1466.55 L398.4,1465.01 L398.5,1463.47 L398.7,1461.94 L398.9,1460.40 L399.0,1458.87 L399.2,1457.33 L399.4,1455.80 L399.5,1454.26 L399.7,1452.72 L399.9,1451.19 L400.0,1449.65 L400.2,1448.12 L400.4,1446.58 L400.5,1445.05 L400.7,1443.51 L400.9,1441.97 L401.0,1440.44 L401.2,1438.90 L401.3,1437.37 L401.5,1435.83 L401.7,1434.30 L401.8,1432.76 L402.0,1431.22 L402.2,1429.69 L402.3,1428.15 L402.5,1426.62 L402.6,1425.08 L402.8,1423.54 L403.0,1422.01 L403.1,1420.47 L403.3,1418.94 L403.4,1417.40 L403.6,1415.86 L403.8,1414.33 L403.9,1412.79 L404.1,1411.25 L404.2,1409.72 L404.4,1408.18 L404.6,1406.65 L404.7,1405.11 L404.9,1403.58 L405.0,1402.04 L405.2,1400.50 L405.4,1398.97 L405.5,1397.43 L405.7,1395.90 L405.9,1394.36 L406.0,1392.82 L406.2,1391.29 L406.4,1389.75 L406.5,1388.22 L406.7,1386.68 L406.9,1385.15 L407.0,1383.61 L407.2,1382.08 L407.4,1380.54 L407.6,1379.01 L407.7,1377.47 L407.9,1375.94 L408.1,1374.40 L408.3,1372.87 L408.5,1371.33 L408.6,1369.80 L408.8,1368.26 L409.0,1366.73 L409.2,1365.19 L409.4,1363.66 L409.5,1362.12 L409.7,1360.59 L409.9,1359.06 L410.1,1357.52 L410.3,1355.99 L410.5,1354.45 L410.7,1352.92 L410.9,1351.39 L411.1,1349.85 L411.3,1348.32 L411.5,1346.79 L411.7,1345.25 L411.9,1343.72 L412.1,1342.19 L412.3,1340.66 L412.5,1339.12 L412.7,1337.59 L413.0,1336.06 L413.2,1334.53 L413.4,1333.00 L413.6,1331.47 L413.8,1329.93 L414.0,1328.40 L414.3,1326.87 L414.5,1325.34 L414.8,1323.81 L415.1,1322.29 L415.5,1320.78 L415.9,1319.27 L416.4,1317.78 L417.2,1316.36 L418.1,1315.00 L419.1,1316.32 L420.2,1317.61 L420.9,1319.05 L421.4,1320.55 L421.7,1322.06 L422.1,1323.58 L422.4,1325.10 L422.6,1326.63 L422.8,1328.16 L423.0,1329.69 L423.2,1331.22 L423.4,1332.75 L423.6,1334.28 L423.9,1335.81 L424.1,1337.34 L424.4,1338.87 L424.6,1340.40 L424.8,1341.93 L425.1,1343.46 L425.3,1344.99 L425.5,1346.51 L425.7,1348.05 L425.9,1349.58 L426.2,1351.11 L426.4,1352.64 L426.6,1354.17 L426.8,1355.70 L427.0,1357.23 L427.2,1358.76 L427.4,1360.29 L427.6,1361.82 L427.9,1363.35 L428.1,1364.88 L428.3,1366.41 L428.5,1367.94 L428.7,1369.47 L429.0,1371.00 L429.2,1372.53 L429.4,1374.06 L429.6,1375.59 L429.9,1377.12 L430.1,1378.65 L430.3,1380.18 L430.5,1381.71 L430.7,1383.24 L431.0,1384.77 L431.2,1386.30 L431.4,1387.83 L431.6,1389.36 L431.8,1390.89 L432.1,1392.42 L432.3,1393.95 L432.5,1395.48 L432.7,1397.01 L432.9,1398.54 L433.2,1400.07 L433.4,1401.60 L433.6,1403.13 L433.8,1404.66 L434.1,1406.19 L434.3,1407.72 L434.5,1409.25 L434.7,1410.78 L435.0,1412.30 L435.2,1413.83 L435.4,1415.36 L435.7,1416.89 L435.9,1418.42 L436.1,1419.95 L436.3,1421.48 L436.6,1423.01 L436.8,1424.54 L437.1,1426.06 L437.3,1427.59 L437.5,1429.12 L437.8,1430.65 L438.0,1432.18 L438.3,1433.70 L438.5,1435.23 L438.8,1436.76 L439.0,1438.29 L439.3,1439.81 L439.5,1441.34 L439.8,1442.87 L440.0,1444.39 L440.3,1445.92 L440.6,1447.45 L440.8,1448.97 L441.1,1450.50 L441.4,1452.02 L441.7,1453.54 L441.9,1455.07 L442.2,1456.59 L442.5,1458.12 L442.8,1459.64 L443.1,1461.16 L443.4,1462.68 L443.7,1464.21 L444.0,1465.73 L444.3,1467.25 L444.6,1468.77 L444.9,1470.29 L445.2,1471.81 L445.5,1473.33 L445.9,1474.85 L446.2,1476.37 L446.5,1477.89 L446.8,1479.41 L447.1,1480.93 L447.5,1482.45 L447.8,1483.97 L448.1,1485.49 L448.4,1487.01 L448.7,1488.53 L449.1,1490.04 L449.4,1491.56 L449.7,1493.08 L450.0,1494.60 L450.4,1496.12 L450.7,1497.64 L451.0,1499.16 L451.3,1500.68 L451.6,1502.20 L452.0,1503.72 L452.3,1505.24 L452.6,1506.76 L452.9,1508.28 L453.2,1509.80 L453.5,1511.32 L453.8,1512.84 L454.1,1514.36 L454.4,1515.89 L454.7,1517.41 L455.0,1518.93 L455.3,1520.45 L455.7,1521.97 L456.0,1523.49 L456.3,1525.01 L456.6,1526.54 L456.9,1528.06 L457.2,1529.58 L457.5,1531.10 L457.8,1532.62 L458.1,1534.14 L458.4,1535.66 L458.7,1537.18 L459.1,1538.70 L459.4,1540.22 L459.7,1541.74 L460.0,1543.26 L460.4,1544.78 L460.7,1546.29 L461.0,1547.81 L461.4,1549.33 L461.7,1550.84 L462.1,1552.36 L462.4,1553.87 L462.8,1555.39 L463.2,1556.90 L463.5,1558.41 L463.9,1559.92 L464.3,1561.43 L464.7,1562.94 L465.1,1564.45 L465.5,1565.96 L465.9,1567.46 L466.3,1568.97 L466.8,1570.47 L467.2,1571.98 L467.6,1573.48 L468.1,1574.98 L468.5,1576.48 L469.0,1577.98 L469.4,1579.48 L469.9,1580.97 L470.4,1582.47 L470.8,1583.97 L471.3,1585.46 L471.8,1586.95 L472.3,1588.45 L472.8,1589.94 L473.3,1591.43 L473.8,1592.92 L474.3,1594.41 L474.8,1595.90 L475.3,1597.39 L475.8,1598.88 L476.3,1600.36 L476.9,1601.85 L477.4,1603.34 L477.9,1604.82 L478.4,1606.31 L479.0,1607.79 L479.5,1609.27 L480.0,1610.76 L480.6,1612.24 L481.1,1613.72 L481.6,1615.21 L482.2,1616.69 L482.7,1618.17 L483.3,1619.65 L483.8,1621.13 L484.4,1622.61 L485.0,1624.08 L485.5,1625.56 L486.1,1627.03 L486.7,1628.51 L487.3,1629.98 L487.9,1631.45 L488.4,1632.92 L489.0,1634.39 L489.6,1635.86 L490.3,1637.32 L490.9,1638.79 L491.5,1640.25 L492.1,1641.72 L492.7,1643.18 L493.3,1644.64 L494.0,1646.11 L494.6,1647.57 L495.2,1649.03 L495.9,1650.49 L496.5,1651.95 L497.1,1653.41 L497.8,1654.87 L498.4,1656.33 L499.0,1657.79 L499.7,1659.25 L500.3,1660.70 L501.0,1662.16 L501.6,1663.62 L502.3,1665.07 L502.9,1666.53 L503.6,1667.98 L504.2,1669.43 L504.9,1670.88 L505.6,1672.33 L506.3,1673.78 L507.0,1675.22 L507.6,1676.67 L508.3,1678.11 L509.1,1679.55 L509.8,1680.99 L510.5,1682.42 L511.2,1683.86 L512.0,1685.29 L512.7,1686.72 L513.4,1688.15 L514.2,1689.58 L514.9,1691.00 L515.7,1692.43 L516.5,1693.85 L517.3,1695.26 L518.0,1696.68 L518.8,1698.09 L519.6,1699.50 L520.5,1700.91 L521.3,1702.31 L522.1,1703.71 L523.0,1705.10 L523.8,1706.49 L524.7,1707.87 L525.6,1709.25 L526.5,1710.63 L527.4,1711.99 L528.4,1713.35 L529.3,1714.71 L530.3,1716.05 L531.3,1717.39 L532.3,1718.73 L533.3,1720.06 L534.3,1721.38 L535.3,1722.69 L536.4,1724.00 L537.5,1725.30 L538.5,1726.60 L539.6,1727.89 L540.7,1729.18 L541.8,1730.47 L542.9,1731.75 L544.1,1733.02 L545.2,1734.29 L546.3,1735.56 L547.5,1736.82 L548.6,1738.08 L549.8,1739.34 L550.9,1740.59 L552.1,1741.84 L553.3,1743.08 L554.5,1744.32 L555.7,1745.55 L556.9,1746.78 L558.1,1748.00 L559.3,1749.21 L560.6,1750.41 L561.9,1751.60 L563.1,1752.78 L564.4,1753.95 L565.8,1755.11 L567.1,1756.25 L568.5,1757.38 L569.8,1758.49 L571.2,1759.59 L572.7,1760.68 L574.1,1761.75 L575.6,1762.81 L577.0,1763.86 L578.5,1764.90 L580.0,1765.94 L581.4,1766.98 L582.9,1768.01 L584.4,1769.04 L585.9,1770.06 L587.4,1771.08 L588.9,1772.10 L590.4,1773.12 L591.9,1774.13 L593.4,1775.14 L595.0,1776.14 L596.5,1777.13 L598.0,1778.11 L599.6,1779.09 L601.1,1780.05 L602.7,1781.00 L604.3,1781.95 L605.9,1782.88 L607.5,1783.80 L609.1,1784.72 L610.7,1785.62 L612.3,1786.51 L614.0,1787.39 L615.6,1788.26 L617.3,1789.13 L619.0,1789.98 L620.6,1790.82 L622.3,1791.65 L624.0,1792.47 L625.7,1793.28 L627.4,1794.08 L629.1,1794.87 L630.9,1795.65 L632.6,1796.42 L634.3,1797.17 L636.1,1797.92 L637.9,1798.65 L639.6,1799.38 L641.4,1800.09 L643.2,1800.80 L645.0,1801.49 L646.7,1802.18 L648.5,1802.87 L650.3,1803.54 L652.1,1804.21 L653.9,1804.88 L655.8,1805.54 L657.6,1806.19 L659.4,1806.84 L661.2,1807.48 L663.0,1808.12 L664.8,1808.75 L666.7,1809.37 L668.5,1809.99 L670.3,1810.60 L672.2,1811.20 L674.0,1811.79 L675.9,1812.38 L677.7,1812.95 L679.6,1813.52 L681.5,1814.09 L683.3,1814.64 L685.2,1815.19 L687.1,1815.74 L688.9,1816.28 L690.8,1816.82 L692.7,1817.35 L694.6,1817.87 L696.5,1818.39 L698.3,1818.90 L700.2,1819.40 L702.1,1819.90 L704.0,1820.38 L705.9,1820.85 L707.8,1821.31 L709.8,1821.76 L711.7,1822.20 L713.6,1822.62 L715.5,1823.03 L717.5,1823.43 L719.4,1823.81 L721.3,1824.18 L723.3,1824.55 L725.2,1824.90 L727.2,1825.25 L729.1,1825.59 L731.1,1825.92 L733.0,1826.25 L735.0,1826.57 L737.0,1826.89 L738.9,1827.20 L740.9,1827.51 L742.8,1827.81 L744.8,1828.11 L746.8,1828.40 L748.7,1828.69 L750.7,1828.98 L752.7,1829.26 L754.6,1829.54 L756.6,1829.82 L758.6,1830.09 L760.5,1830.36 L762.5,1830.62 L764.5,1830.88 L766.5,1831.14 L768.4,1831.39 L770.4,1831.65 L772.4,1831.90 L774.4,1832.14 L776.3,1832.39 L778.3,1832.63 L780.3,1832.87 L782.3,1833.10 L784.2,1833.34 L786.2,1833.57 L788.2,1833.80 L790.2,1834.03 L792.2,1834.25 L794.1,1834.48 L796.1,1834.70 L798.1,1834.92 L800.1,1835.14 L802.1,1835.36 L804.0,1835.58 L806.0,1835.79 L808.0,1836.01 L810.0,1836.22 L812.0,1836.44 L814.0,1836.65 L815.9,1836.86 L817.9,1837.07 L819.9,1837.28 L821.9,1837.49 L823.9,1837.70 L825.8,1837.91 L827.8,1838.12 L829.8,1838.33 L831.8,1838.53 L833.8,1838.73 L835.8,1838.94 L837.7,1839.14 L839.7,1839.34 L841.7,1839.54 L843.7,1839.74 L845.7,1839.93 L847.7,1840.13 L849.7,1840.32 L851.6,1840.52 L853.6,1840.71 L855.6,1840.90 L857.6,1841.09 L859.6,1841.27 L861.6,1841.46 L863.6,1841.64 L865.5,1841.83 L867.5,1842.01 L869.5,1842.19 L871.5,1842.37 L873.5,1842.54 L875.5,1842.72 L877.5,1842.89 L879.5,1843.07 L881.4,1843.24 L883.4,1843.41 L885.4,1843.57 L887.4,1843.74 L889.4,1843.90 L891.4,1844.07 L893.4,1844.23 L895.4,1844.38 L897.4,1844.54 L899.4,1844.70 L901.3,1844.85 L903.3,1845.00 L905.3,1845.15 L907.3,1845.30 L909.3,1845.45 L911.3,1845.59 L913.3,1845.73 L915.3,1845.87 L917.3,1846.01 L919.3,1846.15 L921.3,1846.28 L923.3,1846.41 L925.3,1846.55 L927.3,1846.67 L929.2,1846.80 L931.2,1846.93 L933.2,1847.05 L935.2,1847.18 L937.2,1847.30 L939.2,1847.42 L941.2,1847.54 L943.2,1847.65 L945.2,1847.77 L947.2,1847.89 L949.2,1848.00 L951.2,1848.11 L953.2,1848.22 L955.2,1848.33 L957.2,1848.44 L959.2,1848.55 L961.2,1848.66 L963.2,1848.77 L965.2,1848.87 L967.2,1848.98 L969.2,1849.08 L971.2,1849.18 L973.2,1849.29 L975.2,1849.39 L977.1,1849.49 L979.1,1849.59 L981.1,1849.69 L983.1,1849.79 L985.1,1849.89 L987.1,1849.99 L989.1,1850.08 L991.1,1850.18 L993.1,1850.28 L995.1,1850.38 L997.1,1850.47 L999.1,1850.57 L1001.1,1850.67 L1003.1,1850.76 L1005.1,1850.86 L1007.1,1850.96 L1009.1,1851.05 L1011.1,1851.15 L1013.1,1851.25 L1015.1,1851.34 L1017.1,1851.44 L1019.1,1851.54 L1021.1,1851.63 L1023.1,1851.73 L1025.1,1851.83 L1027.1,1851.92 L1029.1,1852.02 L1031.1,1852.12 L1033.1,1852.21 L1035.1,1852.31 L1037.1,1852.40 L1039.1,1852.50 L1041.1,1852.59 L1043.1,1852.69 L1045.1,1852.78 L1047.0,1852.88 L1049.0,1852.97 L1051.0,1853.06 L1053.0,1853.16 L1055.0,1853.25 L1057.0,1853.34 L1059.0,1853.43 L1061.0,1853.53 L1063.0,1853.62 L1065.0,1853.71 L1067.0,1853.80 L1069.0,1853.89 L1071.0,1853.98 L1073.0,1854.07 L1075.0,1854.16 L1077.0,1854.25 L1079.0,1854.34 L1081.0,1854.43 L1083.0,1854.52 L1085.0,1854.60 L1087.0,1854.69 L1089.0,1854.78 L1091.0,1854.86 L1093.0,1854.95 L1095.0,1855.04 L1097.0,1855.12 L1099.0,1855.21 L1101.0,1855.29 L1103.0,1855.37 L1105.0,1855.46 L1107.0,1855.54 L1109.0,1855.62 L1111.0,1855.71 L1113.0,1855.79 L1115.0,1855.87 L1117.0,1855.95 L1119.0,1856.03 L1121.0,1856.11 L1123.0,1856.20 L1125.0,1856.28 L1127.0,1856.36 L1129.0,1856.44 L1131.0,1856.52 L1133.0,1856.60 L1135.0,1856.68 L1137.0,1856.76 L1139.0,1856.83 L1141.0,1856.91 L1143.0,1856.99 L1145.0,1857.07 L1146.9,1857.15 L1148.9,1857.23 L1150.9,1857.31 L1152.9,1857.39 L1154.9,1857.47 L1156.9,1857.55 L1158.9,1857.62 L1160.9,1857.70 L1162.9,1857.78 L1164.9,1857.86 L1166.9,1857.94 L1168.9,1858.01 L1170.9,1858.09 L1172.9,1858.17 L1174.9,1858.25 L1176.9,1858.32 L1178.9,1858.40 L1180.9,1858.48 L1182.9,1858.55 L1184.9,1858.63 L1186.9,1858.71 L1188.9,1858.78 L1190.9,1858.86 L1192.9,1858.93 L1194.9,1859.01 L1196.9,1859.08 L1198.9,1859.16 L1200.9,1859.23 L1202.9,1859.31 L1204.9,1859.38 L1206.9,1859.46 L1208.9,1859.53 L1210.9,1859.60 L1212.9,1859.68 L1214.9,1859.75 L1216.9,1859.82 L1218.9,1859.90 L1220.9,1859.97 L1222.9,1860.04 L1224.9,1860.11 L1226.9,1860.19 L1228.9,1860.26 L1230.9,1860.33 L1232.9,1860.40 L1234.9,1860.47 L1236.9,1860.54 L1238.9,1860.61 L1240.9,1860.68 L1242.9,1860.75 L1244.9,1860.82 L1246.9,1860.89 L1248.9,1860.96 L1250.9,1861.03 L1252.9,1861.09 L1254.9,1861.16 L1256.9,1861.23 L1258.9,1861.30 L1260.9,1861.36 L1262.9,1861.43 L1264.9,1861.50 L1266.9,1861.56 L1268.9,1861.63 L1270.9,1861.69 L1272.9,1861.76 L1274.9,1861.82 L1276.9,1861.89 L1278.9,1861.95 L1280.9,1862.02 L1282.9,1862.08 L1284.9,1862.14 L1286.9,1862.21 L1288.9,1862.27 L1290.9,1862.33 L1292.9,1862.39 L1294.9,1862.45 L1296.9,1862.51 L1298.9,1862.57 L1300.9,1862.63 L1302.9,1862.69 L1304.9,1862.75 L1306.9,1862.81 L1308.9,1862.87 L1310.9,1862.93 L1312.9,1862.98 L1314.9,1863.04 L1316.9,1863.10 L1318.9,1863.15 L1320.9,1863.21 L1322.9,1863.27 L1324.9,1863.32 L1326.9,1863.38 L1328.9,1863.43 L1330.9,1863.49 L1332.9,1863.54 L1334.9,1863.59 L1336.9,1863.65 L1338.9,1863.70 L1340.9,1863.75 L1342.9,1863.80 L1344.9,1863.86 L1346.9,1863.91 L1348.9,1863.96 L1350.9,1864.01 L1352.9,1864.06 L1354.9,1864.11 L1356.9,1864.16 L1358.9,1864.21 L1360.9,1864.26 L1362.9,1864.31 L1364.9,1864.36 L1366.9,1864.41 L1368.9,1864.46 L1370.9,1864.51 L1372.9,1864.56 L1374.9,1864.61 L1376.9,1864.65 L1378.9,1864.70 L1380.9,1864.75 L1382.9,1864.80 L1384.9,1864.84 L1386.9,1864.89 L1388.9,1864.94 L1390.9,1864.98 L1392.9,1865.03 L1394.9,1865.08 L1396.9,1865.12 L1398.9,1865.17 L1400.9,1865.21 L1402.9,1865.26 L1404.9,1865.30 L1406.9,1865.35 L1408.9,1865.39 L1410.9,1865.44 L1412.9,1865.48 L1414.9,1865.53 L1416.9,1865.57 L1418.9,1865.62 L1420.9,1865.66 L1422.9,1865.70 L1424.9,1865.75 L1426.9,1865.79 L1428.9,1865.84 L1430.9,1865.88 L1432.9,1865.92 L1434.9,1865.97 L1436.9,1866.01 L1438.9,1866.05 L1440.9,1866.09 L1442.9,1866.14 L1444.9,1866.18 L1446.9,1866.22 L1448.9,1866.27 L1450.9,1866.31 L1452.9,1866.35 L1454.9,1866.39 L1456.9,1866.44 L1458.9,1866.48 L1460.9,1866.52 L1462.9,1866.56 L1464.9,1866.61 L1466.9,1866.65 L1468.9,1866.69 L1470.9,1866.73 L1472.9,1866.77 L1474.9,1866.82 L1476.9,1866.86 L1478.9,1866.90 L1480.9,1866.94 L1482.9,1866.98 L1484.9,1867.03 L1486.9,1867.07 L1488.9,1867.11 L1490.9,1867.15 L1492.9,1867.19 L1494.9,1867.24 L1496.9,1867.28 L1498.9,1867.32 L1500.9,1867.36 L1502.9,1867.41 L1504.9,1867.45 L1506.9,1867.49 L1508.9,1867.53 L1510.9,1867.58 L1512.9,1867.62 L1514.9,1867.66 L1516.9,1867.70 L1518.9,1867.75 L1520.9,1867.79 L1522.9,1867.83 L1524.9,1867.87 L1526.9,1867.92 L1528.9,1867.96 L1530.9,1868.00 L1532.9,1868.04 L1534.9,1868.09 L1536.9,1868.13 L1538.9,1868.17 L1540.9,1868.21 L1542.9,1868.26 L1544.9,1868.30 L1546.9,1868.34 L1548.9,1868.38 L1550.9,1868.42 L1552.9,1868.47 L1554.9,1868.51 L1556.9,1868.55 L1558.9,1868.59 L1560.9,1868.63 L1562.9,1868.67 L1564.9,1868.72 L1566.9,1868.76 L1568.9,1868.80 L1570.9,1868.84 L1572.9,1868.88 L1574.9,1868.92 L1576.9,1868.96 L1578.9,1869.01 L1580.9,1869.05 L1582.9,1869.09 L1584.9,1869.13 L1586.9,1869.17 L1588.9,1869.21 L1590.9,1869.25 L1592.9,1869.29 L1594.9,1869.33 L1596.9,1869.38 L1598.9,1869.42 L1600.9,1869.46 L1602.9,1869.50 L1604.9,1869.54 L1606.9,1869.58 L1608.9,1869.62 L1610.9,1869.66 L1612.9,1869.70 L1614.9,1869.74 L1616.9,1869.78 L1618.9,1869.82 L1620.9,1869.86 L1622.9,1869.90 L1624.9,1869.94 L1626.9,1869.98 L1628.9,1870.02 L1630.9,1870.06 L1632.9,1870.10 L1634.9,1870.14 L1636.9,1870.18 L1638.9,1870.22 L1640.9,1870.26 L1642.9,1870.30 L1644.9,1870.34 L1646.9,1870.38 L1648.9,1870.42 L1650.9,1870.46 L1652.9,1870.50 L1654.9,1870.54 L1656.9,1870.58 L1658.9,1870.62 L1660.9,1870.66 L1662.9,1870.70 L1664.9,1870.74 L1666.9,1870.78 L1668.9,1870.82 L1670.9,1870.86 L1672.9,1870.89 L1674.9,1870.93 L1676.9,1870.97 L1678.9,1871.01 L1680.9,1871.05 L1682.9,1871.09 L1684.9,1871.13 L1686.9,1871.17 L1688.9,1871.21 L1690.9,1871.25 L1692.9,1871.29 L1694.9,1871.32 L1696.9,1871.36 L1698.9,1871.40 L1700.9,1871.44 L1702.9,1871.48 L1704.9,1871.52 L1706.9,1871.56 L1708.9,1871.60 L1710.9,1871.63 L1712.9,1871.67 L1714.9,1871.71 L1716.9,1871.75 L1718.9,1871.79 L1720.9,1871.83 L1722.9,1871.87 L1724.9,1871.90 L1726.9,1871.94 L1728.9,1871.98 L1730.9,1872.02 L1732.9,1872.06 L1734.9,1872.10 L1736.9,1872.13 L1738.9,1872.17 L1740.9,1872.21 L1742.9,1872.25 L1744.9,1872.29 L1746.9,1872.33 L1748.9,1872.36 L1750.9,1872.40 L1752.9,1872.44 L1754.9,1872.48 L1756.9,1872.52 L1758.9,1872.55 L1760.9,1872.59 L1762.9,1872.63 L1764.9,1872.67 L1766.9,1872.71 L1768.9,1872.74 L1770.9,1872.78 L1772.9,1872.82 L1774.9,1872.86 L1776.9,1872.89 L1778.9,1872.93 L1780.9,1872.97 L1782.9,1873.01 L1784.9,1873.04 L1786.9,1873.08 L1788.9,1873.12 L1790.9,1873.16 L1792.9,1873.19 L1794.9,1873.23 L1796.9,1873.27 L1798.9,1873.31 L1800.9,1873.34 L1803.0,1873.38 L1805.0,1873.42 L1807.0,1873.46 L1809.0,1873.49 L1811.0,1873.53 L1813.0,1873.57 L1815.0,1873.60 L1817.0,1873.64 L1819.0,1873.68 L1821.0,1873.72 L1823.0,1873.75 L1825.0,1873.79 L1827.0,1873.83 L1829.0,1873.86 L1831.0,1873.90 L1833.0,1873.94 L1835.0,1873.97 L1837.0,1874.01 L1839.0,1874.05 L1841.0,1874.08 L1843.0,1874.12 L1845.0,1874.16 L1847.0,1874.19 L1849.0,1874.23 L1851.0,1874.27 L1853.0,1874.30 L1855.0,1874.34 L1857.0,1874.38 L1859.0,1874.41 L1861.0,1874.45 L1863.0,1874.49 L1865.0,1874.52 L1867.0,1874.56 L1869.0,1874.60 L1871.0,1874.63 L1873.0,1874.67 L1875.0,1874.70 L1877.0,1874.74 L1879.0,1874.78 L1881.0,1874.81 L1883.0,1874.85 L1885.0,1874.88 L1887.0,1874.92 L1889.0,1874.96 L1891.0,1874.99 L1893.0,1875.03 L1895.0,1875.06 L1897.0,1875.10 L1899.0,1875.14 L1901.0,1875.17 L1903.0,1875.21 L1905.0,1875.24 L1907.0,1875.28 L1909.0,1875.31 L1911.0,1875.35 L1913.0,1875.38 L1915.0,1875.42 L1917.0,1875.46 L1919.0,1875.49 L1921.0,1875.53 L1923.0,1875.56 L1925.0,1875.60 L1927.0,1875.63 L1929.0,1875.67 L1931.0,1875.70 L1933.0,1875.74 L1935.0,1875.77 L1937.0,1875.81 L1939.0,1875.84 L1941.0,1875.88 L1943.0,1875.91 L1945.0,1875.95 L1947.0,1875.98 L1949.0,1876.02 L1951.0,1876.05 L1953.0,1876.09 L1955.0,1876.12 L1957.0,1876.16 L1959.0,1876.19 L1961.0,1876.23 L1963.0,1876.26 L1965.0,1876.30 L1967.0,1876.33 L1969.0,1876.37 L1971.0,1876.40 L1973.0,1876.44 L1975.0,1876.47 L1977.0,1876.50 L1979.0,1876.54"/>
<path stroke="#00ff00" d="M149.0,2134.62 L150.9,2134.21 L152.9,2133.79 L154.8,2133.38 L156.7,2132.95 L158.6,2132.51 L160.5,2132.06 L162.5,2131.60 L164.4,2131.12 L166.3,2130.64 L168.2,2130.14 L170.0,2129.62 L171.9,2129.10 L173.8,2128.56 L175.7,2128.01 L177.5,2127.44 L179.4,2126.86 L181.2,2126.27 L183.1,2125.66 L184.9,2125.04 L186.7,2124.39 L188.5,2123.74 L190.3,2123.06 L192.1,2122.38 L193.9,2121.67 L195.7,2120.95 L197.4,2120.22 L199.2,2119.48 L200.9,2118.71 L202.7,2117.94 L204.4,2117.15 L206.1,2116.35 L207.8,2115.54 L209.5,2114.71 L211.2,2113.87 L212.8,2113.02 L214.5,2112.15 L216.1,2111.27 L217.8,2110.38 L219.4,2109.47 L221.0,2108.55 L222.6,2107.61 L224.1,2106.66 L225.7,2105.69 L227.2,2104.71 L228.8,2103.71 L230.3,2102.69 L231.8,2101.66 L233.2,2100.62 L234.7,2099.56 L236.1,2098.48 L237.5,2097.39 L238.9,2096.29 L240.3,2095.17 L241.7,2094.04 L243.0,2092.91 L244.3,2091.76 L245.7,2090.60 L247.0,2089.43 L248.3,2088.26 L249.5,2087.07 L250.8,2085.88 L252.1,2084.68 L253.3,2083.47 L254.5,2082.26 L255.8,2081.04 L257.0,2079.81 L258.2,2078.57 L259.3,2077.32 L260.5,2076.07 L261.7,2074.81 L262.8,2073.55 L263.9,2072.27 L265.0,2070.99 L266.1,2069.71 L267.2,2068.41 L268.3,2067.11 L269.4,2065.81 L270.4,2064.50 L271.5,2063.19 L272.5,2061.87 L273.5,2060.55 L274.5,2059.22 L275.6,2057.90 L276.6,2056.56 L277.6,2055.22 L278.5,2053.88 L279.5,2052.54 L280.5,2051.19 L281.5,2049.84 L282.4,2048.49 L283.3,2047.13 L284.3,2045.77 L285.2,2044.40 L286.1,2043.03 L287.0,2041.66 L287.9,2040.28 L288.8,2038.90 L289.7,2037.51 L290.5,2036.12 L291.4,2034.73 L292.2,2033.33 L293.0,2031.92 L293.8,2030.51 L294.6,2029.10 L295.4,2027.68 L296.2,2026.25 L296.9,2024.82 L297.6,2023.39 L298.4,2021.95 L299.1,2020.51 L299.8,2019.07 L300.5,2017.62 L301.1,2016.17 L301.8,2014.72 L302.5,2013.27 L303.1,2011.81 L303.8,2010.36 L304.4,2008.90 L305.1,2007.44 L305.7,2005.98 L306.3,2004.52 L307.0,2003.06 L307.6,2001.60 L308.2,2000.13 L308.8,1998.67 L309.5,1997.21 L310.1,1995.74 L310.7,1994.27 L311.3,1992.81 L311.9,1991.34 L312.5,1989.87 L313.1,1988.39 L313.7,1986.92 L314.3,1985.45 L314.8,1983.97 L315.4,1982.50 L316.0,1981.02 L316.6,1979.55 L317.1,1978.07 L317.7,1976.60 L318.3,1975.12 L318.9,1973.65 L319.4,1972.17 L320.0,1970.69 L320.6,1969.22 L321.1,1967.74 L321.7,1966.26 L322.3,1964.79 L322.8,1963.31 L323.4,1961.83 L324.0,1960.35 L324.5,1958.87 L325.1,1957.40 L325.6,1955.92 L326.2,1954.44 L326.7,1952.96 L327.3,1951.47 L327.8,1949.99 L328.4,1948.51 L328.9,1947.03 L329.5,1945.54 L330.0,1944.06 L330.5,1942.57 L331.0,1941.09 L331.6,1939.60 L332.1,1938.11 L332.6,1936.62 L333.1,1935.14 L333.6,1933.65 L334.1,1932.15 L334.6,1930.66 L335.1,1929.17 L335.6,1927.68 L336.1,1926.18 L336.6,1924.69 L337.0,1923.19 L337.5,1921.69 L338.0,1920.19 L338.4,1918.69 L338.9,1917.19 L339.3,1915.69 L339.7,1914.19 L340.2,1912.68 L340.6,1911.18 L341.0,1909.67 L341.4,1908.17 L341.8,1906.66 L342.3,1905.15 L342.7,1903.64 L343.0,1902.13 L343.4,1900.62 L343.8,1899.11 L344.2,1897.60 L344.6,1896.09 L345.0,1894.58 L345.3,1893.06 L345.7,1891.55 L346.1,1890.04 L346.5,1888.52 L346.8,1887.01 L347.2,1885.49 L347.5,1883.98 L347.9,1882.46 L348.2,1880.95 L348.6,1879.43 L348.9,1877.91 L349.3,1876.39 L349.6,1874.88 L350.0,1873.36 L350.3,1871.84 L350.6,1870.32 L351.0,1868.80 L351.3,1867.28 L351.6,1865.76 L351.9,1864.25 L352.3,1862.73 L352.6,1861.21 L352.9,1859.68 L353.2,1858.16 L353.5,1856.64 L353.9,1855.12 L354.2,1853.60 L354.5,1852.08 L354.8,1850.56 L355.1,1849.04 L355.4,1847.51 L355.7,1845.99 L356.0,1844.47 L356.3,1842.95 L356.6,1841.43 L356.9,1839.90 L357.2,1838.38 L357.5,1836.86 L357.8,1835.33 L358.1,1833.81 L358.4,1832.29 L358.7,1830.76 L359.0,1829.24 L359.3,1827.72 L359.6,1826.19 L359.9,1824.67 L360.2,1823.15 L360.5,1821.62 L360.8,1820.10 L361.0,1818.58 L361.3,1817.05 L361.6,1815.53 L361.9,1814.01 L362.2,1812.48 L362.5,1810.96 L362.8,1809.43 L363.1,1807.91 L363.4,1806.39 L363.7,1804.86 L364.0,1803.34 L364.3,1801.82 L364.6,1800.29 L364.8,1798.77 L365.1,1797.25 L365.4,1795.72 L365.7,1794.20 L366.0,1792.68 L366.3,1791.15 L366.6,1789.63 L366.9,1788.11 L367.2,1786.58 L367.5,1785.06 L367.8,1783.54 L368.1,1782.02 L368.4,1780.49 L368.7,1778.97 L369.0,1777.45 L369.3,1775.92 L369.6,1774.40 L369.9,1772.88 L370.2,1771.35 L370.5,1769.83 L370.8,1768.31 L371.0,1766.78 L371.3,1765.26 L371.6,1763.73 L371.9,1762.21 L372.2,1760.69 L372.5,1759.16 L372.8,1757.64 L373.1,1756.11 L373.4,1754.59 L373.7,1753.07 L373.9,1751.54 L374.2,1750.02 L374.5,1748.49 L374.8,1746.97 L375.1,1745.44 L375.4,1743.92 L375.6,1742.40 L375.9,1740.87 L376.2,1739.35 L376.5,1737.82 L376.8,1736.30 L377.1,1734.77 L377.3,1733.25 L377.6,1731.72 L377.9,1730.20 L378.2,1728.67 L378.4,1727.15 L378.7,1725.62 L379.0,1724.09 L379.3,1722.57 L379.5,1721.04 L379.8,1719.52 L380.1,1717.99 L380.3,1716.47 L380.6,1714.94 L380.9,1713.41 L381.2,1711.89 L381.4,1710.36 L381.7,1708.83 L382.0,1707.31 L382.2,1705.78 L382.5,1704.25 L382.7,1702.73 L383.0,1701.20 L383.3,1699.67 L383.5,1698.15 L383.8,1696.62 L384.0,1695.09 L384.3,1693.56 L384.5,1692.04 L384.8,1690.51 L385.0,1688.98 L385.3,1687.45 L385.5,1685.92 L385.8,1684.40 L386.0,1682.87 L386.3,1681.34 L386.5,1679.81 L386.8,1678.28 L387.0,1676.75 L387.3,1675.22 L387.5,1673.69 L387.7,1672.17 L388.0,1670.64 L388.2,1669.11 L388.4,1667.58 L388.7,1666.05 L388.9,1664.52 L389.1,1662.99 L389.4,1661.46 L389.6,1659.93 L389.8,1658.40 L390.0,1656.87 L390.2,1655.34 L390.5,1653.80 L390.7,1652.27 L390.9,1650.74 L391.1,1649.21 L391.3,1647.68 L391.6,1646.15 L391.8,1644.62 L392.0,1643.09 L392.2,1641.56 L392.4,1640.02 L392.6,1638.49 L392.8,1636.96 L393.1,1635.43 L393.3,1633.90 L393.5,1632.37 L393.7,1630.84 L393.9,1629.31 L394.1,1627.77 L394.3,1626.24 L394.5,1624.71 L394.8,1623.18 L395.0,1621.65 L395.2,1620.12 L395.4,1618.59 L395.6,1617.05 L395.8,1615.52 L396.0,1613.99 L396.2,1612.46 L396.5,1610.93 L396.7,1609.40 L396.9,1607.87 L397.1,1606.34 L397.3,1604.80 L397.5,1603.27 L397.8,1601.74 L398.0,1600.21 L398.2,1598.68 L398.4,1597.15 L398.6,1595.62 L398.8,1594.09 L399.0,1592.55 L399.2,1591.02 L399.5,1589.49 L399.7,1587.96 L399.9,1586.43 L400.1,1584.90 L400.3,1583.36 L400.5,1581.83 L400.7,1580.30 L400.9,1578.77 L401.1,1577.24 L401.3,1575.70 L401.5,1574.17 L401.7,1572.64 L401.9,1571.11 L402.1,1569.57 L402.3,1568.04 L402.5,1566.51 L402.7,1564.97 L402.9,1563.44 L403.0,1561.91 L403.2,1560.37 L403.4,1558.84 L403.6,1557.31 L403.8,1555.77 L403.9,1554.24 L404.1,1552.70 L404.3,1551.17 L404.4,1549.63 L404.6,1548.10 L404.8,1546.56 L404.9,1545.03 L405.1,1543.49 L405.3,1541.96 L405.4,1540.42 L405.6,1538.89 L405.7,1537.35 L405.9,1535.82 L406.1,1534.28 L406.2,1532.75 L406.4,1531.21 L406.5,1529.68 L406.7,1528.14 L406.9,1526.61 L407.0,1525.07 L407.2,1523.54 L407.3,1522.00 L407.5,1520.47 L407.7,1518.93 L407.8,1517.40 L408.0,1515.86 L408.1,1514.33 L408.3,1512.79 L408.5,1511.26 L408.6,1509.72 L408.8,1508.19 L409.0,1506.65 L409.2,1505.12 L409.3,1503.59 L409.5,1502.05 L409.7,1500.52 L409.9,1498.98 L410.1,1497.45 L410.2,1495.92 L410.4,1494.38 L410.6,1492.85 L410.8,1491.32 L411.0,1489.78 L411.2,1488.25 L411.4,1486.72 L411.6,1485.18 L411.8,1483.65 L411.9,1482.12 L412.1,1480.58 L412.3,1479.05 L412.5,1477.52 L412.7,1475.99 L412.9,1474.45 L413.1,1472.92 L413.3,1471.39 L413.5,1469.85 L413.7,1468.32 L413.9,1466.79 L414.1,1465.26 L414.3,1463.72 L414.5,1462.19 L414.7,1460.66 L414.9,1459.12 L415.1,1457.59 L415.2,1456.06 L415.4,1454.53 L415.6,1452.99 L415.8,1451.46 L416.0,1449.93 L416.2,1448.39 L416.4,1446.86 L416.6,1445.33 L416.7,1443.79 L416.9,1442.26 L417.1,1440.72 L417.3,1439.19 L417.5,1437.66 L417.6,1436.12 L417.8,1434.59 L418.0,1433.05 L418.2,1431.52 L418.3,1429.99 L418.5,1428.45 L418.7,1426.92 L418.9,1425.38 L419.0,1423.85 L419.2,1422.31 L419.4,1420.78 L419.6,1419.25 L419.7,1417.71 L419.9,1416.18 L420.1,1414.64 L420.2,1413.11 L420.4,1411.57 L420.6,1410.04 L420.8,1408.51 L420.9,1406.97 L421.1,1405.44 L421.3,1403.90 L421.5,1402.37 L421.7,1400.84 L421.8,1399.30 L422.0,1397.77 L422.2,1396.23 L422.4,1394.70 L422.6,1393.17 L422.8,1391.63 L422.9,1390.10 L423.1,1388.57 L423.3,1387.03 L423.5,1385.50 L423.7,1383.97 L423.9,1382.44 L424.1,1380.90 L424.3,1379.37 L424.5,1377.84 L424.7,1376.31 L424.9,1374.77 L425.1,1373.24 L425.3,1371.71 L425.6,1370.18 L425.8,1368.65 L426.0,1367.12 L426.2,1365.59 L426.5,1364.06 L426.7,1362.53 L426.9,1361.00 L427.2,1359.47 L427.4,1357.95 L427.7,1356.42 L427.9,1354.89 L428.2,1353.36 L428.5,1351.84 L428.7,1350.31 L429.0,1348.78 L429.3,1347.26 L429.5,1345.73 L429.8,1344.20 L430.1,1342.68 L430.4,1341.15 L430.6,1339.63 L430.9,1338.10 L431.2,1336.58 L431.4,1335.05 L431.7,1333.52 L431.9,1331.99 L432.1,1330.46 L432.4,1328.93 L432.7,1327.41 L433.1,1325.90 L433.7,1324.44 L434.8,1323.15 L436.0,1321.92 L437.3,1323.11 L438.4,1324.36 L439.1,1325.81 L439.5,1327.32 L439.8,1328.84 L440.0,1330.37 L440.2,1331.90 L440.4,1333.43 L440.6,1334.96 L440.9,1336.49 L441.2,1338.01 L441.5,1339.54 L441.7,1341.06 L442.0,1342.58 L442.3,1344.11 L442.6,1345.63 L442.8,1347.16 L443.1,1348.68 L443.4,1350.21 L443.7,1351.73 L444.0,1353.25 L444.2,1354.78 L444.5,1356.30 L444.8,1357.83 L445.1,1359.35 L445.3,1360.87 L445.6,1362.40 L445.9,1363.92 L446.2,1365.45 L446.5,1366.97 L446.8,1368.49 L447.0,1370.02 L447.3,1371.54 L447.6,1373.06 L447.9,1374.59 L448.2,1376.11 L448.5,1377.63 L448.7,1379.16 L449.0,1380.68 L449.3,1382.21 L449.6,1383.73 L449.9,1385.25 L450.2,1386.78 L450.4,1388.30 L450.7,1389.82 L451.0,1391.35 L451.3,1392.87 L451.6,1394.40 L451.8,1395.92 L452.1,1397.44 L452.4,1398.97 L452.7,1400.49 L453.0,1402.01 L453.3,1403.54 L453.5,1405.06 L453.8,1406.59 L454.1,1408.11 L454.4,1409.63 L454.7,1411.15 L455.0,1412.68 L455.3,1414.20 L455.5,1415.72 L455.8,1417.25 L456.1,1418.77 L456.4,1420.29 L456.7,1421.81 L457.0,1423.34 L457.3,1424.86 L457.6,1426.38 L457.9,1427.90 L458.2,1429.42 L458.5,1430.94 L458.8,1432.46 L459.1,1433.99 L459.5,1435.51 L459.8,1437.03 L460.1,1438.55 L460.4,1440.07 L460.7,1441.59 L461.0,1443.10 L461.4,1444.62 L461.7,1446.14 L462.0,1447.66 L462.3,1449.18 L462.7,1450.70 L463.0,1452.21 L463.3,1453.73 L463.7,1455.25 L464.0,1456.76 L464.4,1458.28 L464.7,1459.80 L465.1,1461.31 L465.4,1462.83 L465.8,1464.34 L466.1,1465.85 L466.5,1467.37 L466.9,1468.88 L467.2,1470.40 L467.6,1471.91 L468.0,1473.42 L468.3,1474.93 L468.7,1476.45 L469.1,1477.96 L469.5,1479.47 L469.8,1480.98 L470.2,1482.49 L470.6,1484.00 L471.0,1485.51 L471.4,1487.02 L471.8,1488.53 L472.2,1490.04 L472.5,1491.55 L472.9,1493.06 L473.3,1494.57 L473.7,1496.08 L474.1,1497.58 L474.5,1499.09 L474.9,1500.60 L475.3,1502.11 L475.7,1503.61 L476.1,1505.12 L476.6,1506.63 L477.0,1508.14 L477.4,1509.64 L477.8,1511.15 L478.2,1512.66 L478.6,1514.16 L479.0,1515.67 L479.4,1517.17 L479.8,1518.68 L480.3,1520.18 L480.7,1521.69 L481.1,1523.19 L481.5,1524.70 L482.0,1526.20 L482.4,1527.71 L482.8,1529.21 L483.2,1530.71 L483.7,1532.21 L484.1,1533.72 L484.6,1535.22 L485.0,1536.72 L485.4,1538.22 L485.9,1539.72 L486.3,1541.22 L486.8,1542.71 L487.3,1544.21 L487.7,1545.71 L488.2,1547.21 L488.7,1548.70 L489.2,1550.20 L489.6,1551.69 L490.1,1553.18 L490.6,1554.67 L491.1,1556.17 L491.6,1557.66 L492.1,1559.15 L492.6,1560.63 L493.1,1562.12 L493.7,1563.61 L494.2,1565.09 L494.7,1566.57 L495.3,1568.06 L495.8,1569.54 L496.4,1571.02 L496.9,1572.50 L497.5,1573.97 L498.0,1575.45 L498.6,1576.93 L499.2,1578.40 L499.8,1579.87 L500.3,1581.34 L500.9,1582.81 L501.5,1584.28 L502.1,1585.75 L502.7,1587.22 L503.3,1588.69 L504.0,1590.15 L504.6,1591.62 L505.2,1593.08 L505.8,1594.54 L506.4,1596.00 L507.1,1597.46 L507.7,1598.92 L508.4,1600.38 L509.0,1601.84 L509.6,1603.29 L510.3,1604.75 L510.9,1606.21 L511.6,1607.66 L512.3,1609.11 L512.9,1610.57 L513.6,1612.02 L514.2,1613.47 L514.9,1614.92 L515.6,1616.37 L516.3,1617.82 L516.9,1619.27 L517.6,1620.72 L518.3,1622.16 L519.0,1623.61 L519.7,1625.05 L520.4,1626.49 L521.1,1627.94 L521.8,1629.38 L522.5,1630.82 L523.2,1632.25 L523.9,1633.69 L524.7,1635.12 L525.4,1636.55 L526.1,1637.98 L526.9,1639.41 L527.6,1640.84 L528.4,1642.26 L529.2,1643.68 L529.9,1645.10 L530.7,1646.51 L531.5,1647.93 L532.3,1649.34 L533.1,1650.74 L534.0,1652.15 L534.8,1653.55 L535.6,1654.94 L536.5,1656.34 L537.3,1657.72 L538.2,1659.11 L539.1,1660.49 L540.0,1661.87 L540.9,1663.25 L541.8,1664.62 L542.7,1665.98 L543.6,1667.35 L544.6,1668.71 L545.5,1670.06 L546.5,1671.41 L547.5,1672.76 L548.4,1674.10 L549.4,1675.44 L550.4,1676.78 L551.4,1678.11 L552.4,1679.43 L553.5,1680.75 L554.5,1682.07 L555.6,1683.38 L556.6,1684.68 L557.7,1685.98 L558.8,1687.28 L559.9,1688.56 L561.0,1689.85 L562.1,1691.13 L563.2,1692.40 L564.4,1693.66 L565.5,1694.93 L566.7,1696.18 L567.8,1697.44 L569.0,1698.68 L570.2,1699.93 L571.4,1701.17 L572.5,1702.40 L573.7,1703.63 L575.0,1704.86 L576.2,1706.09 L577.4,1707.31 L578.6,1708.52 L579.8,1709.74 L581.1,1710.95 L582.3,1712.16 L583.6,1713.36 L584.8,1714.57 L586.1,1715.77 L587.3,1716.96 L588.6,1718.16 L589.8,1719.35 L591.1,1720.53 L592.4,1721.71 L593.7,1722.89 L595.0,1724.06 L596.3,1725.23 L597.6,1726.39 L598.9,1727.55 L600.3,1728.70 L601.6,1729.84 L602.9,1730.98 L604.3,1732.11 L605.7,1733.23 L607.1,1734.34 L608.4,1735.45 L609.9,1736.54 L611.3,1737.63 L612.7,1738.70 L614.1,1739.77 L615.6,1740.82 L617.1,1741.87 L618.6,1742.90 L620.1,1743.92 L621.6,1744.93 L623.1,1745.94 L624.6,1746.93 L626.1,1747.92 L627.7,1748.90 L629.2,1749.87 L630.8,1750.84 L632.3,1751.81 L633.9,1752.77 L635.5,1753.72 L637.1,1754.67 L638.6,1755.61 L640.2,1756.55 L641.8,1757.48 L643.4,1758.40 L645.0,1759.31 L646.7,1760.21 L648.3,1761.10 L649.9,1761.97 L651.6,1762.83 L653.3,1763.68 L655.0,1764.51 L656.7,1765.32 L658.4,1766.12 L660.1,1766.90 L661.8,1767.66 L663.6,1768.41 L665.3,1769.15 L667.1,1769.88 L668.9,1770.59 L670.6,1771.30 L672.4,1772.00 L674.2,1772.70 L676.0,1773.39 L677.8,1774.08 L679.6,1774.77 L681.4,1775.46 L683.1,1776.15 L684.9,1776.84 L686.7,1777.53 L688.5,1778.23 L690.3,1778.92 L692.1,1779.61 L693.9,1780.29 L695.7,1780.98 L697.5,1781.65 L699.3,1782.33 L701.1,1782.99 L702.9,1783.65 L704.7,1784.30 L706.5,1784.94 L708.3,1785.57 L710.2,1786.18 L712.0,1786.79 L713.9,1787.38 L715.7,1787.95 L717.6,1788.52 L719.4,1789.07 L721.3,1789.60 L723.2,1790.13 L725.1,1790.65 L727.0,1791.16 L728.9,1791.67 L730.8,1792.16 L732.7,1792.65 L734.6,1793.14 L736.5,1793.62 L738.4,1794.09 L740.3,1794.56 L742.2,1795.03 L744.1,1795.49 L746.0,1795.94 L747.9,1796.39 L749.8,1796.84 L751.7,1797.28 L753.7,1797.72 L755.6,1798.15 L757.5,1798.58 L759.4,1799.00 L761.3,1799.42 L763.3,1799.84 L765.2,1800.25 L767.1,1800.66 L769.1,1801.06 L771.0,1801.46 L772.9,1801.86 L774.9,1802.25 L776.8,1802.64 L778.7,1803.03 L780.7,1803.41 L782.6,1803.79 L784.6,1804.16 L786.5,1804.54 L788.4,1804.90 L790.4,1805.27 L792.3,1805.63 L794.3,1805.99 L796.2,1806.35 L798.2,1806.70 L800.1,1807.05 L802.1,1807.40 L804.0,1807.74 L806.0,1808.09 L807.9,1808.42 L809.9,1808.76 L811.8,1809.10 L813.8,1809.43 L815.7,1809.76 L817.7,1810.08 L819.6,1810.41 L821.6,1810.73 L823.5,1811.05 L825.5,1811.37 L827.5,1811.69 L829.4,1812.00 L831.4,1812.32 L833.3,1812.63 L835.3,1812.93 L837.3,1813.24 L839.2,1813.54 L841.2,1813.85 L843.1,1814.15 L845.1,1814.45 L847.1,1814.74 L849.0,1815.04 L851.0,1815.33 L853.0,1815.62 L854.9,1815.90 L856.9,1816.19 L858.9,1816.47 L860.8,1816.75 L862.8,1817.03 L864.8,1817.31 L866.7,1817.58 L868.7,1817.85 L870.7,1818.12 L872.7,1818.38 L874.6,1818.65 L876.6,1818.91 L878.6,1819.17 L880.5,1819.43 L882.5,1819.68 L884.5,1819.93 L886.5,1820.18 L888.4,1820.43 L890.4,1820.67 L892.4,1820.91 L894.4,1821.15 L896.3,1821.38 L898.3,1821.62 L900.3,1821.85 L902.3,1822.08 L904.3,1822.30 L906.2,1822.52 L908.2,1822.74 L910.2,1822.96 L912.2,1823.17 L914.2,1823.38 L916.1,1823.59 L918.1,1823.80 L920.1,1824.00 L922.1,1824.20 L924.1,1824.39 L926.1,1824.59 L928.0,1824.78 L930.0,1824.97 L932.0,1825.16 L934.0,1825.35 L936.0,1825.53 L938.0,1825.71 L940.0,1825.89 L942.0,1826.07 L943.9,1826.25 L945.9,1826.42 L947.9,1826.59 L949.9,1826.76 L951.9,1826.93 L953.9,1827.10 L955.9,1827.27 L957.9,1827.43 L959.9,1827.60 L961.8,1827.76 L963.8,1827.92 L965.8,1828.08 L967.8,1828.23 L969.8,1828.39 L971.8,1828.54 L973.8,1828.70 L975.8,1828.85 L977.8,1829.00 L979.8,1829.15 L981.7,1829.30 L983.7,1829.45 L985.7,1829.59 L987.7,1829.74 L989.7,1829.88 L991.7,1830.03 L993.7,1830.17 L995.7,1830.31 L997.7,1830.45 L999.7,1830.59 L1001.7,1830.73 L1003.7,1830.87 L1005.7,1831.01 L1007.6,1831.15 L1009.6,1831.29 L1011.6,1831.42 L1013.6,1831.56 L1015.6,1831.70 L1017.6,1831.83 L1019.6,1831.97 L1021.6,1832.10 L1023.6,1832.24 L1025.6,1832.37 L1027.6,1832.50 L1029.6,1832.64 L1031.6,1832.77 L1033.6,1832.90 L1035.6,1833.03 L1037.5,1833.16 L1039.5,1833.29 L1041.5,1833.42 L1043.5,1833.54 L1045.5,1833.67 L1047.5,1833.80 L1049.5,1833.92 L1051.5,1834.05 L1053.5,1834.17 L1055.5,1834.29 L1057.5,1834.42 L1059.5,1834.54 L1061.5,1834.66 L1063.5,1834.78 L1065.5,1834.90 L1067.5,1835.02 L1069.5,1835.14 L1071.5,1835.26 L1073.4,1835.37 L1075.4,1835.49 L1077.4,1835.60 L1079.4,1835.72 L1081.4,1835.83 L1083.4,1835.95 L1085.4,1836.06 L1087.4,1836.17 L1089.4,1836.29 L1091.4,1836.40 L1093.4,1836.51 L1095.4,1836.62 L1097.4,1836.73 L1099.4,1836.83 L1101.4,1836.94 L1103.4,1837.05 L1105.4,1837.16 L1107.4,1837.26 L1109.4,1837.37 L1111.4,1837.47 L1113.4,1837.58 L1115.4,1837.68 L1117.4,1837.78 L1119.4,1837.89 L1121.3,1837.99 L1123.3,1838.09 L1125.3,1838.19 L1127.3,1838.29 L1129.3,1838.39 L1131.3,1838.49 L1133.3,1838.59 L1135.3,1838.69 L1137.3,1838.79 L1139.3,1838.89 L1141.3,1838.99 L1143.3,1839.09 L1145.3,1839.18 L1147.3,1839.28 L1149.3,1839.38 L1151.3,1839.47 L1153.3,1839.57 L1155.3,1839.67 L1157.3,1839.76 L1159.3,1839.86 L1161.3,1839.95 L1163.3,1840.05 L1165.3,1840.14 L1167.3,1840.23 L1169.3,1840.33 L1171.3,1840.42 L1173.3,1840.51 L1175.3,1840.61 L1177.3,1840.70 L1179.3,1840.79 L1181.3,1840.88 L1183.3,1840.98 L1185.2,1841.07 L1187.2,1841.16 L1189.2,1841.25 L1191.2,1841.34 L1193.2,1841.43 L1195.2,1841.52 L1197.2,1841.61 L1199.2,1841.70 L1201.2,1841.79 L1203.2,1841.87 L1205.2,1841.96 L1207.2,1842.05 L1209.2,1842.14 L1211.2,1842.23 L1213.2,1842.31 L1215.2,1842.40 L1217.2,1842.49 L1219.2,1842.57 L1221.2,1842.66 L1223.2,1842.75 L1225.2,1842.83 L1227.2,1842.92 L1229.2,1843.00 L1231.2,1843.09 L1233.2,1843.17 L1235.2,1843.26 L1237.2,1843.34 L1239.2,1843.42 L1241.2,1843.51 L1243.2,1843.59 L1245.2,1843.67 L1247.2,1843.76 L1249.2,1843.84 L1251.2,1843.92 L1253.2,1844.00 L1255.2,1844.09 L1257.2,1844.17 L1259.2,1844.25 L1261.2,1844.33 L1263.2,1844.41 L1265.2,1844.49 L1267.2,1844.57 L1269.2,1844.65 L1271.2,1844.73 L1273.2,1844.81 L1275.1,1844.89 L1277.1,1844.97 L1279.1,1845.05 L1281.1,1845.13 L1283.1,1845.21 L1285.1,1845.29 L1287.1,1845.37 L1289.1,1845.45 L1291.1,1845.53 L1293.1,1845.60 L1295.1,1845.68 L1297.1,1845.76 L1299.1,1845.84 L1301.1,1845.91 L1303.1,1845.99 L1305.1,1846.07 L1307.1,1846.14 L1309.1,1846.22 L1311.1,1846.30 L1313.1,1846.37 L1315.1,1846.45 L1317.1,1846.53 L1319.1,1846.60 L1321.1,1846.68 L1323.1,1846.75 L1325.1,1846.83 L1327.1,1846.90 L1329.1,1846.98 L1331.1,1847.05 L1333.1,1847.13 L1335.1,1847.20 L1337.1,1847.28 L1339.1,1847.35 L1341.1,1847.42 L1343.1,1847.50 L1345.1,1847.57 L1347.1,1847.64 L1349.1,1847.72 L1351.1,1847.79 L1353.1,1847.86 L1355.1,1847.94 L1357.1,1848.01 L1359.1,1848.08 L1361.1,1848.15 L1363.1,1848.23 L1365.1,1848.30 L1367.1,1848.37 L1369.1,1848.44 L1371.1,1848.51 L1373.1,1848.58 L1375.1,1848.66 L1377.1,1848.73 L1379.1,1848.80 L1381.1,1848.87 L1383.1,1848.94 L1385.1,1849.01 L1387.1,1849.08 L1389.1,1849.15 L1391.1,1849.22 L1393.1,1849.29 L1395.1,1849.36 L1397.1,1849.43 L1399.1,1849.49 L1401.1,1849.56 L1403.1,1849.63 L1405.1,1849.70 L1407.1,1849.77 L1409.1,1849.84 L1411.0,1849.91 L1413.0,1849.97 L1415.0,1850.04 L1417.0,1850.11 L1419.0,1850.17 L1421.0,1850.24 L1423.0,1850.31 L1425.0,1850.38 L1427.0,1850.44 L1429.0,1850.51 L1431.0,1850.57 L1433.0,1850.64 L1435.0,1850.71 L1437.0,1850.77 L1439.0,1850.84 L1441.0,1850.90 L1443.0,1850.97 L1445.0,1851.03 L1447.0,1851.10 L1449.0,1851.16 L1451.0,1851.22 L1453.0,1851.29 L1455.0,1851.35 L1457.0,1851.41 L1459.0,1851.48 L1461.0,1851.54 L1463.0,1851.60 L1465.0,1851.67 L1467.0,1851.73 L1469.0,1851.79 L1471.0,1851.85 L1473.0,1851.91 L1475.0,1851.98 L1477.0,1852.04 L1479.0,1852.10 L1481.0,1852.16 L1483.0,1852.22 L1485.0,1852.28 L1487.0,1852.34 L1489.0,1852.40 L1491.0,1852.46 L1493.0,1852.52 L1495.0,1852.58 L1497.0,1852.64 L1499.0,1852.70 L1501.0,1852.76 L1503.0,1852.82 L1505.0,1852.88 L1507.0,1852.93 L1509.0,1852.99 L1511.0,1853.05 L1513.0,1853.11 L1515.0,1853.16 L1517.0,1853.22 L1519.0,1853.28 L1521.0,1853.33 L1523.0,1853.39 L1525.0,1853.45 L1527.0,1853.50 L1529.0,1853.56 L1531.0,1853.62 L1533.0,1853.67 L1535.0,1853.73 L1537.0,1853.78 L1539.0,1853.84 L1541.0,1853.89 L1543.0,1853.95 L1545.0,1854.00 L1547.0,1854.05 L1549.0,1854.11 L1551.0,1854.16 L1553.0,1854.22 L1555.0,1854.27 L1557.0,1854.32 L1559.0,1854.38 L1561.0,1854.43 L1563.0,1854.48 L1565.0,1854.54 L1567.0,1854.59 L1569.0,1854.64 L1571.0,1854.69 L1573.0,1854.75 L1575.0,1854.80 L1577.0,1854.85 L1579.0,1854.90 L1581.0,1854.95 L1583.0,1855.00 L1585.0,1855.06 L1587.0,1855.11 L1589.0,1855.16 L1591.0,1855.21 L1593.0,1855.26 L1595.0,1855.31 L1597.0,1855.36 L1599.0,1855.41 L1601.0,1855.46 L1603.0,1855.51 L1605.0,1855.56 L1607.0,1855.61 L1609.0,1855.66 L1611.0,1855.71 L1613.0,1855.76 L1615.0,1855.81 L1617.0,1855.86 L1619.0,1855.91 L1621.0,1855.95 L1623.0,1856.00 L1625.0,1856.05 L1627.0,1856.10 L1629.0,1856.15 L1631.0,1856.20 L1633.0,1856.25 L1635.0,1856.29 L1637.0,1856.34 L1639.0,1856.39 L1641.0,1856.44 L1643.0,1856.49 L1645.0,1856.53 L1647.0,1856.58 L1649.0,1856.63 L1651.0,1856.68 L1653.0,1856.72 L1655.0,1856.77 L1657.0,1856.82 L1659.0,1856.86 L1661.0,1856.91 L1663.0,1856.96 L1665.0,1857.00 L1667.0,1857.05 L1669.0,1857.10 L1671.0,1857.14 L1673.0,1857.19 L1675.0,1857.24 L1677.0,1857.28 L1679.0,1857.33 L1681.0,1857.38 L1683.0,1857.42 L1685.0,1857.47 L1687.0,1857.51 L1689.0,1857.56 L1691.0,1857.61 L1693.0,1857.65 L1695.0,1857.70 L1697.0,1857.74 L1699.0,1857.79 L1701.0,1857.83 L1703.0,1857.88 L1705.0,1857.92 L1707.0,1857.97 L1709.0,1858.01 L1711.0,1858.06 L1713.0,1858.11 L1715.0,1858.15 L1717.0,1858.20 L1719.0,1858.24 L1721.0,1858.29 L1723.0,1858.33 L1725.0,1858.38 L1727.0,1858.42 L1729.0,1858.47 L1731.0,1858.51 L1733.0,1858.56 L1735.0,1858.60 L1737.0,1858.64 L1739.0,1858.69 L1741.0,1858.73 L1743.0,1858.78 L1745.0,1858.82 L1747.0,1858.87 L1749.0,1858.91 L1751.0,1858.96 L1753.0,1859.00 L1755.0,1859.05 L1757.0,1859.09 L1759.0,1859.13 L1761.0,1859.18 L1763.0,1859.22 L1765.0,1859.27 L1767.0,1859.31 L1769.0,1859.35 L1771.0,1859.40 L1773.0,1859.44 L1775.0,1859.49 L1777.0,1859.53 L1779.0,1859.57 L1781.0,1859.62 L1783.0,1859.66 L1785.0,1859.70 L1787.0,1859.75 L1789.0,1859.79 L1791.0,1859.84 L1793.0,1859.88 L1795.0,1859.92 L1797.0,1859.96 L1799.0,1860.01 L1801.0,1860.05 L1803.0,1860.09 L1805.0,1860.14 L1807.0,1860.18 L1809.0,1860.22 L1811.0,1860.27 L1813.0,1860.31 L1815.0,1860.35 L1817.0,1860.39 L1819.0,1860.44 L1821.0,1860.48 L1823.0,1860.52 L1825.0,1860.56 L1827.0,1860.60 L1829.0,1860.65 L1831.0,1860.69 L1833.0,1860.73 L1835.0,1860.77 L1837.0,1860.81 L1839.0,1860.86 L1841.0,1860.90 L1843.0,1860.94 L1845.0,1860.98 L1847.0,1861.02 L1849.0,1861.07 L1851.0,1861.11 L1853.0,1861.15 L1855.0,1861.19 L1857.0,1861.23 L1859.0,1861.27 L1861.0,1861.31 L1863.0,1861.35 L1865.0,1861.39 L1867.0,1861.44 L1869.0,1861.48 L1871.0,1861.52 L1873.0,1861.56 L1875.0,1861.60 L1877.0,1861.64 L1879.0,1861.68 L1881.0,1861.72 L1883.0,1861.76 L1885.0,1861.80 L1887.0,1861.84 L1889.0,1861.88 L1891.0,1861.92 L1893.0,1861.96 L1895.0,1862.00 L1897.0,1862.04 L1899.0,1862.08 L1901.0,1862.12 L1903.0,1862.16 L1905.0,1862.20 L1907.0,1862.24 L1909.0,1862.28 L1911.0,1862.32 L1913.0,1862.36 L1915.0,1862.40 L1917.0,1862.44 L1919.0,1862.48 L1921.0,1862.51 L1923.0,1862.55 L1925.0,1862.59 L1927.0,1862.63 L1929.0,1862.67 L1931.0,1862.71 L1933.0,1862.75 L1935.0,1862.79 L1937.0,1862.82 L1939.0,1862.86 L1941.0,1862.90 L1943.0,1862.94 L1945.0,1862.98 L1947.0,1863.02 L1949.0,1863.05 L1951.0,1863.09 L1953.0,1863.13 L1955.0,1863.17 L1957.0,1863.21 L1959.0,1863.24 L1961.0,1863.28 L1963.0,1863.32 L1965.0,1863.36 L1967.0,1863.39 L1969.0,1863.43 L1971.0,1863.47 L1973.0,1863.50 L1975.0,1863.54 L1977.0,1863.58 L1979.0,1863.62"/>
</g></g>
<rect x="1728.0" y="117.0" width="228.0" height="325.0" fill="#ffffff"/>
<g fill="#1c1c1c">
<rect x="1727.00" y="115.80" width="230.00" height="2.40"/>
<rect x="1727.00" y="440.80" width="230.00" height="2.40"/>
<rect x="1727.00" y="117.00" width="2.00" height="325.00"/>
<rect x="1955.00" y="117.00" width="2.00" height="325.00"/>
</g>
<rect x="1734" y="156.3" width="71" height="9" fill="#ff0000" shape-rendering="crispEdges"/>
<text transform="translate(0 185.38) scale(0.7291 1)" font-family="&quot;Liberation Sans&quot;, sans-serif" font-size="63.70" fill="#000"><tspan x="2481.62" y="0.9" font-family="&quot;Liberation Serif&quot;, serif" font-style="italic" font-size="63.60">δ</tspan><tspan x="2509.72" y="0">=<tspan dx="3.02">1</tspan></tspan></text>
<rect x="1861.59" y="178.12" width="9.14" height="8.26" fill="#fff"/>
<rect x="1874.84" y="178.12" width="8.78" height="8.26" fill="#fff"/>
<rect x="1734" y="235.4" width="71" height="9" fill="#000000" shape-rendering="crispEdges"/>
<text transform="translate(0 264.98) scale(0.7291 1)" font-family="&quot;Liberation Sans&quot;, sans-serif" font-size="63.70" fill="#000"><tspan x="2481.62" y="0.9" font-family="&quot;Liberation Serif&quot;, serif" font-style="italic" font-size="63.60">δ</tspan><tspan x="2509.72" y="0">=0.95</tspan></text>
<rect x="1734" y="314.5" width="71" height="9" fill="#0000ff" shape-rendering="crispEdges"/>
<text transform="translate(0 344.58) scale(0.7291 1)" font-family="&quot;Liberation Sans&quot;, sans-serif" font-size="63.70" fill="#000"><tspan x="2481.62" y="0.9" font-family="&quot;Liberation Serif&quot;, serif" font-style="italic" font-size="63.60">δ</tspan><tspan x="2509.72" y="0">=0.90</tspan></text>
<rect x="1734" y="393.6" width="71" height="9" fill="#00ff00" shape-rendering="crispEdges"/>
<text transform="translate(0 424.18) scale(0.7291 1)" font-family="&quot;Liberation Sans&quot;, sans-serif" font-size="63.70" fill="#000"><tspan x="2481.62" y="0.9" font-family="&quot;Liberation Serif&quot;, serif" font-style="italic" font-size="63.60">δ</tspan><tspan x="2509.72" y="0">=0.85</tspan></text>
<rect x="1728.0" y="1613.5" width="228.0" height="325.0" fill="#ffffff"/>
<g fill="#1c1c1c">
<rect x="1727.00" y="1612.30" width="230.00" height="2.40"/>
<rect x="1727.00" y="1937.30" width="230.00" height="2.40"/>
<rect x="1727.00" y="1613.50" width="2.00" height="325.00"/>
<rect x="1955.00" y="1613.50" width="2.00" height="325.00"/>
</g>
<rect x="1734" y="1652.8" width="71" height="9" fill="#ff0000" shape-rendering="crispEdges"/>
<text transform="translate(0 1681.88) scale(0.7291 1)" font-family="&quot;Liberation Sans&quot;, sans-serif" font-size="63.70" fill="#000"><tspan x="2481.62" y="0.9" font-family="&quot;Liberation Serif&quot;, serif" font-style="italic" font-size="63.60">δ</tspan><tspan x="2509.72" y="0">=<tspan dx="3.02">1</tspan></tspan></text>
<rect x="1861.59" y="1674.62" width="9.14" height="8.26" fill="#fff"/>
<rect x="1874.84" y="1674.62" width="8.78" height="8.26" fill="#fff"/>
<rect x="1734" y="1731.9" width="71" height="9" fill="#000000" shape-rendering="crispEdges"/>
<text transform="translate(0 1761.48) scale(0.7291 1)" font-family="&quot;Liberation Sans&quot;, sans-serif" font-size="63.70" fill="#000"><tspan x="2481.62" y="0.9" font-family="&quot;Liberation Serif&quot;, serif" font-style="italic" font-size="63.60">δ</tspan><tspan x="2509.72" y="0">=0.95</tspan></text>
<rect x="1734" y="1811.0" width="71" height="9" fill="#0000ff" shape-rendering="crispEdges"/>
<text transform="translate(0 1841.08) scale(0.7291 1)" font-family="&quot;Liberation Sans&quot;, sans-serif" font-size="63.70" fill="#000"><tspan x="2481.62" y="0.9" font-family="&quot;Liberation Serif&quot;, serif" font-style="italic" font-size="63.60">δ</tspan><tspan x="2509.72" y="0">=0.90</tspan></text>
<rect x="1734" y="1890.1" width="71" height="9" fill="#00ff00" shape-rendering="crispEdges"/>
<text transform="translate(0 1920.68) scale(0.7291 1)" font-family="&quot;Liberation Sans&quot;, sans-serif" font-size="63.70" fill="#000"><tspan x="2481.62" y="0.9" font-family="&quot;Liberation Serif&quot;, serif" font-style="italic" font-size="63.60">δ</tspan><tspan x="2509.72" y="0">=0.85</tspan></text>
</svg>
</body></html>
